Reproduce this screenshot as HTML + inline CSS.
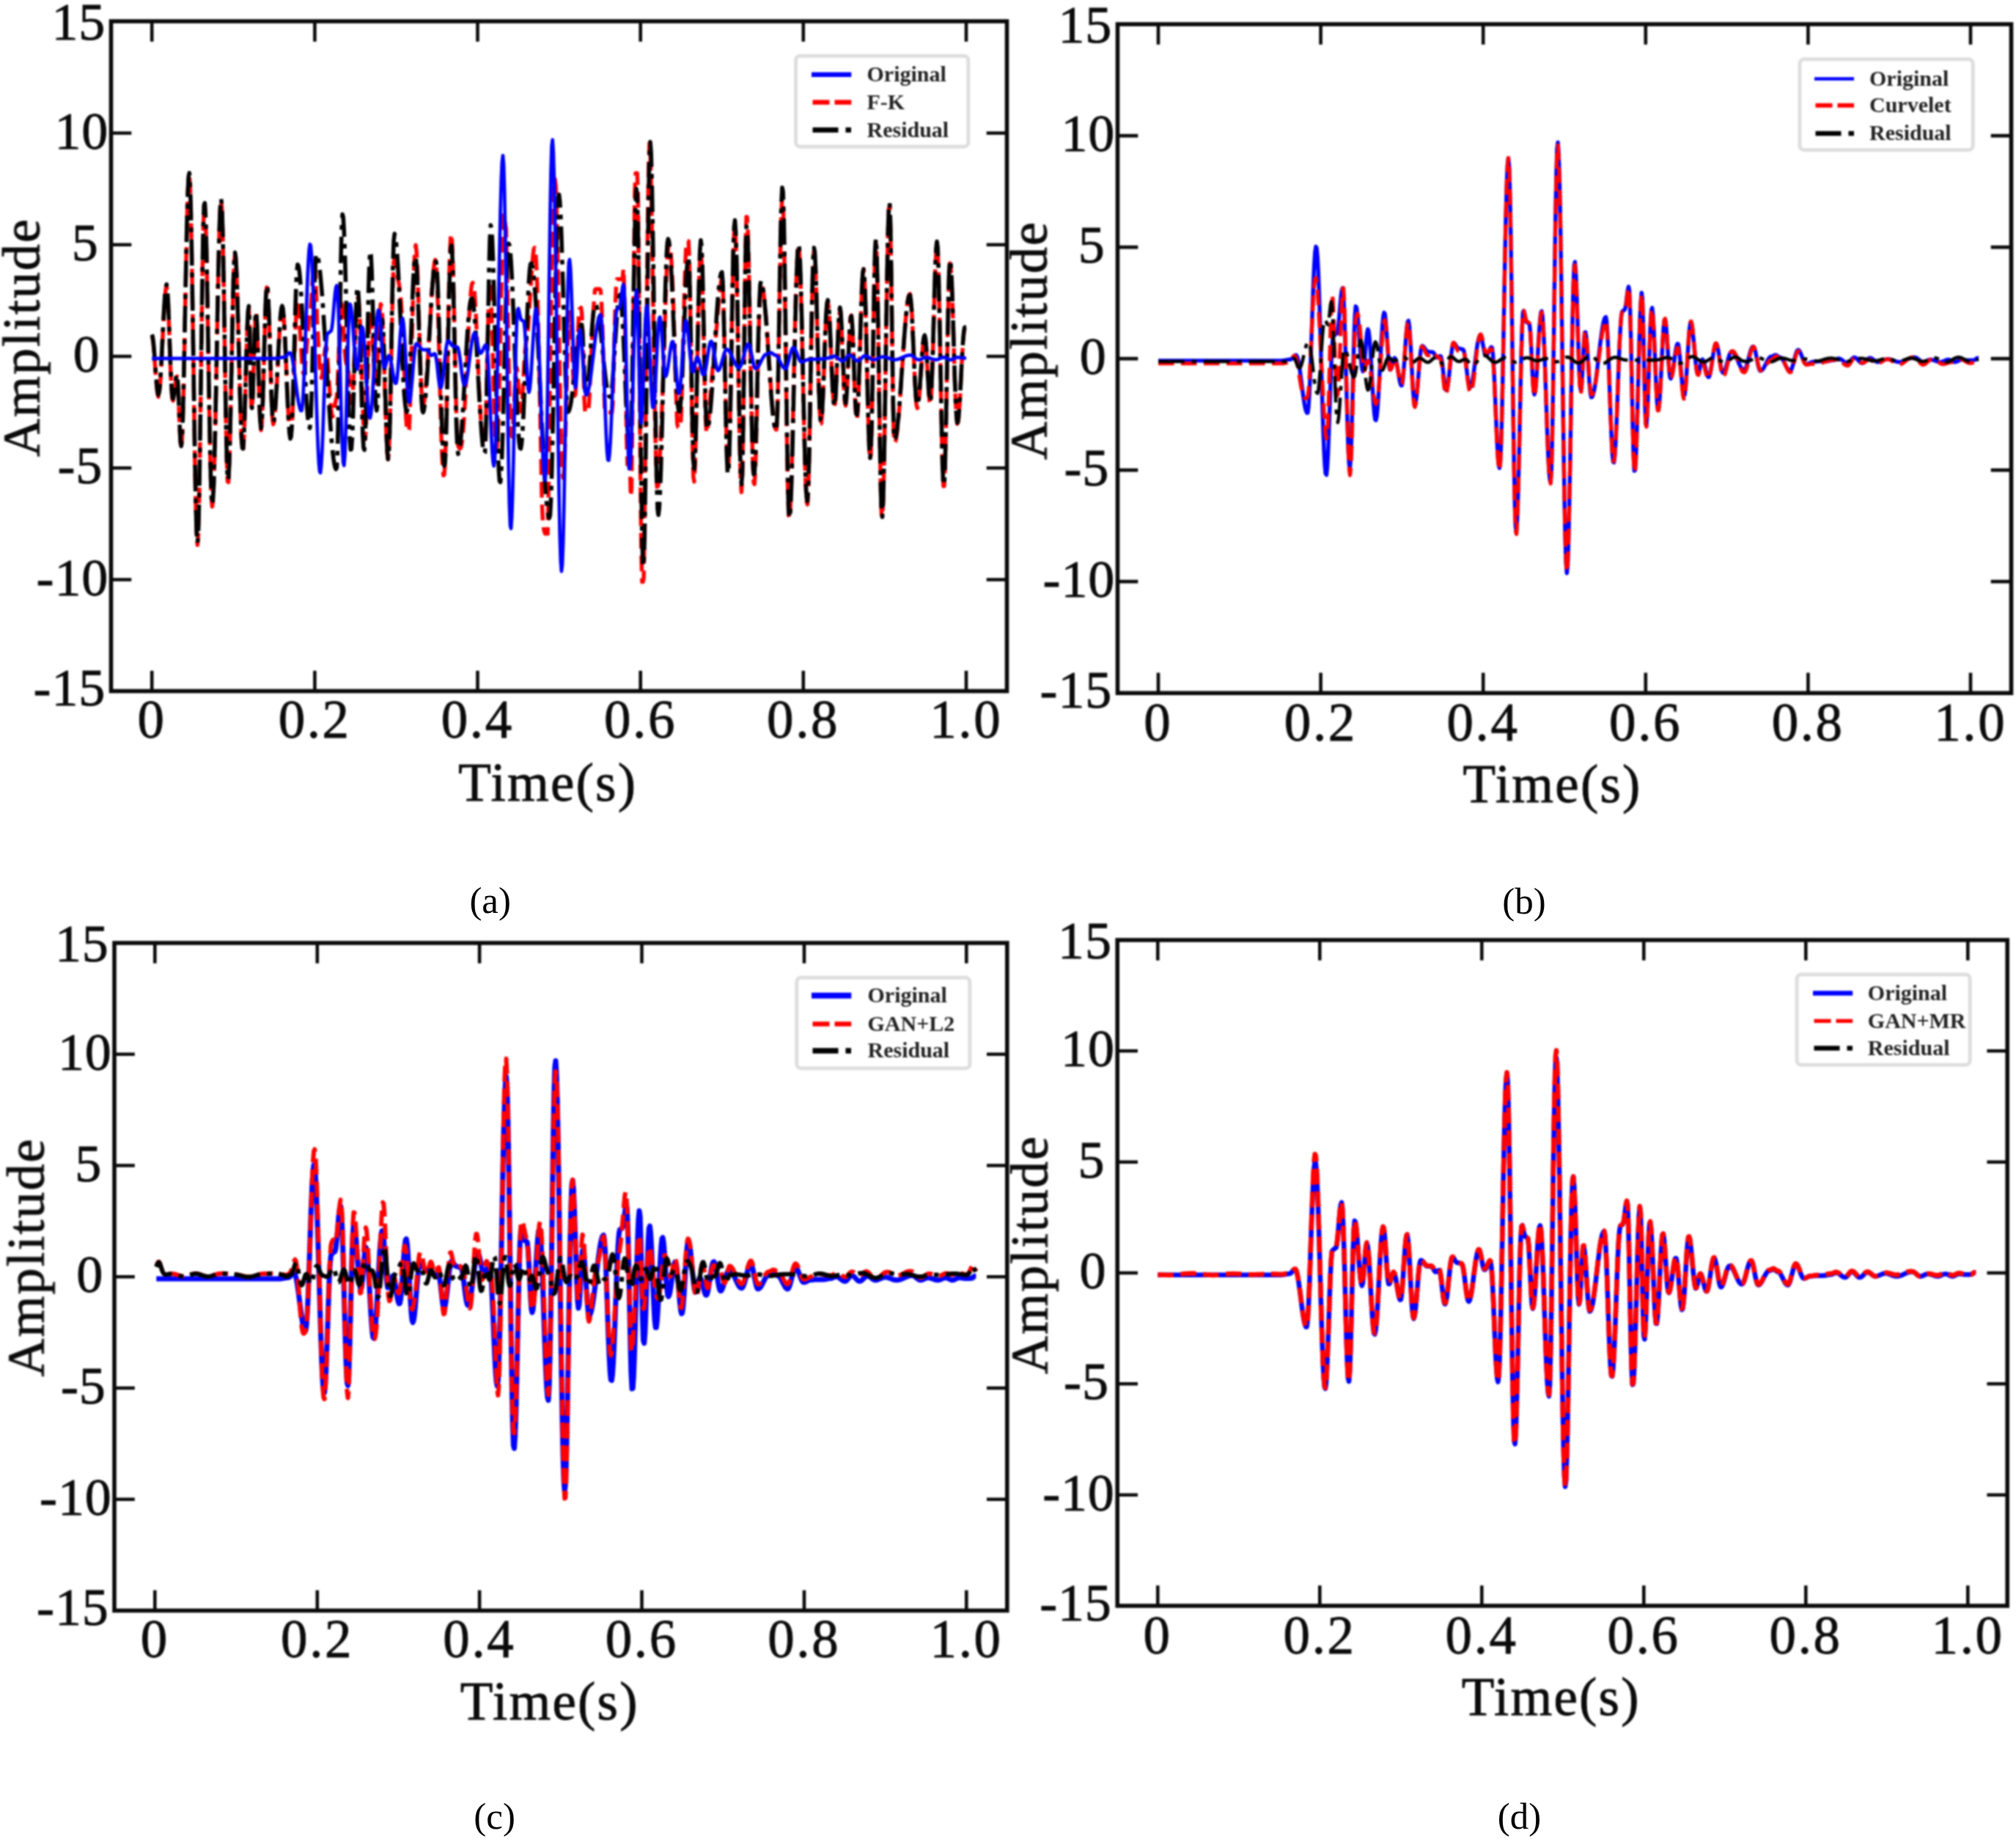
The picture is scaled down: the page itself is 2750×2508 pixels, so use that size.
<!DOCTYPE html>
<html lang="en"><head><meta charset="utf-8"><title>Denoising comparison of a single trace</title>
<style>html,body{margin:0;padding:0;background:#fff;overflow:hidden;width:2750px;height:2508px}svg{display:block}text{font-family:"Liberation Serif", "DejaVu Serif", serif;fill:#0b0b0b}.tk,.tx,.ax,.am{stroke:#0b0b0b;stroke-width:.9px}.tk{font-size:72px;letter-spacing:.8px}.tx{font-size:73px;letter-spacing:2.6px}.ax{font-size:73px;letter-spacing:2.2px}.am{font-size:72px;letter-spacing:2px}.lg{font-size:30px;font-weight:bold;fill:#222}.sub{font-size:51px;fill:#000}</style></head><body>
<svg width="2750" height="2508" viewBox="0 0 2750 2508">
<defs><filter id="soft" color-interpolation-filters="sRGB" x="-2%" y="-2%" width="104%" height="104%"><feGaussianBlur stdDeviation="0.85"/></filter><filter id="softt" color-interpolation-filters="sRGB" x="-10%" y="-20%" width="120%" height="140%"><feGaussianBlur stdDeviation="0.8"/></filter></defs>
<rect width="2750" height="2508" fill="#fff"/>
<g id="panel-a" filter="url(#soft)">
<path d="M207.2 459.1L208.3 462.2L209.4 471.0L210.5 484.3L211.6 500.0L212.8 515.7L213.9 529.0L215.0 537.9L216.1 541.1L217.2 537.6L218.3 527.0L219.4 510.4L220.5 489.4L221.6 466.1L222.8 442.8L223.9 421.8L225.0 405.0L226.1 394.3L227.2 390.6L228.3 397.0L229.4 415.4L230.5 442.7L231.6 474.3L232.7 505.0L233.9 529.7L235.0 544.1L236.1 546.5L237.2 541.3L238.3 532.1L239.4 522.0L240.5 514.8L241.6 513.3L242.7 525.9L243.9 551.5L245.0 581.0L246.1 603.6L247.2 611.2L248.3 600.4L249.4 571.8L250.5 528.4L251.6 474.4L252.7 415.5L253.9 357.4L255.0 306.2L256.1 266.9L257.2 243.6L258.3 238.6L259.4 255.7L260.5 294.6L261.6 351.6L262.7 421.6L263.9 497.9L265.0 573.6L266.1 641.5L267.2 695.6L268.3 730.6L269.4 743.4L270.5 729.3L271.6 685.7L272.7 618.5L273.8 536.9L275.0 451.6L276.1 374.3L277.2 315.3L278.3 282.6L279.4 279.6L280.5 300.0L281.6 340.3L282.7 396.0L283.8 461.2L285.0 528.9L286.1 591.8L287.2 643.1L288.3 677.5L289.4 691.1L290.5 684.6L291.6 661.8L292.7 624.5L293.8 575.7L295.0 519.3L296.1 460.0L297.2 402.5L298.3 351.4L299.4 311.0L300.5 284.3L301.6 273.7L302.7 283.8L303.8 319.2L305.0 375.2L306.1 443.9L307.2 515.9L308.3 581.0L309.4 630.3L310.5 656.8L311.6 657.6L312.7 637.0L313.8 598.4L314.9 547.1L316.1 490.0L317.2 434.6L318.3 388.6L319.4 358.0L320.5 347.0L321.6 353.9L322.7 374.5L323.8 406.6L324.9 446.7L326.1 490.6L327.2 533.5L328.3 570.9L329.4 598.6L330.5 613.8L331.6 614.5L332.7 598.4L333.8 567.8L334.9 528.2L336.1 486.8L337.2 451.0L338.3 427.3L339.4 420.1L340.5 448.3L341.6 505.7L342.7 552.8L343.8 559.4L344.9 538.0L346.0 500.8L347.2 461.3L348.3 433.8L349.4 428.0L350.5 442.7L351.6 473.0L352.7 511.6L353.8 549.0L354.9 576.3L356.0 586.8L357.2 578.7L358.3 554.4L359.4 518.3L360.5 476.8L361.6 437.4L362.7 407.3L363.8 391.9L364.9 393.5L366.0 410.5L367.2 439.8L368.3 476.6L369.4 514.8L370.5 547.9L371.6 570.4L372.7 578.7L373.8 575.6L374.9 566.4L376.0 551.8L377.2 532.9L378.3 511.2L379.4 488.4L380.5 466.5L381.6 447.2L382.7 432.0L383.8 422.2L384.9 418.5L386.0 422.3L387.1 434.1L388.3 452.9L389.4 476.3L390.5 502.3L391.6 528.5L392.7 552.6L393.8 572.6L394.9 586.6L396.0 593.7L397.1 592.7L398.3 579.3L399.4 555.1L400.5 523.7L401.6 489.5L402.7 457.4L403.8 432.1L404.9 417.4L406.0 415.9L407.1 424.7L408.3 437.2L409.4 452.8L410.5 470.8L411.6 489.8L412.7 503.3L413.8 509.3L414.9 508.2L416.0 501.1L417.1 489.5L418.3 475.4L419.4 460.7L420.5 447.4L421.6 437.1L422.7 430.8L423.8 420.9L424.9 404.9L426.0 386.2L427.1 369.4L428.2 359.3L429.4 360.6L430.5 376.2L431.6 407.2L432.7 443.1L433.8 456.9L434.9 480.7L436.0 499.1L437.1 511.0L438.2 515.3L439.4 512.2L440.5 503.7L441.6 492.5L442.7 481.8L443.8 474.8L444.9 471.8L446.0 478.2L447.1 494.7L448.2 511.9L449.4 527.9L450.5 543.0L451.6 557.3L452.7 566.3L453.8 568.2L454.9 564.8L456.0 558.3L457.1 551.2L458.2 545.8L459.4 541.2L460.5 524.0L461.6 496.7L462.7 464.8L463.8 435.2L464.9 414.5L466.0 407.9L467.1 418.4L468.2 441.1L469.3 463.8L470.5 481.3L471.6 491.7L472.7 496.9L473.8 499.7L474.9 503.8L476.0 512.3L477.1 526.9L478.2 543.1L479.3 549.8L480.5 544.8L481.6 528.8L482.7 504.6L483.8 476.2L484.9 448.2L486.0 425.1L487.1 410.5L488.2 405.9L489.3 411.0L490.5 426.2L491.6 451.0L492.7 483.3L493.8 519.7L494.9 554.7L496.0 582.7L497.1 599.6L498.2 598.8L499.3 580.4L500.5 548.5L501.6 510.0L502.7 472.4L503.8 442.8L504.9 426.7L506.0 425.9L507.1 436.9L508.2 456.7L509.3 480.7L510.4 503.3L511.6 518.8L512.7 522.8L513.8 513.1L514.9 493.6L516.0 468.9L517.1 443.7L518.2 424.3L519.3 414.8L520.4 417.3L521.6 431.9L522.7 458.0L523.8 491.6L524.9 528.0L526.0 564.7L527.1 596.3L528.2 617.9L529.3 626.6L530.4 618.5L531.6 588.5L532.7 541.3L533.8 485.2L534.9 429.7L536.0 384.5L537.1 357.4L538.2 353.0L539.3 359.1L540.4 367.3L541.6 374.3L542.7 380.0L543.8 385.1L544.9 391.1L546.0 399.6L547.1 411.8L548.2 428.6L549.3 450.1L550.4 476.9L551.5 507.6L552.7 539.4L553.8 569.1L554.9 583.1L556.0 583.1L557.1 588.0L558.2 585.9L559.3 556.0L560.4 517.9L561.5 475.3L562.7 432.2L563.8 393.1L564.9 361.6L566.0 341.2L567.1 334.2L568.2 343.5L569.3 365.9L570.4 397.5L571.5 434.5L572.7 472.5L573.8 507.0L574.9 533.8L576.0 549.7L577.1 553.2L578.2 550.3L579.3 543.6L580.4 533.2L581.5 519.6L582.7 503.3L583.8 485.7L584.9 467.8L586.0 449.6L587.1 431.3L588.2 413.1L589.3 395.6L590.4 380.0L591.5 367.2L592.6 358.2L593.8 354.3L594.9 358.7L596.0 376.8L597.1 408.0L598.2 448.4L599.3 493.6L600.4 538.8L601.5 579.7L602.6 613.2L603.8 636.7L604.9 648.4L606.0 647.4L607.1 632.0L608.2 597.7L609.3 548.7L610.4 491.5L611.5 434.0L612.6 382.3L613.8 342.8L614.9 320.8L616.0 319.2L617.1 337.1L618.2 371.6L619.3 418.7L620.4 472.0L621.5 524.1L622.6 567.6L623.8 596.4L624.9 607.8L626.0 610.4L627.1 611.8L628.2 611.4L629.3 608.4L630.4 602.0L631.5 591.7L632.6 577.4L633.7 559.1L634.9 537.8L636.0 514.8L637.1 491.1L638.2 467.5L639.3 445.1L640.4 425.0L641.5 408.1L642.6 395.2L643.7 387.2L644.9 385.7L646.0 387.9L647.1 397.0L648.2 411.8L649.3 431.7L650.4 455.7L651.5 482.0L652.6 508.7L653.7 533.9L654.9 555.8L656.0 573.5L657.1 587.5L658.2 597.5L659.3 603.5L660.4 605.7L661.5 602.6L662.6 578.9L663.7 534.9L664.8 484.0L666.0 436.3L667.1 400.8L668.2 385.0L669.3 393.2L670.4 421.5L671.5 458.5L672.6 500.4L673.7 543.5L674.8 580.9L676.0 605.1L677.1 614.3L678.2 608.0L679.3 587.0L680.4 553.2L681.5 509.6L682.6 459.5L683.7 406.6L684.8 354.9L686.0 308.9L687.1 293.1L688.2 293.1L689.3 305.8L690.4 312.1L691.5 360.2L692.6 418.1L693.7 479.2L694.8 534.4L696.0 572.9L697.1 591.5L698.2 595.3L699.3 586.9L700.4 569.4L701.5 547.1L702.6 525.0L703.7 508.2L704.8 501.2L705.9 506.8L707.1 524.4L708.2 542.2L709.3 555.6L710.4 561.2L711.5 556.0L712.6 543.1L713.7 523.9L714.8 500.2L715.9 482.1L717.1 470.9L718.2 463.7L719.3 456.8L720.4 446.8L721.5 431.3L722.6 412.7L723.7 394.5L724.8 378.0L725.9 362.0L727.1 348.3L728.2 339.3L729.3 337.8L730.4 343.1L731.5 358.5L732.6 384.5L733.7 421.0L734.8 466.4L735.9 518.5L737.1 574.5L738.2 631.4L739.3 686.2L740.4 710.3L741.5 719.4L742.6 725.3L743.7 727.9L744.8 727.9L745.9 727.9L747.0 727.9L748.2 669.2L749.3 590.0L750.4 510.8L751.5 431.8L752.6 361.3L753.7 306.1L754.8 266.5L755.9 247.5L757.0 244.1L758.2 253.2L759.3 284.9L760.4 331.8L761.5 390.1L762.6 455.3L763.7 518.4L764.8 573.3L765.9 615.8L767.0 642.7L768.2 651.9L769.3 643.7L770.4 620.2L771.5 585.2L772.6 543.5L773.7 500.3L774.8 460.9L775.9 433.4L777.0 425.7L778.2 433.1L779.3 451.9L780.4 477.7L781.5 505.0L782.6 527.5L783.7 539.9L784.8 538.4L785.9 522.4L787.0 495.1L788.1 462.7L789.3 433.3L790.4 421.4L791.5 421.4L792.6 419.5L793.7 427.3L794.8 456.6L795.9 499.4L797.0 544.2L798.1 561.2L799.3 561.2L800.4 561.2L801.5 561.2L802.6 561.2L803.7 547.1L804.8 524.2L805.9 499.3L807.0 473.8L808.1 449.4L809.3 427.5L810.4 409.2L811.5 395.6L812.6 394.3L813.7 394.3L814.8 394.3L815.9 394.3L817.0 394.3L818.1 394.3L819.3 396.3L820.4 411.0L821.5 437.4L822.6 472.4L823.7 513.0L824.8 555.8L825.9 562.5L827.0 562.5L828.1 562.5L829.2 562.5L830.4 562.5L831.5 562.5L832.6 562.5L833.7 562.5L834.8 562.5L835.9 551.0L837.0 505.8L838.1 461.6L839.2 421.9L840.4 389.8L841.5 380.7L842.6 380.7L843.7 380.7L844.8 380.7L845.9 380.7L847.0 380.7L848.1 380.7L849.2 380.7L850.4 366.4L851.5 391.9L852.6 446.8L853.7 519.4L854.8 599.2L855.9 633.5L857.0 633.5L858.1 633.5L859.2 633.5L860.4 677.2L861.5 666.3L862.6 572.4L863.7 464.3L864.8 356.4L865.9 263.2L867.0 236.2L868.1 236.2L869.2 236.2L870.3 264.8L871.5 389.5L872.6 531.3L873.7 660.4L874.8 753.6L875.9 793.6L877.0 793.6L878.1 788.4L879.2 716.4L880.3 615.1L881.5 500.3L882.6 388.8L883.7 293.2L884.8 225.7L885.9 195.4L887.0 205.9L888.1 246.7L889.2 305.5L890.3 375.2L891.5 448.5L892.6 519.4L893.7 581.7L894.8 629.7L895.9 659.7L897.0 669.7L898.1 660.1L899.2 641.2L900.3 619.2L901.5 594.6L902.6 568.0L903.7 539.5L904.8 508.9L905.9 475.8L907.0 440.7L908.1 404.9L909.2 373.9L910.3 351.3L911.4 338.8L912.6 334.0L913.7 335.2L914.8 342.7L915.9 356.8L917.0 377.2L918.1 403.1L919.2 435.3L920.3 472.0L921.4 510.2L922.6 546.4L923.7 577.2L924.8 582.5L925.9 582.5L927.0 582.5L928.1 582.5L929.2 566.9L930.3 528.1L931.4 483.3L932.6 437.3L933.7 394.8L934.8 359.9L935.9 335.6L937.0 329.0L938.1 329.0L939.2 329.0L940.3 352.9L941.4 407.7L942.5 478.9L943.7 552.6L944.8 614.1L945.9 651.1L947.0 656.9L948.1 636.2L949.2 595.6L950.3 542.0L951.4 483.6L952.5 427.7L953.7 381.7L954.8 352.0L955.9 342.6L957.0 354.8L958.1 386.4L959.2 432.1L960.3 484.2L961.4 533.3L962.5 570.8L963.7 590.3L964.8 588.5L965.9 578.4L967.0 565.9L968.1 552.1L969.2 537.8L970.3 523.7L971.4 510.4L972.5 497.9L973.7 486.2L974.8 475.0L975.9 463.9L977.0 452.4L978.1 440.2L979.2 427.2L980.3 414.1L981.4 402.2L982.5 391.9L983.6 383.8L984.8 378.3L985.9 386.9L987.0 416.9L988.1 462.9L989.2 517.0L990.3 569.6L991.4 611.8L992.5 635.9L993.6 637.6L994.8 615.9L995.9 573.9L997.0 517.5L998.1 454.9L999.2 395.1L1000.3 346.7L1001.4 316.7L1002.5 309.6L1003.6 327.2L1004.8 367.4L1005.9 425.0L1007.0 491.9L1008.1 558.8L1009.2 616.2L1010.3 655.5L1011.4 671.2L1012.5 654.5L1013.6 595.0L1014.8 506.9L1015.9 412.4L1017.0 335.5L1018.1 295.6L1019.2 296.0L1020.3 318.4L1021.4 358.9L1022.5 413.5L1023.6 475.7L1024.7 538.2L1025.9 593.6L1027.0 635.3L1028.1 658.4L1029.2 660.3L1030.3 642.2L1031.4 607.0L1032.5 560.8L1033.6 510.0L1034.7 461.7L1035.9 422.6L1037.0 397.8L1038.1 390.3L1039.2 390.1L1040.3 392.8L1041.4 398.3L1042.5 406.5L1043.6 417.4L1044.7 430.5L1045.9 445.5L1047.0 461.5L1048.1 477.8L1049.2 494.1L1050.3 510.2L1051.4 525.7L1052.5 540.5L1053.6 554.1L1054.7 566.0L1055.9 575.4L1057.0 582.0L1058.1 585.6L1059.2 585.9L1060.3 565.5L1061.4 521.2L1062.5 460.7L1063.6 394.3L1064.7 333.6L1065.8 289.1L1067.0 268.4L1068.1 275.9L1069.2 312.5L1070.3 373.5L1071.4 450.5L1072.5 532.7L1073.6 608.7L1074.7 668.0L1075.8 702.6L1077.0 707.8L1078.1 693.7L1079.2 666.7L1080.3 629.0L1081.4 583.5L1082.5 533.7L1083.6 483.1L1084.7 435.3L1085.8 394.0L1087.0 362.1L1088.1 342.1L1089.2 335.4L1090.3 342.7L1091.4 364.1L1092.5 397.8L1093.6 440.9L1094.7 490.1L1095.8 541.4L1097.0 590.3L1098.1 632.6L1099.2 664.7L1100.3 683.8L1101.4 688.1L1102.5 671.5L1103.6 633.0L1104.7 577.9L1105.8 514.1L1106.9 450.3L1108.1 395.6L1109.2 357.5L1110.3 341.6L1111.4 347.1L1112.5 368.6L1113.6 402.9L1114.7 445.2L1115.8 489.6L1116.9 529.9L1118.1 560.4L1119.2 576.8L1120.3 577.5L1121.4 566.2L1122.5 544.9L1123.6 516.6L1124.7 485.4L1125.8 455.5L1126.9 431.1L1128.1 415.8L1129.2 411.5L1130.3 418.0L1131.4 433.6L1132.5 455.9L1133.6 482.0L1134.7 508.2L1135.8 530.9L1136.9 546.8L1138.1 553.9L1139.2 549.8L1140.3 533.0L1141.4 506.8L1142.5 476.9L1143.6 449.5L1144.7 430.4L1145.8 423.8L1146.9 430.9L1148.0 450.1L1149.2 477.4L1150.3 507.2L1151.4 533.1L1152.5 549.5L1153.6 553.2L1154.7 543.8L1155.8 523.6L1156.9 496.9L1158.0 469.0L1159.2 445.7L1160.3 431.7L1161.4 430.1L1162.5 442.4L1163.6 466.6L1164.7 497.9L1165.8 529.7L1166.9 555.7L1168.0 570.6L1169.2 571.3L1170.3 557.8L1171.4 532.0L1172.5 497.6L1173.6 459.4L1174.7 422.6L1175.8 392.4L1176.9 373.0L1178.0 367.0L1179.1 377.9L1180.3 405.5L1181.4 446.0L1182.5 493.7L1183.6 541.8L1184.7 583.8L1185.8 613.7L1186.9 627.3L1188.0 618.8L1189.1 581.2L1190.3 522.2L1191.4 454.1L1192.5 391.2L1193.6 346.5L1194.7 329.3L1195.8 343.7L1196.9 387.8L1198.0 454.0L1199.1 531.1L1200.3 606.1L1201.4 666.2L1202.5 701.2L1203.6 705.7L1204.7 683.7L1205.8 639.2L1206.9 577.3L1208.0 505.5L1209.1 432.1L1210.3 365.9L1211.4 314.7L1212.5 284.5L1213.6 279.6L1214.7 312.1L1215.8 378.2L1216.9 460.8L1218.0 538.2L1219.1 590.3L1220.2 604.2L1221.4 602.3L1222.5 597.7L1223.6 590.4L1224.7 580.8L1225.8 569.0L1226.9 555.4L1228.0 540.3L1229.1 524.2L1230.2 507.6L1231.4 490.7L1232.5 474.2L1233.6 458.5L1234.7 444.0L1235.8 431.1L1236.9 420.1L1238.0 411.4L1239.1 405.1L1240.2 401.6L1241.4 400.9L1242.5 407.3L1243.6 422.1L1244.7 443.5L1245.8 469.1L1246.9 495.7L1248.0 520.3L1249.1 540.1L1250.2 552.7L1251.4 556.7L1252.5 553.5L1253.6 544.9L1254.7 531.9L1255.8 516.0L1256.9 499.2L1258.0 483.3L1259.1 470.4L1260.2 461.9L1261.3 458.8L1262.5 463.4L1263.6 476.7L1264.7 495.8L1265.8 516.8L1266.9 535.2L1268.0 547.4L1269.1 550.7L1270.2 540.7L1271.3 516.8L1272.5 482.4L1273.6 442.4L1274.7 402.4L1275.8 367.9L1276.9 343.9L1278.0 333.7L1279.1 341.5L1280.2 371.4L1281.3 419.3L1282.5 478.5L1283.6 540.6L1284.7 597.1L1285.8 639.8L1286.9 663.0L1288.0 662.8L1289.1 637.6L1290.2 591.2L1291.3 531.5L1292.5 468.5L1293.6 413.0L1294.7 374.3L1295.8 358.9L1296.9 364.2L1298.0 381.9L1299.1 409.7L1300.2 444.4L1301.3 482.0L1302.4 518.0L1303.6 548.2L1304.7 569.0L1305.8 578.1L1306.9 575.9L1308.0 566.3L1309.1 550.5L1310.2 530.2L1311.3 508.1L1312.4 486.5L1313.6 468.1L1314.7 455.0L1315.8 448.8L1316.9 448.4L1318.0 448.4" fill="none" stroke="#ff0000" stroke-width="5.4" stroke-linejoin="round" stroke-dasharray="21.5 9.5"/>
<path d="M207.2 456.3L208.3 459.4L209.4 468.3L210.5 481.5L211.6 497.2L212.8 512.9L213.9 526.2L215.0 535.2L216.1 538.4L217.2 534.8L218.3 524.2L219.4 507.6L220.5 486.6L221.6 463.3L222.8 440.0L223.9 419.0L225.0 402.3L226.1 391.5L227.2 387.8L228.3 394.2L229.4 412.6L230.5 439.9L231.6 471.6L232.7 502.3L233.9 526.9L235.0 541.4L236.1 543.7L237.2 538.6L238.3 529.3L239.4 519.3L240.5 512.0L241.6 510.6L242.7 523.1L243.9 548.8L245.0 578.2L246.1 600.9L247.2 608.5L248.3 597.7L249.4 569.1L250.5 525.6L251.6 471.7L252.7 412.7L253.9 354.6L255.0 303.4L256.1 264.1L257.2 240.8L258.3 235.9L259.4 253.0L260.5 291.8L261.6 348.9L262.7 418.8L263.9 495.1L265.0 570.8L266.1 638.8L267.2 692.8L268.3 727.8L269.4 740.7L270.5 726.5L271.6 682.9L272.7 615.8L273.8 534.1L275.0 448.9L276.1 371.6L277.2 312.6L278.3 279.8L279.4 276.8L280.5 297.3L281.6 337.5L282.7 393.2L283.8 458.4L285.0 526.1L286.1 589.0L287.2 640.4L288.3 674.7L289.4 688.3L290.5 681.9L291.6 659.0L292.7 621.7L293.8 572.9L295.0 516.6L296.1 457.2L297.2 399.7L298.3 348.7L299.4 308.2L300.5 281.6L301.6 270.9L302.7 281.0L303.8 316.4L305.0 372.4L306.1 441.2L307.2 513.1L308.3 578.3L309.4 627.5L310.5 654.0L311.6 654.9L312.7 634.2L313.8 595.7L314.9 544.4L316.1 487.2L317.2 431.9L318.3 385.8L319.4 355.2L320.5 344.2L321.6 351.1L322.7 371.7L323.8 403.8L324.9 443.9L326.1 487.8L327.2 530.7L328.3 568.1L329.4 595.9L330.5 611.1L331.6 611.8L332.7 595.6L333.8 565.0L334.9 525.4L336.1 484.0L337.2 448.3L338.3 424.6L339.4 417.3L340.5 445.6L341.6 503.0L342.7 550.0L343.8 556.6L344.9 535.2L346.0 498.1L347.2 458.6L348.3 431.0L349.4 425.2L350.5 439.9L351.6 470.3L352.7 508.8L353.8 546.3L354.9 573.5L356.0 584.0L357.2 576.0L358.3 551.7L359.4 515.5L360.5 474.0L361.6 434.7L362.7 404.6L363.8 389.1L364.9 390.8L366.0 407.7L367.2 437.1L368.3 473.9L369.4 512.0L370.5 545.1L371.6 567.7L372.7 575.9L373.8 572.9L374.9 563.6L376.0 549.0L377.2 530.2L378.3 508.6L379.4 486.0L380.5 464.3L381.6 445.2L382.7 430.2L383.8 420.6L384.9 417.2L386.0 421.0L387.1 432.9L388.3 451.8L389.4 475.8L390.5 502.9L391.6 530.4L392.7 555.8L393.8 576.8L394.9 591.4L396.0 598.3L397.1 595.3L398.3 578.1L399.4 548.5L400.5 510.3L401.6 468.2L402.7 427.6L403.8 393.5L404.9 370.2L406.0 360.7L407.1 362.4L408.3 369.3L409.4 380.8L410.5 396.6L411.6 415.7L412.7 437.5L413.8 460.8L414.9 484.7L416.0 508.0L417.1 529.6L418.3 548.7L419.4 564.3L420.5 575.6L421.6 582.3L422.7 583.8L423.8 571.9L424.9 544.0L426.0 504.4L427.1 458.9L428.2 414.3L429.4 377.3L430.5 353.5L431.6 346.2L432.7 347.6L433.8 351.4L434.9 357.5L436.0 365.7L437.1 376.1L438.2 388.3L439.4 402.2L440.5 417.6L441.6 434.3L442.7 451.8L443.8 470.1L444.9 488.7L446.0 507.4L447.1 525.9L448.2 543.8L449.4 561.0L450.5 577.0L451.6 591.7L452.7 604.8L453.8 616.0L454.9 625.3L456.0 632.5L457.1 637.4L458.2 639.9L459.4 637.8L460.5 611.5L461.6 560.9L462.7 494.5L463.8 423.3L464.9 359.2L466.0 313.0L467.1 292.2L468.2 296.1L469.3 314.9L470.5 346.5L471.6 388.0L472.7 435.6L473.8 484.8L474.9 531.0L476.0 570.1L477.1 598.4L478.2 613.2L479.3 612.9L480.5 596.5L481.6 566.0L482.7 526.1L483.8 482.6L484.9 442.2L486.0 410.8L487.1 393.1L488.2 391.7L489.3 406.9L490.5 436.4L491.6 475.7L492.7 519.1L493.8 560.0L494.9 592.3L496.0 611.2L497.1 613.6L498.2 594.5L499.3 555.8L500.5 504.0L501.6 447.9L502.7 397.0L503.8 359.8L504.9 342.6L506.0 347.1L507.1 369.3L508.2 405.3L509.3 449.0L510.4 493.1L511.6 530.0L512.7 553.6L513.8 559.9L514.9 551.4L516.0 531.8L517.1 505.0L518.2 476.8L519.3 452.9L520.4 438.4L521.6 436.4L522.7 449.7L523.8 476.7L524.9 512.9L526.0 552.2L527.1 588.0L528.2 614.1L529.3 626.2L530.4 619.4L531.6 588.3L532.7 537.6L533.8 475.9L534.9 413.7L536.0 361.5L537.1 328.1L538.2 318.9L539.3 322.3L540.4 330.7L541.6 343.8L542.7 361.1L543.8 381.7L544.9 404.8L546.0 429.5L547.1 454.6L548.2 479.1L549.3 501.9L550.4 522.1L551.5 538.8L552.7 551.3L553.8 559.1L554.9 561.8L556.0 557.4L557.1 544.1L558.2 523.2L559.3 496.4L560.4 466.0L561.5 434.8L562.7 405.4L563.8 380.3L564.9 361.8L566.0 351.4L567.1 350.3L568.2 361.0L569.3 382.8L570.4 413.3L571.5 448.9L572.7 485.3L573.8 518.2L574.9 543.8L576.0 559.1L577.1 562.5L578.2 559.5L579.3 552.6L580.4 542.2L581.5 528.5L582.7 512.1L583.8 493.7L584.9 474.0L586.0 453.7L587.1 433.6L588.2 414.5L589.3 397.2L590.4 382.3L591.5 370.3L592.6 361.9L593.8 357.2L594.9 356.8L596.0 366.7L597.1 387.8L598.2 418.3L599.3 455.5L600.4 496.3L601.5 537.1L602.6 574.3L603.8 604.7L604.9 625.7L606.0 635.4L607.1 630.9L608.2 606.3L609.3 564.7L610.4 511.9L611.5 455.3L612.6 402.9L613.8 361.8L614.9 338.0L616.0 334.7L617.1 351.4L618.2 385.6L619.3 432.5L620.4 485.6L621.5 537.3L622.6 580.5L623.8 609.1L624.9 619.1L626.0 617.2L627.1 611.7L628.2 602.7L629.3 590.4L630.4 575.5L631.5 558.4L632.6 539.6L633.7 519.9L634.9 500.0L636.0 480.5L637.1 462.2L638.2 445.6L639.3 431.5L640.4 420.2L641.5 412.2L642.6 407.7L643.7 407.0L644.9 410.3L646.0 417.6L647.1 428.6L648.2 442.8L649.3 459.8L650.4 478.8L651.5 499.1L652.6 520.0L653.7 540.6L654.9 560.2L656.0 577.9L657.1 593.1L658.2 605.2L659.3 613.7L660.4 618.3L661.5 617.3L662.6 594.6L663.7 549.7L664.8 490.1L666.0 425.9L667.1 367.9L668.2 326.0L669.3 307.1L670.4 310.6L671.5 327.4L672.6 355.9L673.7 394.1L674.8 438.9L676.0 487.0L677.1 534.9L678.2 578.7L679.3 615.3L680.4 641.8L681.5 656.3L682.6 657.6L683.7 644.9L684.8 619.3L686.0 582.8L687.1 538.8L688.2 491.0L689.3 443.6L690.4 400.6L691.5 365.9L692.6 342.4L693.7 332.1L694.8 333.8L696.0 342.2L697.1 356.7L698.2 376.7L699.3 401.2L700.4 429.0L701.5 458.9L702.6 489.4L703.7 519.1L704.8 546.6L705.9 570.5L707.1 589.8L708.2 603.5L709.3 611.0L710.4 611.9L711.5 605.5L712.6 592.0L713.7 572.3L714.8 547.4L715.9 518.9L717.1 488.4L718.2 457.7L719.3 428.7L720.4 403.1L721.5 382.3L722.6 367.6L723.7 359.9L724.8 359.1L725.9 362.3L727.1 368.7L728.2 378.2L729.3 390.7L730.4 405.9L731.5 423.4L732.6 443.1L733.7 464.5L734.8 487.1L735.9 510.7L737.1 534.6L738.2 558.5L739.3 582.0L740.4 604.5L741.5 625.6L742.6 645.0L743.7 662.2L744.8 677.0L745.9 689.0L747.0 698.1L748.2 704.0L749.3 706.6L750.4 702.7L751.5 683.0L752.6 648.4L753.7 601.5L754.8 545.8L755.9 485.6L757.0 425.4L758.2 369.7L759.3 322.9L760.4 288.4L761.5 268.8L762.6 265.4L763.7 274.5L764.8 294.1L765.9 322.7L767.0 358.2L768.2 397.9L769.3 438.7L770.4 477.6L771.5 511.6L772.6 538.2L773.7 555.4L774.8 561.8L775.9 560.9L777.0 557.9L778.2 552.9L779.3 546.2L780.4 537.9L781.5 528.3L782.6 517.8L783.7 506.7L784.8 495.4L785.9 484.4L787.0 474.1L788.1 464.7L789.3 456.6L790.4 450.1L791.5 445.5L792.6 442.8L793.7 442.7L794.8 455.0L795.9 479.8L797.0 508.5L798.1 531.2L799.3 539.9L800.4 537.6L801.5 530.8L802.6 519.9L803.7 505.8L804.8 489.6L805.9 472.5L807.0 455.8L808.1 440.7L809.3 428.4L810.4 419.8L811.5 415.6L812.6 415.6L813.7 417.6L814.8 421.5L815.9 427.1L817.0 434.1L818.1 442.5L819.3 452.0L820.4 462.2L821.5 472.9L822.6 483.8L823.7 494.6L824.8 504.8L825.9 514.3L827.0 522.7L828.1 529.7L829.2 535.3L830.4 539.2L831.5 541.2L832.6 541.2L833.7 537.1L834.8 528.6L835.9 516.3L837.0 501.1L838.1 483.9L839.2 465.8L840.4 448.2L841.5 432.1L842.6 418.7L843.7 408.8L844.8 403.1L845.9 402.0L847.0 407.2L848.1 419.1L849.2 436.9L850.4 459.3L851.5 484.9L852.6 512.0L853.7 538.8L854.8 563.4L855.9 584.3L857.0 600.0L858.1 609.6L859.2 612.2L860.4 597.1L861.5 559.2L862.6 503.8L863.7 438.8L864.8 373.1L865.9 316.1L867.0 275.7L868.1 257.5L869.2 267.4L870.3 311.9L871.5 385.0L872.6 476.5L873.7 573.5L874.8 662.6L875.9 731.2L877.0 769.7L878.1 772.3L879.2 735.5L880.3 663.5L881.5 566.5L882.6 458.1L883.7 353.4L884.8 267.1L885.9 211.2L887.0 193.6L888.1 208.2L889.2 246.9L890.3 305.8L891.5 379.0L892.6 459.2L893.7 538.3L894.8 608.2L895.9 662.1L897.0 694.5L898.1 702.3L899.2 693.5L900.3 672.7L901.5 641.4L902.6 601.6L903.7 556.0L904.8 507.7L905.9 459.7L907.0 415.4L908.1 377.7L909.2 349.0L910.3 331.4L911.4 325.9L912.6 329.4L913.7 338.9L914.8 354.0L915.9 373.8L917.0 397.3L918.1 423.2L919.2 450.2L920.3 476.9L921.4 501.9L922.6 523.7L923.7 541.4L924.8 554.0L925.9 560.7L927.0 561.1L928.1 553.9L929.2 539.3L930.3 518.4L931.4 492.8L932.6 464.4L933.7 435.3L934.8 407.9L935.9 384.0L937.0 365.7L938.1 354.1L939.2 350.3L940.3 366.1L941.4 408.7L942.5 469.3L943.7 535.3L944.8 593.0L945.9 630.4L947.0 639.8L948.1 624.6L949.2 589.8L950.3 540.1L951.4 482.5L952.5 425.1L953.7 375.8L954.8 341.7L955.9 327.5L957.0 335.1L958.1 363.2L959.2 407.0L960.3 459.2L961.4 510.9L962.5 553.3L963.7 579.4L964.8 585.3L965.9 582.9L967.0 577.4L968.1 568.9L969.2 557.8L970.3 544.2L971.4 528.8L972.5 511.8L973.7 493.8L974.8 475.4L975.9 457.0L977.0 439.3L978.1 422.8L979.2 407.9L980.3 395.0L981.4 384.7L982.5 377.1L983.6 372.5L984.8 371.1L985.9 383.9L987.0 418.0L988.1 467.7L989.2 524.4L990.3 578.7L991.4 621.4L992.5 645.2L993.6 646.0L994.8 623.0L995.9 579.2L997.0 520.7L998.1 455.7L999.2 393.4L1000.3 342.4L1001.4 309.9L1002.5 300.4L1003.6 315.9L1004.8 354.4L1005.9 410.6L1007.0 476.7L1008.1 543.3L1009.2 601.1L1010.3 642.1L1011.4 660.6L1012.5 647.5L1013.6 592.2L1014.8 508.5L1015.9 418.4L1017.0 345.4L1018.1 308.7L1019.2 311.4L1020.3 334.9L1021.4 375.3L1022.5 427.7L1023.6 486.0L1024.7 543.3L1025.9 592.8L1027.0 628.8L1028.1 646.9L1029.2 645.4L1030.3 625.6L1031.4 590.4L1032.5 544.8L1033.6 495.2L1034.7 448.5L1035.9 411.2L1037.0 388.6L1038.1 383.3L1039.2 385.4L1040.3 390.2L1041.4 397.6L1042.5 407.5L1043.6 419.4L1044.7 433.2L1045.9 448.4L1047.0 464.7L1048.1 481.5L1049.2 498.4L1050.3 514.9L1051.4 530.7L1052.5 545.2L1053.6 558.1L1054.7 569.0L1055.9 577.7L1057.0 583.8L1058.1 587.2L1059.2 586.9L1060.3 565.3L1061.4 519.4L1062.5 456.8L1063.6 388.2L1064.7 325.2L1065.8 278.4L1067.0 255.7L1068.1 261.5L1069.2 296.8L1070.3 356.9L1071.4 433.8L1072.5 517.0L1073.6 595.3L1074.7 658.0L1075.8 696.7L1077.0 706.5L1078.1 696.8L1079.2 673.6L1080.3 638.9L1081.4 595.1L1082.5 545.7L1083.6 494.3L1084.7 444.8L1085.8 401.1L1087.0 366.3L1088.1 343.2L1089.2 333.5L1090.3 338.3L1091.4 357.8L1092.5 390.4L1093.6 433.3L1094.7 482.7L1095.8 534.4L1097.0 583.8L1098.1 626.7L1099.2 659.4L1100.3 679.0L1101.4 683.6L1102.5 667.0L1103.6 628.6L1104.7 573.6L1105.8 509.9L1106.9 446.3L1108.1 391.7L1109.2 353.7L1110.3 337.8L1111.4 343.4L1112.5 364.8L1113.6 399.2L1114.7 441.5L1115.8 485.9L1116.9 526.2L1118.1 556.7L1119.2 573.1L1120.3 573.9L1121.4 562.5L1122.5 541.3L1123.6 513.3L1124.7 482.2L1125.8 452.6L1126.9 428.5L1128.1 413.4L1129.2 409.2L1130.3 415.8L1131.4 431.5L1132.5 454.3L1133.6 480.9L1134.7 507.6L1135.8 530.7L1136.9 546.9L1138.1 554.0L1139.2 549.7L1140.3 532.4L1141.4 505.6L1142.5 474.8L1143.6 446.6L1144.7 426.7L1145.8 419.2L1146.9 425.6L1148.0 444.3L1149.2 471.3L1150.3 501.1L1151.4 527.5L1152.5 545.0L1153.6 549.9L1154.7 541.9L1155.8 523.2L1156.9 497.6L1158.0 470.5L1159.2 447.4L1160.3 433.2L1161.4 430.9L1162.5 442.2L1163.6 465.3L1164.7 495.3L1165.8 525.9L1166.9 550.9L1168.0 564.9L1169.2 565.2L1170.3 551.7L1171.4 526.3L1172.5 492.6L1173.6 455.3L1174.7 419.7L1175.8 390.6L1176.9 372.2L1178.0 367.1L1179.1 378.6L1180.3 406.4L1181.4 446.8L1182.5 494.1L1183.6 541.7L1184.7 582.8L1185.8 611.8L1186.9 624.6L1188.0 615.3L1189.1 577.1L1190.3 517.8L1191.4 449.6L1192.5 386.7L1193.6 342.2L1194.7 325.4L1195.8 340.2L1196.9 384.7L1198.0 451.4L1199.1 529.0L1200.3 604.5L1201.4 665.0L1202.5 700.3L1203.6 705.0L1204.7 683.1L1205.8 638.5L1206.9 576.6L1208.0 504.5L1209.1 430.8L1210.3 364.3L1211.4 312.6L1212.5 282.0L1213.6 276.6L1214.7 308.6L1215.8 374.4L1216.9 456.7L1218.0 533.9L1219.1 585.8L1220.2 599.7L1221.4 597.8L1222.5 593.3L1223.6 586.2L1224.7 576.9L1225.8 565.4L1226.9 552.2L1228.0 537.6L1229.1 522.0L1230.2 505.8L1231.4 489.5L1232.5 473.5L1233.6 458.2L1234.7 444.2L1235.8 431.7L1236.9 421.0L1238.0 412.6L1239.1 406.6L1240.2 403.2L1241.4 402.6L1242.5 409.0L1243.6 423.4L1244.7 444.2L1245.8 468.9L1246.9 494.7L1248.0 518.4L1249.1 537.3L1250.2 549.1L1251.4 552.5L1252.5 549.0L1253.6 540.4L1254.7 527.5L1255.8 512.0L1256.9 495.6L1258.0 480.3L1259.1 467.9L1260.2 459.9L1261.3 457.2L1262.5 462.0L1263.6 475.3L1264.7 494.4L1265.8 515.1L1266.9 533.3L1268.0 545.1L1269.1 548.1L1270.2 537.6L1271.3 513.3L1272.5 478.6L1273.6 438.3L1274.7 398.0L1275.8 363.4L1276.9 339.4L1278.0 329.2L1279.1 337.3L1280.2 367.5L1281.3 415.9L1282.5 475.6L1283.6 538.3L1284.7 595.1L1285.8 638.2L1286.9 661.5L1288.0 661.5L1289.1 636.1L1290.2 589.3L1291.3 529.0L1292.5 465.4L1293.6 409.3L1294.7 370.1L1295.8 354.4L1296.9 359.7L1298.0 377.4L1299.1 405.6L1300.2 440.8L1301.3 479.0L1302.4 515.6L1303.6 546.3L1304.7 567.5L1305.8 576.7L1306.9 574.5L1308.0 564.8L1309.1 548.8L1310.2 528.5L1311.3 506.1L1312.4 484.4L1313.6 465.9L1314.7 452.8L1315.8 446.6L1316.9 446.2L1318.0 446.2" fill="none" stroke="#000000" stroke-width="5.6" stroke-linejoin="round" stroke-dasharray="36 9.6 6.4 9.6"/>
<path d="M207.2 488.8L208.3 488.8L209.4 488.8L210.5 488.8L211.6 488.8L212.8 488.8L213.9 488.8L215.0 488.8L216.1 488.8L217.2 488.8L218.3 488.8L219.4 488.8L220.5 488.8L221.6 488.8L222.8 488.8L223.9 488.8L225.0 488.8L226.1 488.8L227.2 488.8L228.3 488.8L229.4 488.8L230.5 488.8L231.6 488.8L232.7 488.8L233.9 488.8L235.0 488.8L236.1 488.8L237.2 488.8L238.3 488.8L239.4 488.8L240.5 488.8L241.6 488.8L242.7 488.8L243.9 488.8L245.0 488.8L246.1 488.8L247.2 488.8L248.3 488.8L249.4 488.8L250.5 488.8L251.6 488.8L252.7 488.8L253.9 488.8L255.0 488.8L256.1 488.8L257.2 488.8L258.3 488.8L259.4 488.8L260.5 488.8L261.6 488.8L262.7 488.8L263.9 488.8L265.0 488.8L266.1 488.8L267.2 488.8L268.3 488.8L269.4 488.8L270.5 488.8L271.6 488.8L272.7 488.8L273.8 488.8L275.0 488.8L276.1 488.8L277.2 488.8L278.3 488.8L279.4 488.8L280.5 488.8L281.6 488.8L282.7 488.8L283.8 488.8L285.0 488.8L286.1 488.8L287.2 488.8L288.3 488.8L289.4 488.8L290.5 488.8L291.6 488.8L292.7 488.8L293.8 488.8L295.0 488.8L296.1 488.8L297.2 488.8L298.3 488.8L299.4 488.8L300.5 488.8L301.6 488.8L302.7 488.8L303.8 488.8L305.0 488.8L306.1 488.8L307.2 488.8L308.3 488.8L309.4 488.8L310.5 488.8L311.6 488.8L312.7 488.8L313.8 488.8L314.9 488.8L316.1 488.8L317.2 488.8L318.3 488.8L319.4 488.8L320.5 488.8L321.6 488.8L322.7 488.8L323.8 488.8L324.9 488.8L326.1 488.8L327.2 488.8L328.3 488.8L329.4 488.8L330.5 488.8L331.6 488.8L332.7 488.8L333.8 488.8L334.9 488.8L336.1 488.8L337.2 488.8L338.3 488.8L339.4 488.8L340.5 488.8L341.6 488.8L342.7 488.8L343.8 488.8L344.9 488.8L346.0 488.8L347.2 488.8L348.3 488.8L349.4 488.8L350.5 488.8L351.6 488.8L352.7 488.8L353.8 488.8L354.9 488.8L356.0 488.8L357.2 488.8L358.3 488.8L359.4 488.8L360.5 488.8L361.6 488.8L362.7 488.8L363.8 488.8L364.9 488.8L366.0 488.8L367.2 488.8L368.3 488.8L369.4 488.8L370.5 488.8L371.6 488.8L372.7 488.8L373.8 488.8L374.9 488.8L376.0 488.8L377.2 488.7L378.3 488.6L379.4 488.4L380.5 488.2L381.6 488.0L382.7 487.8L383.8 487.6L384.9 487.4L386.0 487.3L387.1 487.2L388.3 487.1L389.4 486.5L390.5 485.4L391.6 484.1L392.7 482.8L393.8 481.8L394.9 481.2L396.0 481.4L397.1 483.4L398.3 487.2L399.4 492.6L400.5 499.4L401.6 507.3L402.7 515.8L403.8 524.6L404.9 533.2L406.0 541.2L407.1 548.2L408.3 553.9L409.4 557.9L410.5 560.2L411.6 560.0L412.7 551.8L413.8 534.5L414.9 509.5L416.0 479.1L417.1 445.9L418.3 412.7L419.4 382.5L420.5 357.8L421.6 340.8L422.7 333.0L423.8 335.0L424.9 346.9L426.0 367.8L427.1 396.5L428.2 431.0L429.4 469.3L430.5 508.8L431.6 547.0L432.7 581.5L433.8 610.2L434.9 631.0L436.0 642.9L437.1 644.8L438.2 635.4L439.4 615.4L440.5 587.3L441.6 554.5L442.7 521.2L443.8 491.5L444.9 469.1L446.0 456.8L447.1 454.8L448.2 454.1L449.4 452.9L450.5 452.0L451.6 451.6L452.7 447.5L453.8 438.2L454.9 425.5L456.0 411.8L457.1 399.8L458.2 391.8L459.4 389.4L460.5 398.5L461.6 421.8L462.7 456.4L463.8 497.9L464.9 541.2L466.0 581.0L467.1 612.2L468.2 631.0L469.3 634.9L470.5 620.7L471.6 589.7L472.7 547.3L473.8 501.0L474.9 458.8L476.0 428.2L477.1 414.6L478.2 415.9L479.3 422.9L480.5 434.3L481.6 448.8L482.7 464.6L483.8 479.6L484.9 492.0L486.0 500.3L487.1 503.5L488.2 500.1L489.3 490.0L490.5 475.8L491.6 461.3L492.7 450.3L493.8 445.7L494.9 448.4L496.0 457.5L497.1 472.0L498.2 490.3L499.3 510.6L500.5 530.5L501.6 548.1L502.7 561.4L503.8 569.0L504.9 570.1L506.0 564.8L507.1 553.6L508.2 537.4L509.3 517.7L510.4 496.2L511.6 474.7L512.7 455.2L513.8 439.2L514.9 428.2L516.0 423.1L517.1 424.7L518.2 433.5L519.3 447.9L520.4 465.0L521.6 481.5L522.7 494.3L523.8 500.9L524.9 501.0L526.0 498.4L527.1 494.3L528.2 489.9L529.3 486.4L530.4 485.1L531.6 486.2L532.7 489.8L533.8 495.3L534.9 502.0L536.0 508.9L537.1 515.3L538.2 520.1L539.3 522.8L540.4 522.6L541.6 516.5L542.7 504.9L543.8 489.4L544.9 472.3L546.0 456.1L547.1 443.3L548.2 435.5L549.3 434.2L550.4 440.8L551.5 454.8L552.7 474.1L553.8 496.0L554.9 517.2L556.0 534.6L557.1 545.6L558.2 548.7L559.3 545.6L560.4 537.8L561.5 526.5L562.7 512.9L563.8 498.8L564.9 485.9L566.0 475.8L567.1 469.9L568.2 468.6L569.3 469.1L570.4 470.1L571.5 471.6L572.7 473.2L573.8 474.8L574.9 476.0L576.0 476.6L577.1 476.7L578.2 476.8L579.3 476.9L580.4 477.1L581.5 477.2L582.7 477.2L583.8 478.0L584.9 479.8L586.0 482.0L587.1 483.7L588.2 484.6L589.3 484.4L590.4 483.7L591.5 482.9L592.6 482.4L593.8 483.1L594.9 487.9L596.0 496.1L597.1 506.2L598.2 516.2L599.3 524.1L600.4 528.5L601.5 528.6L602.6 525.0L603.8 518.1L604.9 508.7L606.0 498.0L607.1 487.2L608.2 477.4L609.3 469.9L610.4 465.5L611.5 464.6L612.6 465.4L613.8 466.9L614.9 468.8L616.0 470.6L617.1 471.7L618.2 472.0L619.3 472.1L620.4 472.5L621.5 472.8L622.6 473.1L623.8 473.3L624.9 474.7L626.0 479.2L627.1 486.2L628.2 494.8L629.3 503.9L630.4 512.5L631.5 519.4L632.6 523.8L633.7 525.1L634.9 523.8L636.0 520.3L637.1 514.9L638.2 507.9L639.3 499.7L640.4 490.8L641.5 481.9L642.6 473.5L643.7 466.2L644.9 460.3L646.0 456.3L647.1 454.5L648.2 455.0L649.3 458.0L650.4 462.9L651.5 468.9L652.6 474.7L653.7 479.2L654.9 481.6L656.0 481.6L657.1 480.4L658.2 478.4L659.3 475.8L660.4 473.3L661.5 471.4L662.6 470.3L663.7 471.2L664.8 479.9L666.0 496.4L667.1 518.9L668.2 545.1L669.3 572.0L670.4 596.9L671.5 617.1L672.6 630.4L673.7 635.4L674.8 628.0L676.0 604.0L677.1 565.4L678.2 515.3L679.3 457.7L680.4 397.4L681.5 339.2L682.6 287.9L683.7 247.6L684.8 221.7L686.0 212.1L687.1 224.2L688.2 262.2L689.3 322.1L690.4 397.5L691.5 480.3L692.6 561.7L693.7 633.0L694.8 686.6L696.0 716.8L697.1 720.8L698.2 704.6L699.3 671.8L700.4 626.4L701.5 574.2L702.6 521.6L703.7 475.1L704.8 440.6L705.9 422.3L707.1 420.7L708.2 424.7L709.3 430.6L710.4 435.3L711.5 436.5L712.6 437.0L713.7 437.7L714.8 438.9L715.9 449.3L717.1 468.5L718.2 492.0L719.3 514.1L720.4 529.7L721.5 535.0L722.6 531.1L723.7 520.7L724.8 504.9L725.9 485.7L727.1 465.6L728.2 447.0L729.3 432.3L730.4 423.2L731.5 421.0L732.6 427.4L733.7 442.5L734.8 465.3L735.9 493.8L737.1 525.8L738.2 558.9L739.3 590.2L740.4 617.4L741.5 638.3L742.6 651.2L743.7 655.1L744.8 638.3L745.9 594.6L747.0 529.6L748.2 451.3L749.3 369.4L750.4 294.1L751.5 234.8L752.6 198.9L753.7 190.6L754.8 206.8L755.9 244.1L757.0 299.7L758.2 369.5L759.3 448.1L760.4 529.4L761.5 607.3L762.6 675.9L763.7 729.9L764.8 765.2L765.9 779.1L767.0 770.5L768.2 740.0L769.3 691.0L770.4 628.6L771.5 559.6L772.6 491.3L773.7 431.0L774.8 385.1L775.9 358.5L777.0 353.8L778.2 366.2L779.3 391.7L780.4 425.9L781.5 462.7L782.6 495.8L783.7 519.2L784.8 529.0L785.9 524.0L787.0 507.1L788.1 484.0L789.3 462.7L790.4 450.2L791.5 449.9L792.6 457.3L793.7 470.6L794.8 487.6L795.9 505.6L797.0 521.7L798.1 533.4L799.3 538.7L800.4 538.5L801.5 536.3L802.6 532.5L803.7 527.2L804.8 520.6L805.9 512.8L807.0 504.1L808.1 494.8L809.3 485.1L810.4 475.4L811.5 466.0L812.6 457.1L813.7 449.1L814.8 442.2L815.9 436.6L817.0 432.4L818.1 429.9L819.3 429.1L820.4 434.8L821.5 450.5L822.6 474.6L823.7 504.5L824.8 537.0L825.9 568.6L827.0 596.1L828.1 616.3L829.2 627.2L830.4 627.8L831.5 619.3L832.6 602.6L833.7 579.1L834.8 551.0L835.9 520.7L837.0 490.7L838.1 463.7L839.2 442.0L840.4 427.6L841.5 421.5L842.6 421.0L843.7 420.0L844.8 419.4L845.9 416.8L847.0 409.5L848.1 400.3L849.2 392.0L850.4 387.7L851.5 393.0L852.6 420.8L853.7 466.7L854.8 521.8L855.9 575.4L857.0 617.3L858.1 639.3L859.2 638.7L860.4 622.4L861.5 593.1L862.6 554.6L863.7 511.5L864.8 469.3L865.9 433.1L867.0 407.6L868.1 395.8L869.2 403.6L870.3 438.9L871.5 490.5L872.6 540.8L873.7 572.8L874.8 577.0L875.9 563.0L877.0 536.3L878.1 502.1L879.2 466.9L880.3 437.6L881.5 419.8L882.6 416.7L883.7 425.9L884.8 444.7L885.9 470.2L887.0 498.3L888.1 524.5L889.2 544.6L890.3 555.4L891.5 555.4L892.6 546.2L893.7 529.4L894.8 507.5L895.9 483.6L897.0 461.3L898.1 443.8L899.2 433.7L900.3 432.4L901.5 439.2L902.6 452.4L903.7 469.5L904.8 487.2L905.9 502.1L907.0 511.3L908.1 513.2L909.2 510.9L910.3 505.9L911.4 498.8L912.6 490.6L913.7 482.2L914.8 474.7L915.9 469.0L917.0 465.9L918.1 465.9L919.2 471.1L920.3 481.1L921.4 494.3L922.6 508.7L923.7 521.8L924.8 531.6L925.9 536.6L927.0 535.5L928.1 527.5L929.2 513.5L930.3 495.6L931.4 476.5L932.6 458.9L933.7 445.4L934.8 438.0L935.9 437.5L937.0 441.7L938.1 449.7L939.2 460.5L940.3 472.7L941.4 484.9L942.5 495.5L943.7 503.2L944.8 507.1L945.9 506.8L947.0 503.1L948.1 497.5L949.2 491.8L950.3 487.9L951.4 487.1L952.5 488.7L953.7 491.9L954.8 496.3L955.9 501.1L957.0 505.7L958.1 509.2L959.2 511.1L960.3 511.0L961.4 508.4L962.5 503.5L963.7 496.9L964.8 489.2L965.9 481.5L967.0 474.6L968.1 469.2L969.2 466.1L970.3 465.5L971.4 467.6L972.5 472.1L973.7 478.4L974.8 485.6L975.9 492.9L977.0 499.1L978.1 503.4L979.2 505.4L980.3 505.1L981.4 503.5L982.5 500.8L983.6 497.3L984.8 493.2L985.9 489.0L987.0 484.9L988.1 481.3L989.2 478.5L990.3 476.9L991.4 476.4L992.5 476.8L993.6 477.6L994.8 479.0L995.9 480.7L997.0 482.8L998.1 485.2L999.2 487.7L1000.3 490.3L1001.4 492.8L1002.5 495.2L1003.6 497.3L1004.8 499.0L1005.9 500.4L1007.0 501.2L1008.1 501.5L1009.2 501.0L1010.3 499.3L1011.4 496.6L1012.5 493.0L1013.6 488.8L1014.8 484.4L1015.9 480.0L1017.0 476.1L1018.1 472.9L1019.2 470.6L1020.3 469.4L1021.4 469.6L1022.5 471.8L1023.6 475.7L1024.7 480.9L1025.9 486.8L1027.0 492.5L1028.1 497.4L1029.2 501.0L1030.3 502.6L1031.4 502.6L1032.5 501.9L1033.6 500.8L1034.7 499.3L1035.9 497.4L1037.0 495.2L1038.1 493.0L1039.2 490.7L1040.3 488.6L1041.4 486.7L1042.5 485.1L1043.6 483.9L1044.7 483.3L1045.9 483.1L1047.0 482.8L1048.1 482.3L1049.2 481.7L1050.3 481.2L1051.4 481.0L1052.5 481.3L1053.6 482.0L1054.7 482.9L1055.9 483.8L1057.0 484.2L1058.1 484.4L1059.2 485.0L1060.3 486.2L1061.4 487.9L1062.5 489.9L1063.6 492.1L1064.7 494.4L1065.8 496.7L1067.0 498.7L1068.1 500.5L1069.2 501.8L1070.3 502.5L1071.4 502.7L1072.5 501.7L1073.6 499.4L1074.7 496.0L1075.8 491.8L1077.0 487.3L1078.1 482.9L1079.2 479.1L1080.3 476.1L1081.4 474.4L1082.5 474.1L1083.6 474.8L1084.7 476.5L1085.8 478.9L1087.0 481.8L1088.1 484.9L1089.2 487.9L1090.3 490.4L1091.4 492.4L1092.5 493.4L1093.6 493.6L1094.7 493.4L1095.8 493.0L1097.0 492.5L1098.1 491.9L1099.2 491.3L1100.3 490.8L1101.4 490.5L1102.5 490.4L1103.6 490.4L1104.7 490.3L1105.8 490.2L1106.9 490.0L1108.1 489.9L1109.2 489.8L1110.3 489.8L1111.4 489.8L1112.5 489.8L1113.6 489.8L1114.7 489.7L1115.8 489.7L1116.9 489.7L1118.1 489.7L1119.2 489.7L1120.3 489.7L1121.4 489.7L1122.5 489.5L1123.6 489.4L1124.7 489.1L1125.8 488.9L1126.9 488.6L1128.1 488.4L1129.2 488.3L1130.3 488.3L1131.4 488.1L1132.5 487.7L1133.6 487.1L1134.7 486.6L1135.8 486.1L1136.9 485.9L1138.1 485.9L1139.2 486.1L1140.3 486.6L1141.4 487.2L1142.5 488.0L1143.6 488.9L1144.7 489.8L1145.8 490.6L1146.9 491.3L1148.0 491.8L1149.2 492.1L1150.3 492.1L1151.4 491.6L1152.5 490.6L1153.6 489.3L1154.7 487.8L1155.8 486.4L1156.9 485.2L1158.0 484.5L1159.2 484.3L1160.3 484.6L1161.4 485.2L1162.5 486.2L1163.6 487.3L1164.7 488.6L1165.8 489.8L1166.9 490.9L1168.0 491.6L1169.2 492.0L1170.3 492.1L1171.4 491.7L1172.5 491.0L1173.6 490.1L1174.7 489.0L1175.8 487.8L1176.9 486.8L1178.0 485.9L1179.1 485.3L1180.3 485.1L1181.4 485.2L1182.5 485.6L1183.6 486.2L1184.7 487.0L1185.8 487.8L1186.9 488.7L1188.0 489.5L1189.1 490.1L1190.3 490.5L1191.4 490.6L1192.5 490.5L1193.6 490.3L1194.7 490.0L1195.8 489.6L1196.9 489.1L1198.0 488.6L1199.1 488.1L1200.3 487.6L1201.4 487.2L1202.5 486.9L1203.6 486.7L1204.7 486.6L1205.8 486.6L1206.9 486.8L1208.0 487.0L1209.1 487.3L1210.3 487.7L1211.4 488.1L1212.5 488.5L1213.6 489.0L1214.7 489.4L1215.8 489.8L1216.9 490.1L1218.0 490.4L1219.1 490.5L1220.2 490.6L1221.4 490.5L1222.5 490.4L1223.6 490.2L1224.7 489.9L1225.8 489.6L1226.9 489.2L1228.0 488.7L1229.1 488.3L1230.2 487.8L1231.4 487.3L1232.5 486.7L1233.6 486.3L1234.7 485.8L1235.8 485.4L1236.9 485.0L1238.0 484.7L1239.1 484.5L1240.2 484.4L1241.4 484.3L1242.5 484.4L1243.6 484.7L1244.7 485.3L1245.8 486.1L1246.9 487.0L1248.0 488.0L1249.1 488.9L1250.2 489.6L1251.4 490.2L1252.5 490.5L1253.6 490.6L1254.7 490.4L1255.8 490.0L1256.9 489.6L1258.0 489.0L1259.1 488.5L1260.2 488.0L1261.3 487.6L1262.5 487.4L1263.6 487.4L1264.7 487.5L1265.8 487.7L1266.9 487.9L1268.0 488.3L1269.1 488.7L1270.2 489.1L1271.3 489.5L1272.5 489.8L1273.6 490.1L1274.7 490.4L1275.8 490.5L1276.9 490.6L1278.0 490.5L1279.1 490.2L1280.2 489.9L1281.3 489.4L1282.5 488.9L1283.6 488.4L1284.7 487.9L1285.8 487.6L1286.9 487.4L1288.0 487.4L1289.1 487.6L1290.2 488.0L1291.3 488.5L1292.5 489.1L1293.6 489.7L1294.7 490.2L1295.8 490.5L1296.9 490.6L1298.0 490.4L1299.1 490.1L1300.2 489.6L1301.3 489.0L1302.4 488.4L1303.6 487.9L1304.7 487.5L1305.8 487.4L1306.9 487.4L1308.0 487.5L1309.1 487.6L1310.2 487.8L1311.3 487.9L1312.4 488.1L1313.6 488.2L1314.7 488.3L1315.8 488.3L1316.9 488.3L1318.0 488.2" fill="none" stroke="#0000ff" stroke-width="4.7" stroke-linejoin="round"/>
<rect x="151.5" y="29.0" width="1222.0" height="913.5" fill="none" stroke="#0a0a0a" stroke-width="5.6"/>
<path d="M207.2 942.5v-27.8M207.2 29.0v27.8M429.4 942.5v-27.8M429.4 29.0v27.8M651.5 942.5v-27.8M651.5 29.0v27.8M873.7 942.5v-27.8M873.7 29.0v27.8M1095.8 942.5v-27.8M1095.8 29.0v27.8M1318.0 942.5v-27.8M1318.0 29.0v27.8M151.5 790.5h27.8M1373.5 790.5h-27.8M151.5 638.2h27.8M1373.5 638.2h-27.8M151.5 486.0h27.8M1373.5 486.0h-27.8M151.5 333.8h27.8M1373.5 333.8h-27.8M151.5 181.5h27.8M1373.5 181.5h-27.8" stroke="#0a0a0a" stroke-width="4.6" fill="none"/>

<rect x="1085.5" y="76.3" width="235.4" height="123.6" rx="6" ry="6" fill="#fff" stroke="#dedede" stroke-width="5.0"/>
<path d="M1107.0 101.8H1161.3" stroke="#0000ff" stroke-width="6.5"/>
<path d="M1108.5 139.5H1161.3" stroke="#ff0000" stroke-width="6.5" stroke-dasharray="23 7"/>
<path d="M1108.5 177.2H1161.3" stroke="#000000" stroke-width="7.0" stroke-dasharray="35 10 7.5 10"/>
</g>
<g id="panel-b" filter="url(#soft)">
<path d="M1580.0 491.9L1581.1 491.9L1582.2 491.9L1583.3 491.9L1584.4 491.9L1585.5 491.9L1586.6 491.9L1587.8 491.9L1588.9 491.9L1590.0 491.9L1591.1 491.9L1592.2 491.9L1593.3 491.9L1594.4 491.9L1595.5 491.9L1596.6 491.9L1597.7 491.9L1598.8 491.9L1599.9 491.9L1601.1 491.9L1602.2 491.9L1603.3 491.9L1604.4 491.9L1605.5 491.9L1606.6 491.9L1607.7 491.9L1608.8 491.9L1609.9 491.9L1611.0 491.9L1612.1 491.9L1613.2 491.9L1614.3 491.9L1615.5 491.9L1616.6 491.9L1617.7 491.9L1618.8 491.9L1619.9 491.9L1621.0 491.9L1622.1 491.9L1623.2 491.9L1624.3 491.9L1625.4 491.9L1626.5 491.9L1627.6 491.9L1628.8 491.9L1629.9 491.9L1631.0 491.9L1632.1 491.9L1633.2 491.9L1634.3 491.9L1635.4 491.9L1636.5 491.9L1637.6 491.9L1638.7 491.9L1639.8 491.9L1640.9 491.9L1642.0 491.9L1643.2 491.9L1644.3 491.9L1645.4 491.9L1646.5 491.9L1647.6 491.9L1648.7 491.9L1649.8 491.9L1650.9 491.9L1652.0 491.9L1653.1 491.9L1654.2 491.9L1655.3 491.9L1656.5 491.9L1657.6 491.9L1658.7 491.9L1659.8 491.9L1660.9 491.9L1662.0 491.9L1663.1 491.9L1664.2 491.9L1665.3 491.9L1666.4 491.9L1667.5 491.9L1668.6 491.9L1669.7 491.9L1670.9 491.9L1672.0 491.9L1673.1 491.9L1674.2 491.9L1675.3 491.9L1676.4 491.9L1677.5 491.9L1678.6 491.9L1679.7 491.9L1680.8 491.9L1681.9 491.9L1683.0 491.9L1684.2 491.9L1685.3 491.9L1686.4 491.9L1687.5 491.9L1688.6 491.9L1689.7 491.9L1690.8 491.9L1691.9 491.9L1693.0 491.9L1694.1 491.9L1695.2 491.9L1696.3 491.9L1697.4 491.9L1698.6 491.9L1699.7 491.9L1700.8 491.9L1701.9 491.9L1703.0 491.9L1704.1 491.9L1705.2 491.9L1706.3 491.9L1707.4 491.9L1708.5 491.9L1709.6 491.9L1710.7 491.9L1711.9 491.9L1713.0 491.9L1714.1 491.9L1715.2 491.9L1716.3 491.9L1717.4 491.9L1718.5 491.9L1719.6 491.9L1720.7 491.9L1721.8 491.9L1722.9 491.9L1724.0 491.9L1725.1 491.9L1726.3 491.9L1727.4 491.9L1728.5 491.9L1729.6 491.9L1730.7 491.9L1731.8 491.9L1732.9 491.9L1734.0 491.9L1735.1 491.9L1736.2 491.9L1737.3 491.9L1738.4 491.9L1739.6 491.9L1740.7 491.9L1741.8 491.9L1742.9 491.9L1744.0 491.9L1745.1 491.9L1746.2 491.9L1747.3 491.9L1748.4 491.9L1749.5 491.8L1750.6 491.7L1751.7 491.5L1752.8 491.3L1754.0 491.1L1755.1 490.9L1756.2 490.7L1757.3 490.5L1758.4 490.4L1759.5 490.3L1760.6 490.2L1761.7 489.6L1762.8 488.5L1763.9 487.2L1765.0 485.9L1766.1 484.9L1767.3 484.3L1768.4 484.5L1769.5 486.5L1770.6 490.3L1771.7 495.7L1772.8 502.5L1773.9 510.4L1775.0 518.9L1776.1 527.7L1777.2 536.3L1778.3 544.2L1779.4 551.2L1780.5 556.9L1781.7 560.9L1782.8 563.2L1783.9 563.0L1785.0 554.8L1786.1 537.5L1787.2 512.6L1788.3 482.2L1789.4 449.0L1790.5 415.9L1791.6 385.7L1792.7 361.1L1793.8 344.1L1795.0 336.3L1796.1 338.4L1797.2 350.2L1798.3 371.1L1799.4 399.7L1800.5 434.2L1801.6 472.4L1802.7 511.8L1803.8 550.0L1804.9 584.5L1806.0 613.1L1807.1 633.9L1808.2 645.7L1809.4 647.6L1810.5 638.2L1811.6 618.3L1812.7 590.2L1813.8 557.5L1814.9 524.3L1816.0 494.6L1817.1 472.2L1818.2 459.9L1819.3 458.0L1820.4 457.2L1821.5 456.1L1822.7 455.2L1823.8 454.8L1824.9 450.7L1826.0 441.4L1827.1 428.7L1828.2 415.0L1829.3 403.0L1830.4 395.1L1831.5 392.7L1832.6 401.8L1833.7 425.0L1834.8 459.5L1835.9 501.0L1837.1 544.2L1838.2 583.9L1839.3 615.1L1840.4 633.8L1841.5 637.8L1842.6 623.6L1843.7 592.7L1844.8 550.3L1845.9 504.0L1847.0 461.9L1848.1 431.4L1849.2 417.8L1850.4 419.1L1851.5 426.1L1852.6 437.5L1853.7 452.0L1854.8 467.7L1855.9 482.7L1857.0 495.1L1858.1 503.4L1859.2 506.5L1860.3 503.2L1861.4 493.1L1862.5 478.9L1863.6 464.4L1864.8 453.4L1865.9 448.9L1867.0 451.6L1868.1 460.7L1869.2 475.1L1870.3 493.4L1871.4 513.6L1872.5 533.6L1873.6 551.1L1874.7 564.4L1875.8 572.0L1876.9 573.1L1878.1 567.7L1879.2 556.5L1880.3 540.4L1881.4 520.8L1882.5 499.3L1883.6 477.8L1884.7 458.3L1885.8 442.4L1886.9 431.4L1888.0 426.3L1889.1 427.9L1890.2 436.7L1891.3 451.0L1892.5 468.1L1893.6 484.6L1894.7 497.4L1895.8 504.0L1896.9 504.1L1898.0 501.5L1899.1 497.4L1900.2 493.0L1901.3 489.5L1902.4 488.2L1903.5 489.3L1904.6 492.9L1905.8 498.4L1906.9 505.0L1908.0 512.0L1909.1 518.3L1910.2 523.1L1911.3 525.8L1912.4 525.6L1913.5 519.6L1914.6 508.0L1915.7 492.5L1916.8 475.4L1917.9 459.3L1919.0 446.4L1920.2 438.7L1921.3 437.4L1922.4 444.0L1923.5 457.9L1924.6 477.2L1925.7 499.1L1926.8 520.2L1927.9 537.6L1929.0 548.6L1930.1 551.7L1931.2 548.6L1932.3 540.9L1933.5 529.5L1934.6 515.9L1935.7 501.8L1936.8 489.0L1937.9 478.9L1939.0 473.0L1940.1 471.7L1941.2 472.2L1942.3 473.3L1943.4 474.7L1944.5 476.3L1945.6 477.9L1946.7 479.1L1947.9 479.7L1949.0 479.8L1950.1 479.9L1951.2 480.0L1952.3 480.2L1953.4 480.3L1954.5 480.3L1955.6 481.1L1956.7 482.9L1957.8 485.1L1958.9 486.9L1960.0 487.7L1961.2 487.5L1962.3 486.8L1963.4 486.0L1964.5 485.5L1965.6 486.2L1966.7 491.0L1967.8 499.2L1968.9 509.2L1970.0 519.2L1971.1 527.2L1972.2 531.6L1973.3 531.7L1974.4 528.0L1975.6 521.1L1976.7 511.8L1977.8 501.1L1978.9 490.3L1980.0 480.6L1981.1 473.1L1982.2 468.7L1983.3 467.8L1984.4 468.5L1985.5 470.0L1986.6 471.9L1987.7 473.7L1988.9 474.8L1990.0 475.1L1991.1 475.3L1992.2 475.6L1993.3 476.0L1994.4 476.3L1995.5 476.4L1996.6 477.8L1997.7 482.3L1998.8 489.3L1999.9 497.8L2001.0 507.0L2002.1 515.5L2003.3 522.4L2004.4 526.8L2005.5 528.2L2006.6 526.9L2007.7 523.4L2008.8 518.0L2009.9 510.9L2011.0 502.7L2012.1 493.9L2013.2 485.0L2014.3 476.6L2015.4 469.3L2016.6 463.4L2017.7 459.5L2018.8 457.6L2019.9 458.1L2021.0 461.1L2022.1 466.1L2023.2 472.0L2024.3 477.8L2025.4 482.3L2026.5 484.7L2027.6 484.7L2028.7 483.5L2029.8 481.5L2031.0 479.0L2032.1 476.5L2033.2 474.5L2034.3 473.4L2035.4 474.3L2036.5 483.0L2037.6 499.5L2038.7 522.0L2039.8 548.1L2040.9 575.0L2042.0 599.8L2043.1 620.0L2044.3 633.3L2045.4 638.3L2046.5 630.9L2047.6 606.9L2048.7 568.4L2049.8 518.3L2050.9 460.9L2052.0 400.7L2053.1 342.6L2054.2 291.3L2055.3 251.1L2056.4 225.2L2057.5 215.6L2058.7 227.7L2059.8 265.7L2060.9 325.5L2062.0 400.7L2063.1 483.4L2064.2 564.7L2065.3 635.9L2066.4 689.4L2067.5 719.5L2068.6 723.5L2069.7 707.3L2070.8 674.6L2072.0 629.3L2073.1 577.1L2074.2 524.6L2075.3 478.2L2076.4 443.8L2077.5 425.5L2078.6 423.9L2079.7 427.9L2080.8 433.8L2081.9 438.5L2083.0 439.7L2084.1 440.2L2085.2 440.9L2086.4 442.0L2087.5 452.4L2088.6 471.6L2089.7 495.1L2090.8 517.2L2091.9 532.7L2093.0 538.0L2094.1 534.2L2095.2 523.7L2096.3 507.9L2097.4 488.8L2098.5 468.8L2099.7 450.2L2100.8 435.5L2101.9 426.4L2103.0 424.2L2104.1 430.6L2105.2 445.7L2106.3 468.4L2107.4 496.9L2108.5 528.9L2109.6 561.9L2110.7 593.2L2111.8 620.3L2112.9 641.2L2114.1 654.1L2115.2 657.9L2116.3 641.1L2117.4 597.6L2118.5 532.6L2119.6 454.4L2120.7 372.7L2121.8 297.5L2122.9 238.3L2124.0 202.4L2125.1 194.2L2126.2 210.3L2127.4 247.6L2128.5 303.2L2129.6 372.8L2130.7 451.2L2131.8 532.4L2132.9 610.2L2134.0 678.7L2135.1 732.6L2136.2 767.8L2137.3 781.7L2138.4 773.1L2139.5 742.7L2140.6 693.7L2141.8 631.5L2142.9 562.6L2144.0 494.4L2145.1 434.1L2146.2 388.3L2147.3 361.9L2148.4 357.2L2149.5 369.5L2150.6 395.0L2151.7 429.1L2152.8 465.8L2153.9 498.8L2155.1 522.3L2156.2 532.0L2157.3 527.0L2158.4 510.1L2159.5 487.1L2160.6 465.8L2161.7 453.4L2162.8 453.1L2163.9 460.5L2165.0 473.7L2166.1 490.7L2167.2 508.6L2168.3 524.7L2169.5 536.4L2170.6 541.7L2171.7 541.5L2172.8 539.3L2173.9 535.6L2175.0 530.3L2176.1 523.6L2177.2 515.8L2178.3 507.2L2179.4 497.8L2180.5 488.2L2181.6 478.5L2182.8 469.1L2183.9 460.3L2185.0 452.3L2186.1 445.3L2187.2 439.7L2188.3 435.6L2189.4 433.1L2190.5 432.3L2191.6 438.0L2192.7 453.7L2193.8 477.7L2194.9 507.6L2196.0 540.0L2197.2 571.6L2198.3 599.0L2199.4 619.2L2200.5 630.1L2201.6 630.7L2202.7 622.1L2203.8 605.5L2204.9 582.1L2206.0 554.0L2207.1 523.7L2208.2 493.8L2209.3 466.8L2210.5 445.2L2211.6 430.8L2212.7 424.7L2213.8 424.2L2214.9 423.2L2216.0 422.6L2217.1 420.0L2218.2 412.8L2219.3 403.5L2220.4 395.3L2221.5 390.9L2222.6 396.3L2223.7 424.0L2224.9 469.8L2226.0 524.8L2227.1 578.4L2228.2 620.2L2229.3 642.1L2230.4 641.6L2231.5 625.3L2232.6 596.1L2233.7 557.6L2234.8 514.5L2235.9 472.4L2237.0 436.3L2238.2 410.8L2239.3 399.1L2240.4 406.8L2241.5 442.1L2242.6 493.6L2243.7 543.8L2244.8 575.8L2245.9 580.0L2247.0 566.0L2248.1 539.3L2249.2 505.1L2250.3 470.0L2251.4 440.7L2252.6 423.0L2253.7 419.9L2254.8 429.1L2255.9 447.9L2257.0 473.3L2258.1 501.4L2259.2 527.5L2260.3 547.6L2261.4 558.4L2262.5 558.4L2263.6 549.2L2264.7 532.5L2265.9 510.5L2267.0 486.7L2268.1 464.4L2269.2 447.0L2270.3 436.9L2271.4 435.6L2272.5 442.4L2273.6 455.5L2274.7 472.6L2275.8 490.3L2276.9 505.2L2278.0 514.4L2279.1 516.3L2280.3 514.0L2281.4 509.0L2282.5 501.9L2283.6 493.7L2284.7 485.3L2285.8 477.8L2286.9 472.2L2288.0 469.0L2289.1 469.0L2290.2 474.2L2291.3 484.2L2292.4 497.4L2293.6 511.7L2294.7 524.8L2295.8 534.6L2296.9 539.6L2298.0 538.6L2299.1 530.5L2300.2 516.6L2301.3 498.7L2302.4 479.6L2303.5 462.1L2304.6 448.6L2305.7 441.2L2306.8 440.7L2308.0 444.9L2309.1 452.9L2310.2 463.6L2311.3 475.9L2312.4 488.0L2313.5 498.6L2314.6 506.3L2315.7 510.2L2316.8 509.8L2317.9 506.2L2319.0 500.6L2320.1 494.9L2321.3 491.0L2322.4 490.2L2323.5 491.8L2324.6 495.0L2325.7 499.4L2326.8 504.2L2327.9 508.8L2329.0 512.3L2330.1 514.2L2331.2 514.1L2332.3 511.5L2333.4 506.6L2334.5 500.0L2335.7 492.3L2336.8 484.6L2337.9 477.7L2339.0 472.3L2340.1 469.2L2341.2 468.6L2342.3 470.7L2343.4 475.2L2344.5 481.5L2345.6 488.7L2346.7 495.9L2347.8 502.1L2349.0 506.5L2350.1 508.5L2351.2 508.1L2352.3 506.6L2353.4 503.9L2354.5 500.4L2355.6 496.3L2356.7 492.1L2357.8 488.0L2358.9 484.4L2360.0 481.7L2361.1 480.0L2362.2 479.5L2363.4 479.9L2364.5 480.7L2365.6 482.1L2366.7 483.8L2367.8 485.9L2368.9 488.3L2370.0 490.8L2371.1 493.4L2372.2 495.9L2373.3 498.3L2374.4 500.4L2375.5 502.1L2376.7 503.4L2377.8 504.3L2378.9 504.6L2380.0 504.1L2381.1 502.4L2382.2 499.7L2383.3 496.1L2384.4 491.9L2385.5 487.5L2386.6 483.1L2387.7 479.2L2388.8 476.0L2389.9 473.7L2391.1 472.6L2392.2 472.8L2393.3 474.9L2394.4 478.9L2395.5 484.0L2396.6 489.9L2397.7 495.6L2398.8 500.5L2399.9 504.0L2401.0 505.7L2402.1 505.6L2403.2 505.0L2404.4 503.9L2405.5 502.4L2406.6 500.5L2407.7 498.3L2408.8 496.1L2409.9 493.8L2411.0 491.7L2412.1 489.8L2413.2 488.2L2414.3 487.0L2415.4 486.4L2416.5 486.2L2417.6 486.0L2418.8 485.4L2419.9 484.8L2421.0 484.3L2422.1 484.1L2423.2 484.4L2424.3 485.1L2425.4 486.0L2426.5 486.9L2427.6 487.3L2428.7 487.5L2429.8 488.1L2430.9 489.3L2432.1 491.0L2433.2 493.0L2434.3 495.2L2435.4 497.5L2436.5 499.8L2437.6 501.8L2438.7 503.5L2439.8 504.8L2440.9 505.6L2442.0 505.7L2443.1 504.8L2444.2 502.5L2445.3 499.1L2446.5 494.9L2447.6 490.4L2448.7 486.0L2449.8 482.2L2450.9 479.3L2452.0 477.5L2453.1 477.2L2454.2 478.0L2455.3 479.6L2456.4 482.0L2457.5 484.9L2458.6 488.0L2459.8 491.0L2460.9 493.5L2462.0 495.5L2463.1 496.5L2464.2 496.7L2465.3 496.5L2466.4 496.1L2467.5 495.6L2468.6 495.0L2469.7 494.4L2470.8 493.9L2471.9 493.6L2473.0 493.5L2474.2 493.5L2475.3 493.4L2476.4 493.3L2477.5 493.1L2478.6 493.0L2479.7 492.9L2480.8 492.9L2481.9 492.9L2483.0 492.9L2484.1 492.9L2485.2 492.8L2486.3 492.8L2487.5 492.8L2488.6 492.8L2489.7 492.8L2490.8 492.8L2491.9 492.7L2493.0 492.6L2494.1 492.5L2495.2 492.2L2496.3 491.9L2497.4 491.7L2498.5 491.5L2499.6 491.4L2500.7 491.4L2501.9 491.2L2503.0 490.8L2504.1 490.2L2505.2 489.7L2506.3 489.2L2507.4 489.0L2508.5 489.0L2509.6 489.2L2510.7 489.7L2511.8 490.3L2512.9 491.1L2514.0 492.0L2515.2 492.9L2516.3 493.7L2517.4 494.4L2518.5 494.9L2519.6 495.1L2520.7 495.1L2521.8 494.7L2522.9 493.7L2524.0 492.4L2525.1 490.9L2526.2 489.5L2527.3 488.4L2528.4 487.6L2529.6 487.4L2530.7 487.7L2531.8 488.3L2532.9 489.3L2534.0 490.4L2535.1 491.7L2536.2 492.9L2537.3 494.0L2538.4 494.7L2539.5 495.1L2540.6 495.1L2541.7 494.8L2542.9 494.1L2544.0 493.2L2545.1 492.1L2546.2 490.9L2547.3 489.9L2548.4 489.0L2549.5 488.4L2550.6 488.2L2551.7 488.3L2552.8 488.7L2553.9 489.3L2555.0 490.1L2556.1 490.9L2557.3 491.8L2558.4 492.6L2559.5 493.2L2560.6 493.6L2561.7 493.7L2562.8 493.6L2563.9 493.4L2565.0 493.0L2566.1 492.6L2567.2 492.2L2568.3 491.7L2569.4 491.2L2570.6 490.7L2571.7 490.3L2572.8 490.0L2573.9 489.8L2575.0 489.7L2576.1 489.7L2577.2 489.9L2578.3 490.1L2579.4 490.4L2580.5 490.8L2581.6 491.2L2582.7 491.6L2583.8 492.1L2585.0 492.5L2586.1 492.9L2587.2 493.2L2588.3 493.5L2589.4 493.6L2590.5 493.7L2591.6 493.6L2592.7 493.5L2593.8 493.3L2594.9 493.0L2596.0 492.7L2597.1 492.3L2598.3 491.8L2599.4 491.4L2600.5 490.9L2601.6 490.4L2602.7 489.8L2603.8 489.4L2604.9 488.9L2606.0 488.5L2607.1 488.1L2608.2 487.8L2609.3 487.6L2610.4 487.5L2611.5 487.4L2612.7 487.5L2613.8 487.8L2614.9 488.4L2616.0 489.2L2617.1 490.1L2618.2 491.1L2619.3 492.0L2620.4 492.7L2621.5 493.3L2622.6 493.6L2623.7 493.6L2624.8 493.5L2626.0 493.1L2627.1 492.7L2628.2 492.1L2629.3 491.6L2630.4 491.1L2631.5 490.7L2632.6 490.5L2633.7 490.5L2634.8 490.6L2635.9 490.8L2637.0 491.0L2638.1 491.4L2639.2 491.8L2640.4 492.2L2641.5 492.6L2642.6 492.9L2643.7 493.2L2644.8 493.5L2645.9 493.6L2647.0 493.7L2648.1 493.6L2649.2 493.3L2650.3 492.9L2651.4 492.5L2652.5 492.0L2653.7 491.5L2654.8 491.0L2655.9 490.7L2657.0 490.5L2658.1 490.5L2659.2 490.7L2660.3 491.1L2661.4 491.6L2662.5 492.2L2663.6 492.8L2664.7 493.3L2665.8 493.6L2666.9 493.7L2668.1 493.5L2669.2 493.2L2670.3 492.7L2671.4 492.1L2672.5 491.5L2673.6 491.0L2674.7 490.6L2675.8 490.5L2676.9 490.5L2678.0 490.6L2679.1 490.7L2680.2 490.9L2681.4 491.0L2682.5 491.2L2683.6 491.3L2684.7 491.4L2685.8 491.4L2686.9 491.3L2688.0 491.3L2689.1 491.3L2690.2 491.3L2691.3 491.2L2692.4 491.2L2693.5 491.0L2694.6 490.2L2695.8 489.1L2696.9 488.4L2698.0 488.3L2699.1 488.3" fill="none" stroke="#0000ff" stroke-width="5.4" stroke-linejoin="round"/>
<path d="M1580.0 495.7L1581.1 495.7L1582.2 495.7L1583.3 495.7L1584.4 495.7L1585.5 495.7L1586.6 495.7L1587.8 495.7L1588.9 495.7L1590.0 495.7L1591.1 495.7L1592.2 495.7L1593.3 495.7L1594.4 495.7L1595.5 495.7L1596.6 495.7L1597.7 495.7L1598.8 495.7L1599.9 495.7L1601.1 495.7L1602.2 495.7L1603.3 495.7L1604.4 495.7L1605.5 495.7L1606.6 495.7L1607.7 495.7L1608.8 495.7L1609.9 495.7L1611.0 495.7L1612.1 495.7L1613.2 495.7L1614.3 495.7L1615.5 495.7L1616.6 495.7L1617.7 495.7L1618.8 495.7L1619.9 495.7L1621.0 495.7L1622.1 495.7L1623.2 495.7L1624.3 495.7L1625.4 495.7L1626.5 495.7L1627.6 495.7L1628.8 495.7L1629.9 495.7L1631.0 495.7L1632.1 495.7L1633.2 495.7L1634.3 495.7L1635.4 495.7L1636.5 495.7L1637.6 495.7L1638.7 495.7L1639.8 495.7L1640.9 495.7L1642.0 495.7L1643.2 495.7L1644.3 495.7L1645.4 495.7L1646.5 495.7L1647.6 495.7L1648.7 495.7L1649.8 495.7L1650.9 495.7L1652.0 495.7L1653.1 495.7L1654.2 495.7L1655.3 495.7L1656.5 495.7L1657.6 495.7L1658.7 495.7L1659.8 495.7L1660.9 495.7L1662.0 495.7L1663.1 495.7L1664.2 495.7L1665.3 495.7L1666.4 495.7L1667.5 495.7L1668.6 495.7L1669.7 495.7L1670.9 495.7L1672.0 495.7L1673.1 495.7L1674.2 495.7L1675.3 495.7L1676.4 495.7L1677.5 495.7L1678.6 495.7L1679.7 495.7L1680.8 495.7L1681.9 495.7L1683.0 495.7L1684.2 495.7L1685.3 495.7L1686.4 495.7L1687.5 495.7L1688.6 495.7L1689.7 495.7L1690.8 495.7L1691.9 495.7L1693.0 495.7L1694.1 495.7L1695.2 495.7L1696.3 495.7L1697.4 495.7L1698.6 495.7L1699.7 495.7L1700.8 495.7L1701.9 495.7L1703.0 495.7L1704.1 495.7L1705.2 495.7L1706.3 495.7L1707.4 495.7L1708.5 495.7L1709.6 495.7L1710.7 495.7L1711.9 495.7L1713.0 495.7L1714.1 495.7L1715.2 495.7L1716.3 495.7L1717.4 495.7L1718.5 495.7L1719.6 495.7L1720.7 495.7L1721.8 495.7L1722.9 495.7L1724.0 495.7L1725.1 495.7L1726.3 495.7L1727.4 495.7L1728.5 495.7L1729.6 495.7L1730.7 495.7L1731.8 495.7L1732.9 495.7L1734.0 495.7L1735.1 495.7L1736.2 495.7L1737.3 495.7L1738.4 495.7L1739.6 495.7L1740.7 495.7L1741.8 495.7L1742.9 495.7L1744.0 495.7L1745.1 495.7L1746.2 495.7L1747.3 495.7L1748.4 495.7L1749.5 495.7L1750.6 495.6L1751.7 495.4L1752.8 495.2L1754.0 495.0L1755.1 494.7L1756.2 494.5L1757.3 494.0L1758.4 493.3L1759.5 492.5L1760.6 491.5L1761.7 490.1L1762.8 488.4L1763.9 486.7L1765.0 485.4L1766.1 485.4L1767.3 487.0L1768.4 490.0L1769.5 494.9L1770.6 501.2L1771.7 508.1L1772.8 515.2L1773.9 522.0L1775.0 528.1L1776.1 533.3L1777.2 537.4L1778.3 540.5L1779.4 542.4L1780.5 543.4L1781.7 543.4L1782.8 542.5L1783.9 540.6L1785.0 532.0L1786.1 516.7L1787.2 496.4L1788.3 472.9L1789.4 448.4L1790.5 424.9L1791.6 404.7L1792.7 389.4L1793.8 380.6L1795.0 378.9L1796.1 384.7L1797.2 397.5L1798.3 414.6L1799.4 433.9L1800.5 454.6L1801.6 476.3L1802.7 498.5L1803.8 520.6L1804.9 542.2L1806.0 562.6L1807.1 580.9L1808.2 593.8L1809.4 598.2L1810.5 591.1L1811.6 572.0L1812.7 538.9L1813.8 495.0L1814.9 451.0L1816.0 417.1L1817.1 402.0L1818.2 409.5L1819.3 436.6L1820.4 469.3L1821.5 500.4L1822.7 525.2L1823.8 539.7L1824.9 537.7L1826.0 522.4L1827.1 497.7L1828.2 467.8L1829.3 437.4L1830.4 411.5L1831.5 394.0L1832.6 392.8L1833.7 412.2L1834.8 447.2L1835.9 490.5L1837.1 536.6L1838.2 580.1L1839.3 615.8L1840.4 639.4L1841.5 648.2L1842.6 638.7L1843.7 611.7L1844.8 572.5L1845.9 528.3L1847.0 487.0L1848.1 455.1L1849.2 436.6L1850.4 430.2L1851.5 427.7L1852.6 429.5L1853.7 435.5L1854.8 445.3L1855.9 457.6L1857.0 471.3L1858.1 484.7L1859.2 496.3L1860.3 503.6L1861.4 505.2L1862.5 502.4L1863.6 497.4L1864.8 493.1L1865.9 491.7L1867.0 493.4L1868.1 497.7L1869.2 504.2L1870.3 512.3L1871.4 521.2L1872.5 530.1L1873.6 538.2L1874.7 544.8L1875.8 549.3L1876.9 550.9L1878.1 548.9L1879.2 543.4L1880.3 534.5L1881.4 522.4L1882.5 507.7L1883.6 491.3L1884.7 474.3L1885.8 458.2L1886.9 445.8L1888.0 438.1L1889.1 436.5L1890.2 441.8L1891.3 453.0L1892.5 467.7L1893.6 483.0L1894.7 495.8L1895.8 503.0L1896.9 504.2L1898.0 502.7L1899.1 499.5L1900.2 495.7L1901.3 492.3L1902.4 490.7L1903.5 491.5L1904.6 494.5L1905.8 499.4L1906.9 505.4L1908.0 511.6L1909.1 517.2L1910.2 521.4L1911.3 523.6L1912.4 523.0L1913.5 516.8L1914.6 505.2L1915.7 490.1L1916.8 473.9L1917.9 458.9L1919.0 447.3L1920.2 441.0L1921.3 441.0L1922.4 448.7L1923.5 463.5L1924.6 483.3L1925.7 505.1L1926.8 526.0L1927.9 542.8L1929.0 553.0L1930.1 555.2L1931.2 551.0L1932.3 542.2L1933.5 530.0L1934.6 515.8L1935.7 501.3L1936.8 488.4L1937.9 478.6L1939.0 473.1L1940.1 472.5L1941.2 473.8L1942.3 475.7L1943.4 478.0L1944.5 480.4L1945.6 482.5L1946.7 484.0L1947.9 484.7L1949.0 484.6L1950.1 484.1L1951.2 483.4L1952.3 482.6L1953.4 481.7L1954.5 480.7L1955.6 480.6L1956.7 481.7L1957.8 483.5L1958.9 485.2L1960.0 486.3L1961.2 486.9L1962.3 487.4L1963.4 488.0L1964.5 489.1L1965.6 491.4L1966.7 497.5L1967.8 506.7L1968.9 517.4L1970.0 527.5L1971.1 534.9L1972.2 538.0L1973.3 536.3L1974.4 530.5L1975.6 521.5L1976.7 510.4L1977.8 498.6L1978.9 487.5L1980.0 477.9L1981.1 471.0L1982.2 467.3L1983.3 467.3L1984.4 469.1L1985.5 471.7L1986.6 474.5L1987.7 476.9L1988.9 478.6L1990.0 479.0L1991.1 479.1L1992.2 479.1L1993.3 478.8L1994.4 478.4L1995.5 478.0L1996.6 479.0L1997.7 483.2L1998.8 490.2L1999.9 499.1L2001.0 508.7L2002.1 518.9L2003.3 526.9L2004.4 532.5L2005.5 534.9L2006.6 534.5L2007.7 531.8L2008.8 526.8L2009.9 519.9L2011.0 511.0L2012.1 501.2L2013.2 491.1L2014.3 481.3L2015.4 472.5L2016.6 465.2L2017.7 459.7L2018.8 456.5L2019.9 455.9L2021.0 457.9L2022.1 462.1L2023.2 467.6L2024.3 473.2L2025.4 477.9L2026.5 480.6L2027.6 481.3L2028.7 480.9L2029.8 479.8L2031.0 478.4L2032.1 477.0L2033.2 476.1L2034.3 476.0L2035.4 477.8L2036.5 487.2L2037.6 504.2L2038.7 526.9L2039.8 553.1L2040.9 579.8L2042.0 604.4L2043.1 624.0L2044.3 636.6L2045.4 640.9L2046.5 632.7L2047.6 608.0L2048.7 568.7L2049.8 518.0L2050.9 460.0L2052.0 399.5L2053.1 341.2L2054.2 290.0L2055.3 250.0L2056.4 224.5L2057.5 215.4L2058.7 228.1L2059.8 266.8L2060.9 327.4L2062.0 403.4L2063.1 486.7L2064.2 568.6L2065.3 640.3L2066.4 694.1L2067.5 724.4L2068.6 728.4L2069.7 712.1L2070.8 678.9L2072.0 633.2L2073.1 580.5L2074.2 527.3L2075.3 480.2L2076.4 445.0L2077.5 426.1L2078.6 423.8L2079.7 427.4L2080.8 432.9L2081.9 437.4L2083.0 438.5L2084.1 439.1L2085.2 439.9L2086.4 441.4L2087.5 452.2L2088.6 471.9L2089.7 495.9L2090.8 518.5L2091.9 534.5L2093.0 540.2L2094.1 536.7L2095.2 526.5L2096.3 510.8L2097.4 491.7L2098.5 471.5L2099.7 452.7L2100.8 437.7L2101.9 428.2L2103.0 425.6L2104.1 431.5L2105.2 446.3L2106.3 468.7L2107.4 496.9L2108.5 528.8L2109.6 561.8L2110.7 593.2L2111.8 620.6L2112.9 641.8L2114.1 655.2L2115.2 659.5L2116.3 643.3L2117.4 600.2L2118.5 535.8L2119.6 458.1L2120.7 376.7L2121.8 301.7L2122.9 242.6L2124.0 206.7L2125.1 198.2L2126.2 214.0L2127.4 250.7L2128.5 305.7L2129.6 374.7L2130.7 452.3L2131.8 532.8L2132.9 609.9L2134.0 677.7L2135.1 731.1L2136.2 766.0L2137.3 779.7L2138.4 771.1L2139.5 740.9L2140.6 692.3L2141.8 630.6L2142.9 562.4L2144.0 495.0L2145.1 435.6L2146.2 390.7L2147.3 365.1L2148.4 361.3L2149.5 374.3L2150.6 400.3L2151.7 434.8L2152.8 471.8L2153.9 504.7L2155.1 527.8L2156.2 537.1L2157.3 531.4L2158.4 513.7L2159.5 489.7L2160.6 467.4L2161.7 453.9L2162.8 452.5L2163.9 458.9L2165.0 471.3L2166.1 487.6L2167.2 505.0L2168.3 520.8L2169.5 532.5L2170.6 538.0L2171.7 538.2L2172.8 536.7L2173.9 533.7L2175.0 529.4L2176.1 523.8L2177.2 517.1L2178.3 509.6L2179.4 501.3L2180.5 492.7L2181.6 483.8L2182.8 475.1L2183.9 466.7L2185.0 459.0L2186.1 452.2L2187.2 446.5L2188.3 442.0L2189.4 439.0L2190.5 437.6L2191.6 442.5L2192.7 457.3L2193.8 480.5L2194.9 509.5L2196.0 541.1L2197.2 571.9L2198.3 598.6L2199.4 618.3L2200.5 628.8L2201.6 629.1L2202.7 620.5L2203.8 603.8L2204.9 580.5L2206.0 552.7L2207.1 522.6L2208.2 493.1L2209.3 466.5L2210.5 445.3L2211.6 431.2L2212.7 425.5L2213.8 425.3L2214.9 424.6L2216.0 424.2L2217.1 421.7L2218.2 414.6L2219.3 405.4L2220.4 397.2L2221.5 392.9L2222.6 398.2L2223.7 425.9L2224.9 471.6L2226.0 526.6L2227.1 580.2L2228.2 622.0L2229.3 643.9L2230.4 643.4L2231.5 627.2L2232.6 598.1L2233.7 559.6L2234.8 516.7L2235.9 474.6L2237.0 438.6L2238.2 413.2L2239.3 401.4L2240.4 409.2L2241.5 444.4L2242.6 495.9L2243.7 546.1L2244.8 578.0L2245.9 582.1L2247.0 568.1L2248.1 541.4L2249.2 507.2L2250.3 472.0L2251.4 442.7L2252.6 425.0L2253.7 421.9L2254.8 431.0L2255.9 449.8L2257.0 475.3L2258.1 503.3L2259.2 529.4L2260.3 549.3L2261.4 559.9L2262.5 559.7L2263.6 550.3L2264.7 533.3L2265.9 511.0L2267.0 486.8L2268.1 464.2L2269.2 446.4L2270.3 436.0L2271.4 434.5L2272.5 441.0L2273.6 454.1L2274.7 471.2L2275.8 488.9L2276.9 504.0L2278.0 513.6L2279.1 515.9L2280.3 514.2L2281.4 509.8L2282.5 503.5L2283.6 496.1L2284.7 488.4L2285.8 481.7L2286.9 476.7L2288.0 474.2L2289.1 474.6L2290.2 480.2L2291.3 490.3L2292.4 503.5L2293.6 517.6L2294.7 530.3L2295.8 539.6L2296.9 543.9L2298.0 542.1L2299.1 533.2L2300.2 518.3L2301.3 499.5L2302.4 479.5L2303.5 461.2L2304.6 447.0L2305.7 439.1L2306.8 438.2L2308.0 442.2L2309.1 450.2L2310.2 461.2L2311.3 473.8L2312.4 486.5L2313.5 497.8L2314.6 506.3L2315.7 510.9L2316.8 511.4L2317.9 508.6L2319.0 503.7L2320.1 498.5L2321.3 495.1L2322.4 494.6L2323.5 496.3L2324.6 499.4L2325.7 503.6L2326.8 508.0L2327.9 512.0L2329.0 514.9L2330.1 516.1L2331.2 515.4L2332.3 512.1L2333.4 506.5L2334.5 499.4L2335.7 491.3L2336.8 483.4L2337.9 476.4L2339.0 471.1L2340.1 468.3L2341.2 468.1L2342.3 470.7L2343.4 475.9L2344.5 482.9L2345.6 490.9L2346.7 498.8L2347.8 505.7L2349.0 510.6L2350.1 513.0L2351.2 513.0L2352.3 511.5L2353.4 508.8L2354.5 505.0L2355.6 500.5L2356.7 495.6L2357.8 490.8L2358.9 486.4L2360.0 482.8L2361.1 480.4L2362.2 479.1L2363.4 478.8L2364.5 479.1L2365.6 480.1L2366.7 481.7L2367.8 483.8L2368.9 486.4L2370.0 489.3L2371.1 492.5L2372.2 495.7L2373.3 499.0L2374.4 502.0L2375.5 504.6L2376.7 506.8L2377.8 507.2L2378.9 507.9L2380.0 507.7L2381.1 506.2L2382.2 503.5L2383.3 499.8L2384.4 495.5L2385.5 490.8L2386.6 486.0L2387.7 481.6L2388.8 477.9L2389.9 475.0L2391.1 473.3L2392.2 473.0L2393.3 474.6L2394.4 478.1L2395.5 483.0L2396.6 488.6L2397.7 494.2L2398.8 499.2L2399.9 502.9L2401.0 504.8L2402.1 505.2L2403.2 505.1L2404.4 504.5L2405.5 503.6L2406.6 502.3L2407.7 500.8L2408.8 499.1L2409.9 497.3L2411.0 495.6L2412.1 494.0L2413.2 492.6L2414.3 491.6L2415.4 490.9L2416.5 490.5L2417.6 490.0L2418.8 489.1L2419.9 488.0L2421.0 487.0L2422.1 486.3L2423.2 485.9L2424.3 486.1L2425.4 486.6L2426.5 487.0L2427.6 487.1L2428.7 487.0L2429.8 487.5L2430.9 488.6L2432.1 490.3L2433.2 492.4L2434.3 494.9L2435.4 497.5L2436.5 500.1L2437.6 502.5L2438.7 504.6L2439.8 506.3L2440.9 507.4L2442.0 507.9L2443.1 507.1L2444.2 505.0L2445.3 501.7L2446.5 497.6L2447.6 493.1L2448.7 488.6L2449.8 484.6L2450.9 481.4L2452.0 479.4L2453.1 478.8L2454.2 479.3L2455.3 480.7L2456.4 482.8L2457.5 485.5L2458.6 488.5L2459.8 491.4L2460.9 493.9L2462.0 495.9L2463.1 497.0L2464.2 497.4L2465.3 497.4L2466.4 497.2L2467.5 497.0L2468.6 496.7L2469.7 496.4L2470.8 496.2L2471.9 496.2L2473.0 496.4L2474.2 496.5L2475.3 496.6L2476.4 496.6L2477.5 496.5L2478.6 496.3L2479.7 496.1L2480.8 496.0L2481.9 495.8L2483.0 495.5L2484.1 495.2L2485.2 494.8L2486.3 494.5L2487.5 494.1L2488.6 493.7L2489.7 493.4L2490.8 493.1L2491.9 492.8L2493.0 492.4L2494.1 492.1L2495.2 491.7L2496.3 491.4L2497.4 491.1L2498.5 490.9L2499.6 490.9L2500.7 491.0L2501.9 491.0L2503.0 490.9L2504.1 490.6L2505.2 490.4L2506.3 490.3L2507.4 490.4L2508.5 490.7L2509.6 491.3L2510.7 492.1L2511.8 493.0L2512.9 494.1L2514.0 495.2L2515.2 496.2L2516.3 497.2L2517.4 498.0L2518.5 498.5L2519.6 498.7L2520.7 498.6L2521.8 498.0L2522.9 496.8L2524.0 495.2L2525.1 493.5L2526.2 491.8L2527.3 490.3L2528.4 489.2L2529.6 488.7L2530.7 488.6L2531.8 489.0L2532.9 489.6L2534.0 490.6L2535.1 491.6L2536.2 492.7L2537.3 493.7L2538.4 494.4L2539.5 494.9L2540.6 495.0L2541.7 494.8L2542.9 494.3L2544.0 493.6L2545.1 492.8L2546.2 491.9L2547.3 491.2L2548.4 490.6L2549.5 490.4L2550.6 490.4L2551.7 490.8L2552.8 491.3L2553.9 492.1L2555.0 493.0L2556.1 493.9L2557.3 494.8L2558.4 495.5L2559.5 496.0L2560.6 496.1L2561.7 496.0L2562.8 495.6L2563.9 495.1L2565.0 494.5L2566.1 493.8L2567.2 493.1L2568.3 492.3L2569.4 491.6L2570.6 490.9L2571.7 490.4L2572.8 490.0L2573.9 489.8L2575.0 489.8L2576.1 490.0L2577.2 490.3L2578.3 490.8L2579.4 491.4L2580.5 492.1L2581.6 492.9L2582.7 493.7L2583.8 494.5L2585.0 495.2L2586.1 495.9L2587.2 496.4L2588.3 496.8L2589.4 497.1L2590.5 497.1L2591.6 497.0L2592.7 496.7L2593.8 496.3L2594.9 495.7L2596.0 495.0L2597.1 494.2L2598.3 493.3L2599.4 492.4L2600.5 491.5L2601.6 490.6L2602.7 489.7L2603.8 489.0L2604.9 488.3L2606.0 487.8L2607.1 487.5L2608.2 487.3L2609.3 487.2L2610.4 487.3L2611.5 487.6L2612.7 488.1L2613.8 488.9L2614.9 489.9L2616.0 491.2L2617.1 492.6L2618.2 493.9L2619.3 495.2L2620.4 496.2L2621.5 497.0L2622.6 497.3L2623.7 497.4L2624.8 497.0L2626.0 496.5L2627.1 495.7L2628.2 494.7L2629.3 493.7L2630.4 492.7L2631.5 491.8L2632.6 491.1L2633.7 490.6L2634.8 490.2L2635.9 490.1L2637.0 490.1L2638.1 490.4L2639.2 490.8L2640.4 491.3L2641.5 491.9L2642.6 492.7L2643.7 493.4L2644.8 494.2L2645.9 495.0L2647.0 495.6L2648.1 496.1L2649.2 496.5L2650.3 496.6L2651.4 496.6L2652.5 496.4L2653.7 496.1L2654.8 495.7L2655.9 495.3L2657.0 495.0L2658.1 494.6L2659.2 494.3L2660.3 494.2L2661.4 494.1L2662.5 494.0L2663.6 493.9L2664.7 493.7L2665.8 493.4L2666.9 492.9L2668.1 492.3L2669.2 491.6L2670.3 490.9L2671.4 490.2L2672.5 489.7L2673.6 489.4L2674.7 489.3L2675.8 489.6L2676.9 490.1L2678.0 490.8L2679.1 491.5L2680.2 492.3L2681.4 493.0L2682.5 493.7L2683.6 494.3L2684.7 494.8L2685.8 495.0L2686.9 495.2L2688.0 495.2L2689.1 495.1L2690.2 494.9L2691.3 494.7L2692.4 494.3L2693.5 493.8L2694.6 492.5L2695.8 491.1L2696.9 490.0L2698.0 489.5L2699.1 489.3" fill="none" stroke="#ff0000" stroke-width="5.2" stroke-linejoin="round" stroke-dasharray="21.5 9.5"/>
<path d="M1580.0 493.0L1581.1 493.0L1582.2 493.0L1583.3 493.0L1584.4 493.0L1585.5 493.0L1586.6 493.0L1587.8 493.0L1588.9 493.0L1590.0 493.0L1591.1 493.0L1592.2 493.0L1593.3 493.0L1594.4 493.0L1595.5 493.0L1596.6 493.0L1597.7 493.0L1598.8 493.0L1599.9 493.0L1601.1 493.0L1602.2 493.0L1603.3 493.0L1604.4 493.0L1605.5 493.0L1606.6 493.0L1607.7 493.0L1608.8 493.0L1609.9 493.0L1611.0 493.0L1612.1 493.0L1613.2 493.0L1614.3 493.0L1615.5 493.0L1616.6 493.0L1617.7 493.0L1618.8 493.0L1619.9 493.0L1621.0 493.0L1622.1 493.0L1623.2 493.0L1624.3 493.0L1625.4 493.0L1626.5 493.0L1627.6 493.0L1628.8 493.0L1629.9 493.0L1631.0 493.0L1632.1 493.0L1633.2 493.0L1634.3 493.0L1635.4 493.0L1636.5 493.0L1637.6 493.0L1638.7 493.0L1639.8 493.0L1640.9 493.0L1642.0 493.0L1643.2 493.0L1644.3 493.0L1645.4 493.0L1646.5 493.0L1647.6 493.0L1648.7 493.0L1649.8 493.0L1650.9 493.0L1652.0 493.0L1653.1 493.0L1654.2 493.0L1655.3 493.0L1656.5 493.0L1657.6 493.0L1658.7 493.0L1659.8 493.0L1660.9 493.0L1662.0 493.0L1663.1 493.0L1664.2 493.0L1665.3 493.0L1666.4 493.0L1667.5 493.0L1668.6 493.0L1669.7 493.0L1670.9 493.0L1672.0 493.0L1673.1 493.0L1674.2 493.0L1675.3 493.0L1676.4 493.0L1677.5 493.0L1678.6 493.0L1679.7 493.0L1680.8 493.0L1681.9 493.0L1683.0 493.0L1684.2 493.0L1685.3 493.0L1686.4 493.0L1687.5 493.0L1688.6 493.0L1689.7 493.0L1690.8 493.0L1691.9 493.0L1693.0 493.0L1694.1 493.0L1695.2 493.0L1696.3 493.0L1697.4 493.0L1698.6 493.0L1699.7 493.0L1700.8 493.0L1701.9 493.0L1703.0 493.0L1704.1 493.0L1705.2 493.0L1706.3 493.0L1707.4 493.0L1708.5 493.0L1709.6 493.0L1710.7 493.0L1711.9 493.0L1713.0 493.0L1714.1 493.0L1715.2 493.0L1716.3 493.0L1717.4 493.0L1718.5 493.0L1719.6 493.0L1720.7 493.0L1721.8 493.0L1722.9 493.0L1724.0 493.0L1725.1 493.0L1726.3 493.0L1727.4 493.0L1728.5 493.0L1729.6 493.0L1730.7 493.0L1731.8 493.0L1732.9 493.0L1734.0 493.0L1735.1 493.0L1736.2 493.0L1737.3 493.0L1738.4 493.0L1739.6 493.0L1740.7 493.0L1741.8 493.0L1742.9 493.0L1744.0 493.0L1745.1 493.0L1746.2 493.0L1747.3 493.0L1748.4 493.0L1749.5 493.0L1750.6 493.0L1751.7 493.0L1752.8 493.0L1754.0 493.0L1755.1 493.0L1756.2 493.0L1757.3 492.7L1758.4 492.1L1759.5 491.3L1760.6 490.4L1761.7 489.6L1762.8 489.0L1763.9 488.6L1765.0 488.6L1766.1 489.7L1767.3 491.8L1768.4 494.6L1769.5 497.6L1770.6 500.0L1771.7 501.6L1772.8 501.8L1773.9 500.7L1775.0 498.3L1776.1 494.7L1777.2 490.3L1778.3 485.3L1779.4 480.3L1780.5 475.6L1781.7 471.5L1782.8 468.5L1783.9 466.7L1785.0 466.3L1786.1 468.3L1787.2 472.9L1788.3 479.8L1789.4 488.5L1790.5 498.1L1791.6 508.0L1792.7 517.4L1793.8 525.5L1795.0 531.7L1796.1 535.4L1797.2 536.4L1798.3 532.6L1799.4 523.3L1800.5 509.5L1801.6 493.0L1802.7 475.7L1803.8 459.7L1804.9 446.8L1806.0 438.6L1807.1 436.1L1808.2 437.2L1809.4 439.6L1810.5 441.9L1811.6 442.8L1812.7 437.8L1813.8 426.6L1814.9 415.8L1816.0 411.6L1817.1 418.9L1818.2 438.7L1819.3 467.7L1820.4 501.1L1821.5 533.4L1822.7 559.1L1823.8 574.0L1824.9 576.1L1826.0 570.1L1827.1 558.2L1828.2 541.9L1829.3 523.5L1830.4 505.5L1831.5 490.4L1832.6 480.2L1833.7 476.3L1834.8 476.8L1835.9 478.6L1837.1 481.5L1838.2 485.3L1839.3 489.8L1840.4 494.7L1841.5 499.6L1842.6 504.2L1843.7 508.2L1844.8 511.3L1845.9 513.3L1847.0 514.2L1848.1 512.8L1849.2 507.9L1850.4 500.2L1851.5 490.8L1852.6 481.1L1853.7 472.7L1854.8 466.7L1855.9 464.1L1857.0 465.3L1858.1 470.4L1859.2 478.8L1860.3 489.5L1861.4 501.2L1862.5 512.5L1863.6 522.1L1864.8 528.8L1865.9 531.9L1867.0 530.9L1868.1 526.2L1869.2 518.2L1870.3 507.9L1871.4 496.6L1872.5 485.6L1873.6 476.2L1874.7 469.6L1875.8 466.4L1876.9 466.9L1878.1 470.3L1879.2 476.0L1880.3 483.2L1881.4 490.7L1882.5 497.5L1883.6 502.5L1884.7 505.0L1885.8 505.0L1886.9 503.5L1888.0 500.9L1889.1 497.7L1890.2 494.2L1891.3 491.1L1892.5 488.7L1893.6 487.5L1894.7 487.5L1895.8 488.1L1896.9 489.1L1898.0 490.3L1899.1 491.3L1900.2 491.8L1901.3 491.8L1902.4 491.6L1903.5 491.3L1904.6 490.8L1905.8 490.1L1906.9 489.4L1908.0 488.7L1909.1 488.0L1910.2 487.4L1911.3 486.9L1912.4 486.5L1913.5 486.3L1914.6 486.3L1915.7 486.8L1916.8 487.6L1917.9 488.7L1919.0 490.0L1920.2 491.4L1921.3 492.7L1922.4 493.8L1923.5 494.7L1924.6 495.1L1925.7 495.2L1926.8 494.9L1927.9 494.3L1929.0 493.5L1930.1 492.5L1931.2 491.5L1932.3 490.5L1933.5 489.6L1934.6 489.0L1935.7 488.6L1936.8 488.5L1937.9 488.8L1939.0 489.2L1940.1 489.9L1941.2 490.7L1942.3 491.6L1943.4 492.4L1944.5 493.1L1945.6 493.7L1946.7 494.0L1947.9 494.1L1949.0 493.8L1950.1 493.3L1951.2 492.5L1952.3 491.5L1953.4 490.5L1954.5 489.5L1955.6 488.6L1956.7 487.9L1957.8 487.5L1958.9 487.4L1960.0 487.8L1961.2 488.6L1962.3 489.7L1963.4 491.2L1964.5 492.7L1965.6 494.2L1966.7 495.6L1967.8 496.6L1968.9 497.3L1970.0 497.4L1971.1 496.9L1972.2 495.6L1973.3 493.7L1974.4 491.6L1975.6 489.5L1976.7 487.8L1977.8 486.6L1978.9 486.3L1980.0 486.5L1981.1 487.0L1982.2 487.7L1983.3 488.7L1984.4 489.7L1985.5 490.7L1986.6 491.6L1987.7 492.4L1988.9 492.8L1990.0 493.0L1991.1 492.9L1992.2 492.7L1993.3 492.0L1994.4 491.3L1995.5 490.7L1996.6 490.3L1997.7 490.1L1998.8 490.1L1999.9 490.3L2001.0 490.8L2002.1 492.4L2003.3 493.6L2004.4 494.7L2005.5 495.8L2006.6 496.8L2007.7 497.5L2008.8 498.0L2009.9 498.1L2011.0 497.3L2012.1 496.4L2013.2 495.1L2014.3 493.8L2015.4 492.3L2016.6 490.8L2017.7 489.4L2018.8 488.0L2019.9 486.8L2021.0 485.9L2022.1 485.1L2023.2 484.7L2024.3 484.5L2025.4 484.7L2026.5 485.0L2027.6 485.7L2028.7 486.5L2029.8 487.5L2031.0 488.5L2032.1 489.6L2033.2 490.7L2034.3 491.7L2035.4 492.6L2036.5 493.3L2037.6 493.8L2038.7 494.0L2039.8 494.1L2040.9 494.0L2042.0 493.6L2043.1 493.1L2044.3 492.4L2045.4 491.7L2046.5 490.9L2047.6 490.1L2048.7 489.4L2049.8 488.8L2050.9 488.3L2052.0 487.9L2053.1 487.8L2054.2 487.8L2055.3 488.0L2056.4 488.4L2057.5 488.9L2058.7 489.5L2059.8 490.2L2060.9 491.0L2062.0 491.7L2063.1 492.4L2064.2 493.0L2065.3 493.5L2066.4 493.8L2067.5 494.0L2068.6 494.0L2069.7 493.8L2070.8 493.5L2072.0 493.0L2073.1 492.4L2074.2 491.8L2075.3 491.1L2076.4 490.4L2077.5 489.7L2078.6 489.1L2079.7 488.6L2080.8 488.2L2081.9 488.0L2083.0 487.9L2084.1 488.0L2085.2 488.2L2086.4 488.5L2087.5 488.9L2088.6 489.4L2089.7 489.9L2090.8 490.4L2091.9 490.9L2093.0 491.3L2094.1 491.6L2095.2 491.9L2096.3 492.0L2097.4 492.0L2098.5 491.8L2099.7 491.6L2100.8 491.3L2101.9 490.9L2103.0 490.5L2104.1 490.1L2105.2 489.7L2106.3 489.4L2107.4 489.2L2108.5 489.0L2109.6 489.0L2110.7 489.2L2111.8 489.4L2112.9 489.7L2114.1 490.2L2115.2 490.7L2116.3 491.2L2117.4 491.8L2118.5 492.3L2119.6 492.7L2120.7 493.1L2121.8 493.3L2122.9 493.4L2124.0 493.4L2125.1 493.1L2126.2 492.8L2127.4 492.3L2128.5 491.7L2129.6 491.0L2130.7 490.2L2131.8 489.5L2132.9 488.8L2134.0 488.2L2135.1 487.7L2136.2 487.3L2137.3 487.1L2138.4 487.1L2139.5 487.3L2140.6 487.7L2141.8 488.2L2142.9 488.9L2144.0 489.7L2145.1 490.6L2146.2 491.5L2147.3 492.4L2148.4 493.2L2149.5 493.9L2150.6 494.5L2151.7 494.8L2152.8 495.0L2153.9 494.9L2155.1 494.7L2156.2 494.2L2157.3 493.5L2158.4 492.7L2159.5 491.7L2160.6 490.6L2161.7 489.6L2162.8 488.5L2163.9 487.5L2165.0 486.7L2166.1 486.0L2167.2 485.5L2168.3 485.2L2169.5 485.2L2170.6 485.4L2171.7 485.8L2172.8 486.4L2173.9 487.2L2175.0 488.2L2176.1 489.3L2177.2 490.4L2178.3 491.5L2179.4 492.6L2180.5 493.6L2181.6 494.4L2182.8 495.1L2183.9 495.6L2185.0 495.9L2186.1 495.9L2187.2 495.8L2188.3 495.5L2189.4 495.0L2190.5 494.3L2191.6 493.6L2192.7 492.7L2193.8 491.9L2194.9 491.0L2196.0 490.2L2197.2 489.4L2198.3 488.8L2199.4 488.2L2200.5 487.8L2201.6 487.6L2202.7 487.4L2203.8 487.4L2204.9 487.5L2206.0 487.7L2207.1 488.0L2208.2 488.4L2209.3 488.8L2210.5 489.2L2211.6 489.5L2212.7 489.9L2213.8 490.2L2214.9 490.5L2216.0 490.7L2217.1 490.9L2218.2 491.0L2219.3 491.0L2220.4 491.0L2221.5 491.0L2222.6 491.0L2223.7 491.0L2224.9 490.9L2226.0 490.9L2227.1 490.9L2228.2 490.9L2229.3 490.9L2230.4 491.0L2231.5 491.0L2232.6 491.1L2233.7 491.2L2234.8 491.3L2235.9 491.3L2237.0 491.4L2238.2 491.4L2239.3 491.5L2240.4 491.5L2241.5 491.5L2242.6 491.4L2243.7 491.4L2244.8 491.3L2245.9 491.3L2247.0 491.2L2248.1 491.2L2249.2 491.1L2250.3 491.1L2251.4 491.1L2252.6 491.1L2253.7 491.1L2254.8 491.1L2255.9 491.1L2257.0 491.0L2258.1 491.0L2259.2 490.9L2260.3 490.8L2261.4 490.7L2262.5 490.4L2263.6 490.2L2264.7 489.9L2265.9 489.6L2267.0 489.2L2268.1 488.9L2269.2 488.5L2270.3 488.2L2271.4 488.0L2272.5 487.8L2273.6 487.6L2274.7 487.6L2275.8 487.7L2276.9 488.0L2278.0 488.3L2279.1 488.8L2280.3 489.3L2281.4 490.0L2282.5 490.7L2283.6 491.5L2284.7 492.2L2285.8 493.0L2286.9 493.6L2288.0 494.2L2289.1 494.7L2290.2 495.0L2291.3 495.2L2292.4 495.2L2293.6 495.0L2294.7 494.6L2295.8 494.1L2296.9 493.4L2298.0 492.6L2299.1 491.7L2300.2 490.8L2301.3 489.9L2302.4 489.0L2303.5 488.2L2304.6 487.5L2305.7 487.0L2306.8 486.6L2308.0 486.4L2309.1 486.5L2310.2 486.7L2311.3 487.1L2312.4 487.6L2313.5 488.3L2314.6 489.0L2315.7 489.8L2316.8 490.7L2317.9 491.4L2319.0 492.1L2320.1 492.7L2321.3 493.2L2322.4 493.5L2323.5 493.6L2324.6 493.5L2325.7 493.3L2326.8 492.9L2327.9 492.4L2329.0 491.8L2330.1 491.1L2331.2 490.4L2332.3 489.7L2333.4 489.0L2334.5 488.5L2335.7 488.1L2336.8 487.9L2337.9 487.8L2339.0 487.9L2340.1 488.2L2341.2 488.6L2342.3 489.1L2343.4 489.8L2344.5 490.5L2345.6 491.3L2346.7 492.0L2347.8 492.7L2349.0 493.2L2350.1 493.7L2351.2 493.9L2352.3 494.0L2353.4 493.9L2354.5 493.7L2355.6 493.2L2356.7 492.6L2357.8 491.9L2358.9 491.1L2360.0 490.3L2361.1 489.5L2362.2 488.7L2363.4 488.0L2364.5 487.5L2365.6 487.1L2366.7 486.9L2367.8 486.9L2368.9 487.2L2370.0 487.6L2371.1 488.2L2372.2 488.9L2373.3 489.8L2374.4 490.7L2375.5 491.6L2376.7 492.5L2377.8 492.1L2378.9 492.4L2380.0 492.7L2381.1 492.9L2382.2 492.9L2383.3 492.9L2384.4 492.7L2385.5 492.4L2386.6 492.0L2387.7 491.5L2388.8 491.0L2389.9 490.4L2391.1 489.8L2392.2 489.3L2393.3 488.8L2394.4 488.4L2395.5 488.0L2396.6 487.8L2397.7 487.7L2398.8 487.8L2399.9 487.9L2401.0 488.2L2402.1 488.6L2403.2 489.1L2404.4 489.7L2405.5 490.3L2406.6 490.9L2407.7 491.6L2408.8 492.1L2409.9 492.6L2411.0 493.1L2412.1 493.4L2413.2 493.6L2414.3 493.6L2415.4 493.6L2416.5 493.4L2417.6 493.1L2418.8 492.7L2419.9 492.3L2421.0 491.8L2422.1 491.2L2423.2 490.7L2424.3 490.1L2425.4 489.6L2426.5 489.2L2427.6 488.9L2428.7 488.6L2429.8 488.5L2430.9 488.4L2432.1 488.5L2433.2 488.6L2434.3 488.8L2435.4 489.1L2436.5 489.4L2437.6 489.8L2438.7 490.2L2439.8 490.6L2440.9 490.9L2442.0 491.2L2443.1 491.5L2444.2 491.6L2445.3 491.8L2446.5 491.8L2447.6 491.7L2448.7 491.6L2449.8 491.5L2450.9 491.3L2452.0 491.0L2453.1 490.7L2454.2 490.5L2455.3 490.2L2456.4 489.9L2457.5 489.7L2458.6 489.6L2459.8 489.5L2460.9 489.5L2462.0 489.5L2463.1 489.6L2464.2 489.8L2465.3 490.0L2466.4 490.2L2467.5 490.5L2468.6 490.8L2469.7 491.1L2470.8 491.4L2471.9 491.7L2473.0 492.0L2474.2 492.2L2475.3 492.3L2476.4 492.4L2477.5 492.4L2478.6 492.4L2479.7 492.3L2480.8 492.2L2481.9 492.0L2483.0 491.7L2484.1 491.4L2485.2 491.1L2486.3 490.7L2487.5 490.4L2488.6 490.0L2489.7 489.7L2490.8 489.4L2491.9 489.1L2493.0 488.9L2494.1 488.7L2495.2 488.6L2496.3 488.5L2497.4 488.5L2498.5 488.5L2499.6 488.6L2500.7 488.8L2501.9 489.0L2503.0 489.2L2504.1 489.5L2505.2 489.8L2506.3 490.2L2507.4 490.5L2508.5 490.8L2509.6 491.2L2510.7 491.5L2511.8 491.8L2512.9 492.1L2514.0 492.3L2515.2 492.5L2516.3 492.6L2517.4 492.7L2518.5 492.7L2519.6 492.7L2520.7 492.6L2521.8 492.4L2522.9 492.2L2524.0 492.0L2525.1 491.7L2526.2 491.4L2527.3 491.1L2528.4 490.7L2529.6 490.4L2530.7 490.1L2531.8 489.7L2532.9 489.5L2534.0 489.2L2535.1 489.0L2536.2 488.9L2537.3 488.8L2538.4 488.8L2539.5 488.8L2540.6 488.9L2541.7 489.1L2542.9 489.3L2544.0 489.5L2545.1 489.8L2546.2 490.1L2547.3 490.4L2548.4 490.7L2549.5 491.0L2550.6 491.3L2551.7 491.6L2552.8 491.8L2553.9 492.0L2555.0 492.1L2556.1 492.1L2557.3 492.1L2558.4 492.0L2559.5 491.9L2560.6 491.7L2561.7 491.4L2562.8 491.2L2563.9 490.9L2565.0 490.6L2566.1 490.3L2567.2 490.0L2568.3 489.7L2569.4 489.5L2570.6 489.3L2571.7 489.2L2572.8 489.1L2573.9 489.1L2575.0 489.2L2576.1 489.3L2577.2 489.5L2578.3 489.8L2579.4 490.1L2580.5 490.4L2581.6 490.8L2582.7 491.1L2583.8 491.5L2585.0 491.8L2586.1 492.1L2587.2 492.3L2588.3 492.5L2589.4 492.5L2590.5 492.5L2591.6 492.5L2592.7 492.3L2593.8 492.1L2594.9 491.8L2596.0 491.4L2597.1 491.0L2598.3 490.6L2599.4 490.1L2600.5 489.7L2601.6 489.3L2602.7 489.0L2603.8 488.7L2604.9 488.5L2606.0 488.4L2607.1 488.4L2608.2 488.5L2609.3 488.7L2610.4 489.0L2611.5 489.3L2612.7 489.7L2613.8 490.1L2614.9 490.6L2616.0 491.1L2617.1 491.6L2618.2 492.0L2619.3 492.3L2620.4 492.6L2621.5 492.8L2622.6 492.8L2623.7 492.8L2624.8 492.7L2626.0 492.4L2627.1 492.1L2628.2 491.7L2629.3 491.2L2630.4 490.7L2631.5 490.2L2632.6 489.7L2633.7 489.2L2634.8 488.8L2635.9 488.4L2637.0 488.2L2638.1 488.1L2639.2 488.1L2640.4 488.2L2641.5 488.5L2642.6 488.9L2643.7 489.3L2644.8 489.9L2645.9 490.4L2647.0 491.1L2648.1 491.7L2649.2 492.3L2650.3 492.8L2651.4 493.2L2652.5 493.5L2653.7 493.8L2654.8 493.8L2655.9 493.8L2657.0 493.6L2658.1 493.2L2659.2 492.8L2660.3 492.2L2661.4 491.6L2662.5 490.9L2663.6 490.2L2664.7 489.6L2665.8 488.9L2666.9 488.4L2668.1 487.9L2669.2 487.6L2670.3 487.3L2671.4 487.3L2672.5 487.3L2673.6 487.5L2674.7 487.8L2675.8 488.2L2676.9 488.7L2678.0 489.3L2679.1 489.9L2680.2 490.5L2681.4 491.1L2682.5 491.6L2683.6 492.1L2684.7 492.5L2685.8 492.8L2686.9 492.9L2688.0 493.0L2689.1 492.9L2690.2 492.8L2691.3 492.5L2692.4 492.2L2693.5 491.8L2694.6 491.4L2695.8 491.1L2696.9 490.7L2698.0 490.3L2699.1 490.1" fill="none" stroke="#000000" stroke-width="4.6" stroke-linejoin="round" stroke-dasharray="36 9.6 6.4 9.6"/>
<rect x="1524.5" y="33.0" width="1219.0" height="912.2" fill="none" stroke="#0a0a0a" stroke-width="5.6"/>
<path d="M1580.0 945.2v-27.8M1580.0 33.0v27.8M1801.6 945.2v-27.8M1801.6 33.0v27.8M2023.2 945.2v-27.8M2023.2 33.0v27.8M2244.8 945.2v-27.8M2244.8 33.0v27.8M2466.4 945.2v-27.8M2466.4 33.0v27.8M2688.0 945.2v-27.8M2688.0 33.0v27.8M1524.5 793.1h27.8M2743.5 793.1h-27.8M1524.5 641.1h27.8M2743.5 641.1h-27.8M1524.5 489.1h27.8M2743.5 489.1h-27.8M1524.5 337.1h27.8M2743.5 337.1h-27.8M1524.5 185.1h27.8M2743.5 185.1h-27.8" stroke="#0a0a0a" stroke-width="4.6" fill="none"/>

<rect x="2455.0" y="80.8" width="236.3" height="123.7" rx="6" ry="6" fill="#fff" stroke="#dedede" stroke-width="5.0"/>
<path d="M2475.0 107.5H2529.0" stroke="#0000ff" stroke-width="4.6"/>
<path d="M2476.5 143.8H2529.0" stroke="#ff0000" stroke-width="6.0" stroke-dasharray="23 7"/>
<path d="M2476.5 182.0H2529.0" stroke="#000000" stroke-width="6.5" stroke-dasharray="35 10 7.5 10"/>
</g>
<g id="panel-c" filter="url(#soft)">
<path d="M213.3 1744.0L214.5 1744.0L215.6 1744.0L216.7 1744.0L217.8 1744.0L218.9 1744.0L220.0 1744.0L221.1 1744.0L222.2 1744.0L223.3 1744.0L224.4 1744.0L225.5 1744.0L226.6 1744.0L227.7 1744.0L228.8 1744.0L230.0 1744.0L231.1 1744.0L232.2 1744.0L233.3 1744.0L234.4 1744.0L235.5 1744.0L236.6 1744.0L237.7 1744.0L238.8 1744.0L239.9 1744.0L241.0 1744.0L242.1 1744.0L243.2 1744.0L244.3 1744.0L245.5 1744.0L246.6 1744.0L247.7 1744.0L248.8 1744.0L249.9 1744.0L251.0 1744.0L252.1 1744.0L253.2 1744.0L254.3 1744.0L255.4 1744.0L256.5 1744.0L257.6 1744.0L258.7 1744.0L259.8 1744.0L261.0 1744.0L262.1 1744.0L263.2 1744.0L264.3 1744.0L265.4 1744.0L266.5 1744.0L267.6 1744.0L268.7 1744.0L269.8 1744.0L270.9 1744.0L272.0 1744.0L273.1 1744.0L274.2 1744.0L275.3 1744.0L276.4 1744.0L277.6 1744.0L278.7 1744.0L279.8 1744.0L280.9 1744.0L282.0 1744.0L283.1 1744.0L284.2 1744.0L285.3 1744.0L286.4 1744.0L287.5 1744.0L288.6 1744.0L289.7 1744.0L290.8 1744.0L291.9 1744.0L293.1 1744.0L294.2 1744.0L295.3 1744.0L296.4 1744.0L297.5 1744.0L298.6 1744.0L299.7 1744.0L300.8 1744.0L301.9 1744.0L303.0 1744.0L304.1 1744.0L305.2 1744.0L306.3 1744.0L307.4 1744.0L308.6 1744.0L309.7 1744.0L310.8 1744.0L311.9 1744.0L313.0 1744.0L314.1 1744.0L315.2 1744.0L316.3 1744.0L317.4 1744.0L318.5 1744.0L319.6 1744.0L320.7 1744.0L321.8 1744.0L322.9 1744.0L324.1 1744.0L325.2 1744.0L326.3 1744.0L327.4 1744.0L328.5 1744.0L329.6 1744.0L330.7 1744.0L331.8 1744.0L332.9 1744.0L334.0 1744.0L335.1 1744.0L336.2 1744.0L337.3 1744.0L338.4 1744.0L339.5 1744.0L340.7 1744.0L341.8 1744.0L342.9 1744.0L344.0 1744.0L345.1 1744.0L346.2 1744.0L347.3 1744.0L348.4 1744.0L349.5 1744.0L350.6 1744.0L351.7 1744.0L352.8 1744.0L353.9 1744.0L355.0 1744.0L356.2 1744.0L357.3 1744.0L358.4 1744.0L359.5 1744.0L360.6 1744.0L361.7 1744.0L362.8 1744.0L363.9 1744.0L365.0 1744.0L366.1 1744.0L367.2 1744.0L368.3 1744.0L369.4 1744.0L370.5 1744.0L371.7 1744.0L372.8 1744.0L373.9 1744.0L375.0 1744.0L376.1 1744.0L377.2 1744.0L378.3 1744.0L379.4 1744.0L380.5 1744.0L381.6 1744.0L382.7 1743.9L383.8 1743.8L384.9 1743.6L386.0 1743.4L387.1 1743.2L388.3 1743.0L389.4 1742.8L390.5 1742.6L391.6 1742.5L392.7 1742.4L393.8 1742.3L394.9 1741.7L396.0 1740.6L397.1 1739.3L398.2 1738.0L399.3 1737.0L400.4 1736.4L401.5 1736.6L402.6 1738.6L403.8 1742.4L404.9 1747.8L406.0 1754.6L407.1 1762.4L408.2 1770.9L409.3 1779.7L410.4 1788.3L411.5 1796.2L412.6 1803.2L413.7 1808.9L414.8 1812.9L415.9 1815.1L417.0 1815.0L418.1 1806.8L419.3 1789.5L420.4 1764.6L421.5 1734.3L422.6 1701.2L423.7 1668.1L424.8 1638.0L425.9 1613.4L427.0 1596.5L428.1 1588.7L429.2 1590.7L430.3 1602.6L431.4 1623.4L432.5 1652.0L433.6 1686.4L434.8 1724.5L435.9 1763.9L437.0 1802.0L438.1 1836.4L439.2 1865.0L440.3 1885.8L441.4 1897.6L442.5 1899.5L443.6 1890.1L444.7 1870.2L445.8 1842.1L446.9 1809.5L448.0 1776.3L449.1 1746.7L450.2 1724.4L451.4 1712.1L452.5 1710.1L453.6 1709.4L454.7 1708.3L455.8 1707.3L456.9 1706.9L458.0 1702.9L459.1 1693.6L460.2 1680.9L461.3 1667.2L462.4 1655.3L463.5 1647.3L464.6 1644.9L465.7 1654.0L466.9 1677.2L468.0 1711.7L469.1 1753.1L470.2 1796.2L471.3 1835.9L472.4 1867.0L473.5 1885.7L474.6 1889.6L475.7 1875.5L476.8 1844.6L477.9 1802.3L479.0 1756.1L480.1 1714.1L481.2 1683.6L482.4 1670.0L483.5 1671.3L484.6 1678.3L485.7 1689.7L486.8 1704.1L487.9 1719.8L489.0 1734.8L490.1 1747.2L491.2 1755.5L492.3 1758.6L493.4 1755.3L494.5 1745.2L495.6 1731.0L496.7 1716.5L497.8 1705.6L499.0 1701.0L500.1 1703.7L501.2 1712.8L502.3 1727.2L503.4 1745.5L504.5 1765.7L505.6 1785.6L506.7 1803.1L507.8 1816.3L508.9 1823.9L510.0 1825.0L511.1 1819.7L512.2 1808.5L513.3 1792.4L514.5 1772.8L515.6 1751.4L516.7 1730.0L517.8 1710.5L518.9 1694.5L520.0 1683.6L521.1 1678.5L522.2 1680.1L523.3 1688.9L524.4 1703.2L525.5 1720.2L526.6 1736.7L527.7 1749.5L528.8 1756.1L530.0 1756.2L531.1 1753.6L532.2 1749.5L533.3 1745.0L534.4 1741.6L535.5 1740.3L536.6 1741.4L537.7 1745.0L538.8 1750.4L539.9 1757.1L541.0 1764.1L542.1 1770.4L543.2 1775.2L544.3 1777.9L545.4 1777.6L546.6 1771.6L547.7 1760.0L548.8 1744.6L549.9 1727.6L551.0 1711.4L552.1 1698.6L553.2 1690.9L554.3 1689.6L555.4 1696.1L556.5 1710.1L557.6 1729.3L558.7 1751.1L559.8 1772.3L560.9 1789.6L562.1 1800.6L563.2 1803.7L564.3 1800.6L565.4 1792.9L566.5 1781.5L567.6 1768.0L568.7 1753.9L569.8 1741.1L570.9 1731.1L572.0 1725.1L573.1 1723.8L574.2 1724.3L575.3 1725.4L576.4 1726.8L577.6 1728.5L578.7 1730.0L579.8 1731.2L580.9 1731.8L582.0 1731.9L583.1 1732.0L584.2 1732.2L585.3 1732.3L586.4 1732.4L587.5 1732.4L588.6 1733.3L589.7 1735.0L590.8 1737.2L591.9 1739.0L593.1 1739.8L594.2 1739.6L595.3 1738.9L596.4 1738.1L597.5 1737.6L598.6 1738.3L599.7 1743.1L600.8 1751.3L601.9 1761.3L603.0 1771.3L604.1 1779.2L605.2 1783.6L606.3 1783.7L607.4 1780.0L608.5 1773.2L609.7 1763.9L610.8 1753.2L611.9 1742.4L613.0 1732.7L614.1 1725.2L615.2 1720.8L616.3 1719.9L617.4 1720.7L618.5 1722.2L619.6 1724.1L620.7 1725.8L621.8 1726.9L622.9 1727.2L624.0 1727.4L625.2 1727.7L626.3 1728.1L627.4 1728.4L628.5 1728.5L629.6 1729.9L630.7 1734.4L631.8 1741.4L632.9 1749.9L634.0 1759.0L635.1 1767.6L636.2 1774.5L637.3 1778.9L638.4 1780.2L639.5 1778.9L640.7 1775.4L641.8 1770.0L642.9 1763.0L644.0 1754.8L645.1 1746.0L646.2 1737.1L647.3 1728.8L648.4 1721.4L649.5 1715.6L650.6 1711.6L651.7 1709.8L652.8 1710.3L653.9 1713.3L655.0 1718.2L656.1 1724.1L657.3 1729.9L658.4 1734.4L659.5 1736.8L660.6 1736.8L661.7 1735.6L662.8 1733.6L663.9 1731.1L665.0 1728.6L666.1 1726.6L667.2 1725.5L668.3 1726.5L669.4 1735.2L670.5 1751.6L671.6 1774.0L672.8 1800.1L673.9 1826.9L675.0 1851.8L676.1 1871.9L677.2 1885.1L678.3 1890.2L679.4 1882.8L680.5 1858.8L681.6 1820.3L682.7 1770.4L683.8 1713.0L684.9 1652.9L686.0 1594.9L687.1 1543.8L688.3 1503.6L689.4 1477.7L690.5 1468.2L691.6 1480.2L692.7 1518.1L693.8 1577.8L694.9 1653.0L696.0 1735.5L697.1 1816.7L698.2 1887.8L699.3 1941.2L700.4 1971.2L701.5 1975.3L702.6 1959.1L703.8 1926.4L704.9 1881.2L706.0 1829.1L707.1 1776.6L708.2 1730.4L709.3 1696.0L710.4 1677.7L711.5 1676.1L712.6 1680.1L713.7 1686.0L714.8 1690.7L715.9 1691.9L717.0 1692.4L718.1 1693.0L719.2 1694.2L720.4 1704.6L721.5 1723.8L722.6 1747.2L723.7 1769.3L724.8 1784.8L725.9 1790.0L727.0 1786.2L728.1 1775.8L729.2 1760.0L730.3 1740.9L731.4 1720.9L732.5 1702.4L733.6 1687.7L734.7 1678.6L735.9 1676.4L737.0 1682.8L738.1 1697.9L739.2 1720.5L740.3 1749.0L741.4 1780.9L742.5 1813.8L743.6 1845.1L744.7 1872.2L745.8 1893.0L746.9 1905.9L748.0 1909.7L749.1 1893.0L750.2 1849.5L751.4 1784.7L752.5 1706.6L753.6 1625.0L754.7 1549.9L755.8 1490.8L756.9 1455.0L758.0 1446.8L759.1 1462.9L760.2 1500.1L761.3 1555.6L762.4 1625.1L763.5 1703.4L764.6 1784.4L765.7 1862.1L766.9 1930.5L768.0 1984.3L769.1 2019.5L770.2 2033.3L771.3 2024.7L772.4 1994.4L773.5 1945.5L774.6 1883.3L775.7 1814.5L776.8 1746.5L777.9 1686.3L779.0 1640.6L780.1 1614.2L781.2 1609.5L782.3 1621.8L783.5 1647.2L784.6 1681.3L785.7 1718.0L786.8 1750.9L787.9 1774.3L789.0 1784.0L790.1 1779.0L791.2 1762.2L792.3 1739.2L793.4 1718.0L794.5 1705.6L795.6 1705.3L796.7 1712.6L797.8 1725.8L799.0 1742.8L800.1 1760.7L801.2 1776.8L802.3 1788.4L803.4 1793.7L804.5 1793.5L805.6 1791.4L806.7 1787.6L807.8 1782.3L808.9 1775.7L810.0 1767.9L811.1 1759.2L812.2 1749.9L813.3 1740.3L814.5 1730.6L815.6 1721.2L816.7 1712.4L817.8 1704.4L818.9 1697.5L820.0 1691.9L821.1 1687.8L822.2 1685.3L823.3 1684.5L824.4 1690.2L825.5 1705.8L826.6 1729.8L827.7 1759.6L828.8 1792.0L829.9 1823.6L831.1 1850.9L832.2 1871.1L833.3 1881.9L834.4 1882.5L835.5 1874.0L836.6 1857.4L837.7 1834.0L838.8 1806.0L839.9 1775.8L841.0 1745.9L842.1 1719.0L843.2 1697.4L844.3 1682.9L845.4 1676.9L846.6 1676.4L847.7 1675.4L848.8 1674.8L849.9 1672.2L851.0 1665.0L852.1 1655.7L853.2 1647.5L854.3 1643.2L855.4 1648.5L856.5 1676.2L857.6 1722.0L858.7 1776.9L859.8 1830.3L860.9 1872.1L862.1 1894.0L863.2 1893.4L864.3 1877.2L865.4 1848.0L866.5 1809.5L867.6 1766.6L868.7 1724.5L869.8 1688.5L870.9 1663.0L872.0 1651.3L873.1 1659.0L874.2 1694.2L875.3 1745.7L876.4 1795.8L877.5 1827.7L878.7 1831.9L879.8 1818.0L880.9 1791.4L882.0 1757.2L883.1 1722.2L884.2 1692.9L885.3 1675.2L886.4 1672.1L887.5 1681.3L888.6 1700.0L889.7 1725.4L890.8 1753.5L891.9 1779.6L893.0 1799.6L894.2 1810.4L895.3 1810.4L896.4 1801.2L897.5 1784.5L898.6 1762.6L899.7 1738.8L900.8 1716.5L901.9 1699.1L903.0 1689.1L904.1 1687.8L905.2 1694.5L906.3 1707.7L907.4 1724.8L908.5 1742.4L909.7 1757.2L910.8 1766.4L911.9 1768.3L913.0 1766.0L914.1 1761.0L915.2 1754.0L916.3 1745.8L917.4 1737.4L918.5 1730.0L919.6 1724.3L920.7 1721.1L921.8 1721.2L922.9 1726.3L924.0 1736.3L925.2 1749.5L926.3 1763.8L927.4 1776.9L928.5 1786.7L929.6 1791.6L930.7 1790.6L931.8 1782.6L932.9 1768.6L934.0 1750.8L935.1 1731.7L936.2 1714.2L937.3 1700.8L938.4 1693.4L939.5 1692.9L940.6 1697.0L941.8 1705.0L942.9 1715.8L944.0 1728.0L945.1 1740.1L946.2 1750.7L947.3 1758.4L948.4 1762.2L949.5 1761.9L950.6 1758.3L951.7 1752.7L952.8 1747.0L953.9 1743.1L955.0 1742.3L956.1 1743.9L957.3 1747.1L958.4 1751.4L959.5 1756.3L960.6 1760.8L961.7 1764.3L962.8 1766.2L963.9 1766.2L965.0 1763.6L966.1 1758.7L967.2 1752.0L968.3 1744.4L969.4 1736.7L970.5 1729.8L971.6 1724.5L972.8 1721.3L973.9 1720.8L975.0 1722.8L976.1 1727.3L977.2 1733.6L978.3 1740.8L979.4 1748.0L980.5 1754.2L981.6 1758.6L982.7 1760.5L983.8 1760.2L984.9 1758.6L986.0 1756.0L987.1 1752.5L988.3 1748.4L989.4 1744.2L990.5 1740.1L991.6 1736.5L992.7 1733.8L993.8 1732.1L994.9 1731.6L996.0 1732.0L997.1 1732.8L998.2 1734.2L999.3 1735.9L1000.4 1738.0L1001.5 1740.4L1002.6 1742.9L1003.7 1745.5L1004.9 1748.0L1006.0 1750.4L1007.1 1752.5L1008.2 1754.2L1009.3 1755.5L1010.4 1756.3L1011.5 1756.7L1012.6 1756.2L1013.7 1754.5L1014.8 1751.8L1015.9 1748.2L1017.0 1744.0L1018.1 1739.6L1019.2 1735.3L1020.4 1731.3L1021.5 1728.1L1022.6 1725.8L1023.7 1724.7L1024.8 1724.9L1025.9 1727.1L1027.0 1731.0L1028.1 1736.2L1029.2 1742.0L1030.3 1747.7L1031.4 1752.6L1032.5 1756.1L1033.6 1757.8L1034.7 1757.7L1035.9 1757.1L1037.0 1756.0L1038.1 1754.4L1039.2 1752.5L1040.3 1750.4L1041.4 1748.2L1042.5 1745.9L1043.6 1743.8L1044.7 1741.9L1045.8 1740.3L1046.9 1739.1L1048.0 1738.5L1049.1 1738.3L1050.2 1738.1L1051.3 1737.5L1052.5 1736.9L1053.6 1736.5L1054.7 1736.2L1055.8 1736.5L1056.9 1737.2L1058.0 1738.1L1059.1 1739.0L1060.2 1739.5L1061.3 1739.6L1062.4 1740.2L1063.5 1741.4L1064.6 1743.0L1065.7 1745.0L1066.8 1747.3L1068.0 1749.6L1069.1 1751.8L1070.2 1753.9L1071.3 1755.6L1072.4 1756.9L1073.5 1757.7L1074.6 1757.8L1075.7 1756.8L1076.8 1754.5L1077.9 1751.2L1079.0 1747.0L1080.1 1742.5L1081.2 1738.1L1082.3 1734.3L1083.5 1731.4L1084.6 1729.7L1085.7 1729.3L1086.8 1730.1L1087.9 1731.7L1089.0 1734.1L1090.1 1737.0L1091.2 1740.1L1092.3 1743.0L1093.4 1745.6L1094.5 1747.6L1095.6 1748.6L1096.7 1748.8L1097.8 1748.6L1099.0 1748.2L1100.1 1747.7L1101.2 1747.1L1102.3 1746.5L1103.4 1746.0L1104.5 1745.7L1105.6 1745.6L1106.7 1745.6L1107.8 1745.5L1108.9 1745.4L1110.0 1745.2L1111.1 1745.1L1112.2 1745.0L1113.3 1745.0L1114.4 1745.0L1115.6 1745.0L1116.7 1745.0L1117.8 1744.9L1118.9 1744.9L1120.0 1744.9L1121.1 1744.9L1122.2 1744.9L1123.3 1744.9L1124.4 1744.8L1125.5 1744.7L1126.6 1744.5L1127.7 1744.3L1128.8 1744.0L1129.9 1743.8L1131.1 1743.6L1132.2 1743.5L1133.3 1743.4L1134.4 1743.3L1135.5 1742.8L1136.6 1742.3L1137.7 1741.8L1138.8 1741.3L1139.9 1741.1L1141.0 1741.1L1142.1 1741.3L1143.2 1741.8L1144.3 1742.4L1145.4 1743.2L1146.6 1744.1L1147.7 1745.0L1148.8 1745.8L1149.9 1746.5L1151.0 1747.0L1152.1 1747.2L1153.2 1747.2L1154.3 1746.7L1155.4 1745.8L1156.5 1744.5L1157.6 1743.0L1158.7 1741.6L1159.8 1740.5L1160.9 1739.7L1162.0 1739.5L1163.2 1739.8L1164.3 1740.4L1165.4 1741.4L1166.5 1742.5L1167.6 1743.8L1168.7 1745.0L1169.8 1746.0L1170.9 1746.8L1172.0 1747.2L1173.1 1747.2L1174.2 1746.9L1175.3 1746.2L1176.4 1745.3L1177.5 1744.2L1178.7 1743.0L1179.8 1742.0L1180.9 1741.1L1182.0 1740.5L1183.1 1740.3L1184.2 1740.4L1185.3 1740.8L1186.4 1741.4L1187.5 1742.2L1188.6 1743.0L1189.7 1743.9L1190.8 1744.7L1191.9 1745.3L1193.0 1745.7L1194.2 1745.7L1195.3 1745.7L1196.4 1745.5L1197.5 1745.1L1198.6 1744.7L1199.7 1744.3L1200.8 1743.8L1201.9 1743.3L1203.0 1742.8L1204.1 1742.4L1205.2 1742.1L1206.3 1741.9L1207.4 1741.8L1208.5 1741.8L1209.7 1742.0L1210.8 1742.2L1211.9 1742.5L1213.0 1742.9L1214.1 1743.3L1215.2 1743.7L1216.3 1744.2L1217.4 1744.6L1218.5 1745.0L1219.6 1745.3L1220.7 1745.6L1221.8 1745.7L1222.9 1745.8L1224.0 1745.7L1225.1 1745.6L1226.3 1745.4L1227.4 1745.1L1228.5 1744.8L1229.6 1744.4L1230.7 1743.9L1231.8 1743.5L1232.9 1743.0L1234.0 1742.4L1235.1 1741.9L1236.2 1741.5L1237.3 1741.0L1238.4 1740.6L1239.5 1740.2L1240.6 1739.9L1241.8 1739.7L1242.9 1739.6L1244.0 1739.5L1245.1 1739.6L1246.2 1739.9L1247.3 1740.5L1248.4 1741.3L1249.5 1742.2L1250.6 1743.2L1251.7 1744.0L1252.8 1744.8L1253.9 1745.4L1255.0 1745.7L1256.1 1745.7L1257.3 1745.6L1258.4 1745.2L1259.5 1744.8L1260.6 1744.2L1261.7 1743.7L1262.8 1743.2L1263.9 1742.8L1265.0 1742.6L1266.1 1742.6L1267.2 1742.7L1268.3 1742.9L1269.4 1743.1L1270.5 1743.5L1271.6 1743.8L1272.7 1744.2L1273.9 1744.6L1275.0 1745.0L1276.1 1745.3L1277.2 1745.6L1278.3 1745.7L1279.4 1745.8L1280.5 1745.7L1281.6 1745.4L1282.7 1745.0L1283.8 1744.6L1284.9 1744.1L1286.0 1743.6L1287.1 1743.1L1288.2 1742.8L1289.4 1742.6L1290.5 1742.6L1291.6 1742.8L1292.7 1743.2L1293.8 1743.7L1294.9 1744.3L1296.0 1744.9L1297.1 1745.4L1298.2 1745.7L1299.3 1745.8L1300.4 1745.6L1301.5 1745.3L1302.6 1744.8L1303.7 1744.2L1304.9 1743.6L1306.0 1743.1L1307.1 1742.7L1308.2 1742.6L1309.3 1742.6L1310.4 1742.7L1311.5 1742.8L1312.6 1743.0L1313.7 1743.1L1314.8 1743.3L1315.9 1743.4L1317.0 1743.5L1318.1 1743.5L1319.2 1743.4L1320.3 1743.4L1321.5 1743.4L1322.6 1743.4L1323.7 1743.3L1324.8 1743.3L1325.9 1743.1L1327.0 1742.3L1328.1 1741.2L1329.2 1740.5L1330.3 1740.4L1331.4 1740.4" fill="none" stroke="#0000ff" stroke-width="7.0" stroke-linejoin="round"/>
<path d="M213.3 1726.4L214.5 1723.4L215.6 1721.3L216.7 1720.8L217.8 1722.3L218.9 1725.2L220.0 1728.8L221.1 1732.2L222.2 1734.9L223.3 1736.6L224.4 1737.5L225.5 1737.8L226.6 1737.9L227.7 1737.8L228.8 1737.6L230.0 1737.4L231.1 1737.3L232.2 1737.2L233.3 1737.1L234.4 1737.1L235.5 1737.1L236.6 1737.3L237.7 1737.4L238.8 1737.7L239.9 1738.0L241.0 1738.3L242.1 1738.7L243.2 1739.1L244.3 1739.4L245.5 1739.8L246.6 1740.1L247.7 1740.3L248.8 1740.5L249.9 1740.6L251.0 1740.6L252.1 1740.6L253.2 1740.4L254.3 1740.2L255.4 1739.9L256.5 1739.5L257.6 1739.2L258.7 1738.7L259.8 1738.3L261.0 1737.9L262.1 1737.6L263.2 1737.3L264.3 1737.0L265.4 1736.9L266.5 1736.8L267.6 1736.8L268.7 1736.9L269.8 1737.1L270.9 1737.3L272.0 1737.6L273.1 1738.0L274.2 1738.4L275.3 1738.8L276.4 1739.2L277.6 1739.6L278.7 1739.9L279.8 1740.2L280.9 1740.4L282.0 1740.6L283.1 1740.6L284.2 1740.6L285.3 1740.5L286.4 1740.4L287.5 1740.1L288.6 1739.9L289.7 1739.5L290.8 1739.2L291.9 1738.8L293.1 1738.5L294.2 1738.1L295.3 1737.8L296.4 1737.5L297.5 1737.3L298.6 1737.1L299.7 1736.9L300.8 1736.8L301.9 1736.7L303.0 1736.7L304.1 1736.7L305.2 1736.7L306.3 1736.8L307.4 1736.8L308.6 1736.9L309.7 1737.0L310.8 1737.0L311.9 1737.1L313.0 1737.2L314.1 1737.3L315.2 1737.3L316.3 1737.4L317.4 1737.5L318.5 1737.6L319.6 1737.7L320.7 1737.8L321.8 1737.9L322.9 1738.1L324.1 1738.3L325.2 1738.6L326.3 1738.8L327.4 1739.1L328.5 1739.4L329.6 1739.7L330.7 1740.0L331.8 1740.3L332.9 1740.5L334.0 1740.8L335.1 1741.0L336.2 1741.1L337.3 1741.2L338.4 1741.2L339.5 1741.2L340.7 1741.1L341.8 1741.0L342.9 1740.8L344.0 1740.6L345.1 1740.3L346.2 1740.0L347.3 1739.6L348.4 1739.3L349.5 1739.0L350.6 1738.7L351.7 1738.4L352.8 1738.1L353.9 1737.8L355.0 1737.6L356.2 1737.5L357.3 1737.3L358.4 1737.2L359.5 1737.1L360.6 1737.0L361.7 1737.0L362.8 1737.0L363.9 1736.9L365.0 1736.9L366.1 1736.9L367.2 1736.8L368.3 1736.8L369.4 1736.8L370.5 1736.7L371.7 1736.7L372.8 1736.7L373.9 1736.7L375.0 1736.7L376.1 1736.7L377.2 1736.8L378.3 1736.9L379.4 1737.1L380.5 1737.3L381.6 1737.5L382.7 1737.7L383.8 1737.9L384.9 1738.1L386.0 1738.2L387.1 1738.3L388.3 1738.4L389.4 1739.3L390.5 1739.4L391.6 1738.8L392.7 1738.1L393.8 1737.4L394.9 1736.4L396.0 1735.1L397.1 1733.1L398.2 1730.4L399.3 1726.8L400.4 1722.7L401.5 1719.0L402.6 1717.8L403.8 1720.2L404.9 1727.0L406.0 1739.0L407.1 1753.9L408.2 1770.0L409.3 1785.6L410.4 1799.0L411.5 1809.2L412.6 1815.6L413.7 1818.5L414.8 1818.7L415.9 1817.3L417.0 1814.7L418.1 1805.4L419.3 1788.4L420.4 1764.7L421.5 1735.7L422.6 1703.0L423.7 1668.9L424.8 1635.8L425.9 1606.5L427.0 1583.8L428.1 1570.2L429.2 1567.4L430.3 1576.3L431.4 1596.6L432.5 1627.1L433.6 1665.6L434.8 1709.1L435.9 1754.4L437.0 1798.2L438.1 1837.3L439.2 1869.4L440.3 1892.6L441.4 1905.8L442.5 1908.1L443.6 1898.4L444.7 1877.2L445.8 1847.1L446.9 1811.6L448.0 1774.7L449.1 1741.0L450.2 1714.4L451.4 1698.4L452.5 1693.9L453.6 1691.8L454.7 1690.6L455.8 1691.2L456.9 1694.0L458.0 1693.7L459.1 1688.0L460.2 1677.9L461.3 1665.3L462.4 1652.6L463.5 1642.2L464.6 1636.3L465.7 1642.0L466.9 1663.1L468.0 1697.5L469.1 1741.2L470.2 1789.1L471.3 1835.0L472.4 1873.1L473.5 1898.2L474.6 1906.5L475.7 1893.6L476.8 1860.4L477.9 1812.7L479.0 1758.9L480.1 1708.7L481.2 1671.3L482.4 1653.5L483.5 1653.9L484.6 1662.8L485.7 1678.6L486.8 1699.0L487.9 1720.8L489.0 1740.8L490.1 1755.8L491.2 1763.7L492.3 1763.3L493.4 1753.9L494.5 1736.2L495.6 1714.4L496.7 1693.8L497.8 1679.2L499.0 1674.1L500.1 1678.8L501.2 1691.6L502.3 1710.4L503.4 1732.7L504.5 1755.8L505.6 1777.5L506.7 1796.2L507.8 1810.7L508.9 1820.5L510.0 1825.6L511.1 1826.0L512.2 1821.6L513.3 1812.2L514.5 1797.4L515.6 1777.3L516.7 1752.5L517.8 1724.6L518.9 1696.0L520.0 1670.0L521.1 1650.1L522.2 1639.7L523.3 1641.6L524.4 1655.7L525.5 1679.1L526.6 1707.3L527.7 1734.7L528.8 1756.1L530.0 1768.6L531.1 1774.4L532.2 1773.6L533.3 1767.7L534.4 1759.2L535.5 1750.9L536.6 1745.0L537.7 1742.8L538.8 1744.4L539.9 1749.1L541.0 1755.1L542.1 1760.5L543.2 1763.7L544.3 1763.7L545.4 1760.2L546.6 1751.1L547.7 1737.9L548.8 1723.6L549.9 1711.1L551.0 1702.5L552.1 1699.0L553.2 1701.0L554.3 1707.8L555.4 1719.1L556.5 1733.6L557.6 1749.0L558.7 1763.4L559.8 1775.0L560.9 1782.8L562.1 1786.0L563.2 1784.2L564.3 1779.4L565.4 1772.8L566.5 1764.2L567.6 1753.8L568.7 1741.9L569.8 1729.8L570.9 1718.9L572.0 1711.2L573.1 1708.3L574.2 1708.4L575.3 1710.9L576.4 1715.9L577.6 1722.4L578.7 1729.2L579.8 1734.8L580.9 1737.9L582.0 1737.9L583.1 1735.5L584.2 1731.4L585.3 1726.8L586.4 1723.0L587.5 1720.8L588.6 1721.6L589.7 1725.1L590.8 1730.1L591.9 1734.7L593.1 1737.3L594.2 1737.2L595.3 1735.1L596.4 1731.8L597.5 1728.9L598.6 1728.3L599.7 1733.6L600.8 1744.5L601.9 1758.9L603.0 1773.7L604.1 1785.8L605.2 1792.2L606.3 1791.5L607.4 1784.3L608.5 1771.6L609.7 1755.7L610.8 1739.2L611.9 1724.6L613.0 1713.9L614.1 1708.4L615.2 1708.1L616.3 1712.2L617.4 1717.7L618.5 1722.5L619.6 1725.6L620.7 1726.8L621.8 1726.2L622.9 1724.5L624.0 1723.4L625.2 1723.6L626.3 1724.8L627.4 1726.5L628.5 1727.4L629.6 1728.4L630.7 1730.6L631.8 1733.7L632.9 1737.6L634.0 1742.8L635.1 1749.3L636.2 1757.3L637.3 1766.1L638.4 1774.4L639.5 1781.0L640.7 1784.3L641.8 1782.6L642.9 1774.8L644.0 1761.1L645.1 1743.0L646.2 1723.1L647.3 1704.5L648.4 1690.4L649.5 1682.8L650.6 1682.9L651.7 1689.8L652.8 1701.8L653.9 1716.3L655.0 1730.1L656.1 1740.4L657.3 1745.5L658.4 1744.8L659.5 1739.6L660.6 1731.9L661.7 1725.1L662.8 1721.0L663.9 1720.0L665.0 1721.7L666.1 1724.4L667.2 1726.5L668.3 1727.3L669.4 1731.8L670.5 1740.7L671.6 1754.3L672.8 1772.6L673.9 1795.6L675.0 1822.1L676.1 1850.1L677.2 1876.1L678.3 1896.2L679.4 1902.9L680.5 1888.9L681.6 1853.8L682.7 1799.9L683.8 1732.1L684.9 1657.6L686.0 1584.7L687.1 1521.3L688.3 1474.2L689.4 1447.9L690.5 1443.8L691.6 1465.2L692.7 1513.7L693.8 1582.2L694.9 1662.1L696.0 1744.6L697.1 1821.1L698.2 1884.7L699.3 1930.0L700.4 1953.6L701.5 1954.6L702.6 1939.2L703.8 1910.5L704.9 1871.1L706.0 1824.7L707.1 1776.1L708.2 1730.8L709.3 1694.3L710.4 1671.9L711.5 1665.3L712.6 1665.3L713.7 1669.3L714.8 1674.9L715.9 1679.6L717.0 1685.0L718.1 1690.7L719.2 1695.7L720.4 1707.9L721.5 1726.6L722.6 1747.8L723.7 1767.2L724.8 1780.8L725.9 1785.9L727.0 1784.1L728.1 1777.6L729.2 1766.7L730.3 1751.8L731.4 1733.9L732.5 1714.6L733.6 1695.8L734.7 1679.8L735.9 1668.9L737.0 1666.5L738.1 1674.3L739.2 1692.2L740.3 1718.9L741.4 1751.9L742.5 1787.9L743.6 1823.4L744.7 1854.8L745.8 1879.5L746.9 1895.5L748.0 1902.2L749.1 1888.5L750.2 1848.7L751.4 1788.6L752.5 1715.8L753.6 1639.3L754.7 1568.4L755.8 1511.0L756.9 1473.9L758.0 1461.0L759.1 1469.5L760.2 1497.2L761.3 1543.0L762.4 1604.2L763.5 1677.0L764.6 1756.5L765.7 1836.6L766.9 1911.2L768.0 1974.1L769.1 2019.7L770.2 2043.6L771.3 2042.8L772.4 2016.5L773.5 1967.4L774.6 1901.4L775.7 1826.6L776.8 1752.5L777.9 1687.7L779.0 1639.5L780.1 1612.7L781.2 1608.9L782.3 1622.6L783.5 1649.1L784.6 1683.1L785.7 1718.4L786.8 1748.5L787.9 1768.0L789.0 1773.1L790.1 1763.6L791.2 1742.9L792.3 1717.3L793.4 1695.1L794.5 1683.8L795.6 1686.5L796.7 1698.6L797.8 1717.6L799.0 1740.6L800.1 1764.0L801.2 1784.1L802.3 1797.6L803.4 1802.3L804.5 1799.0L805.6 1791.9L806.7 1782.2L807.8 1771.1L808.9 1760.0L810.0 1749.8L811.1 1741.3L812.2 1734.7L813.3 1729.8L814.5 1725.8L815.6 1721.9L816.7 1717.5L817.8 1712.2L818.9 1706.0L820.0 1699.4L821.1 1693.4L822.2 1688.6L823.3 1686.3L824.4 1691.1L825.5 1706.4L826.6 1729.7L827.7 1757.8L828.8 1786.8L829.9 1812.8L831.1 1832.9L832.2 1844.8L833.3 1848.5L834.4 1844.1L835.5 1833.9L836.6 1819.7L837.7 1803.4L838.8 1786.2L839.9 1769.1L841.0 1752.7L842.1 1737.4L843.2 1723.6L844.3 1711.9L845.4 1703.2L846.6 1695.1L847.7 1683.6L848.8 1671.5L849.9 1658.5L851.0 1644.2L852.1 1632.0L853.2 1625.5L854.3 1630.7L855.4 1647.4L856.5 1683.3L857.6 1730.2L858.7 1777.8L859.8 1816.5L860.9 1839.4L862.1 1843.3L863.2 1830.3L864.3 1813.8L865.4 1790.6L866.5 1764.1L867.6 1737.6L868.7 1714.4L869.8 1697.0L870.9 1686.8L872.0 1684.6L873.1 1692.5L874.2 1714.5L875.3 1743.5L876.4 1770.0L877.5 1784.9L878.7 1783.6L879.8 1773.0L880.9 1756.8L882.0 1738.3L883.1 1720.9L884.2 1707.8L885.3 1700.9L886.4 1700.9L887.5 1705.8L888.6 1713.7L889.7 1723.5L890.8 1734.1L891.9 1744.5L893.0 1753.8L894.2 1761.2L895.3 1766.4L896.4 1769.7L897.5 1770.7L898.6 1768.7L899.7 1763.5L900.8 1755.3L901.9 1744.9L903.0 1733.7L904.1 1723.6L905.2 1715.8L906.3 1711.7L907.4 1711.9L908.5 1716.0L909.7 1722.5L910.8 1729.5L911.9 1735.0L913.0 1739.0L914.1 1740.9L915.2 1739.9L916.3 1736.0L917.4 1730.0L918.5 1723.6L919.6 1718.6L920.7 1716.5L921.8 1718.5L922.9 1725.8L924.0 1737.6L925.2 1751.8L926.3 1765.7L927.4 1776.9L928.5 1783.2L929.6 1783.5L930.7 1777.6L931.8 1766.0L932.9 1750.4L934.0 1733.2L935.1 1716.7L936.2 1703.0L937.3 1693.6L938.4 1689.3L939.5 1690.1L940.6 1694.5L941.8 1701.7L942.9 1711.3L944.0 1722.7L945.1 1734.9L946.2 1746.9L947.3 1757.5L948.4 1765.2L949.5 1769.0L950.6 1768.4L951.7 1763.5L952.8 1755.5L953.9 1746.2L955.0 1737.3L956.1 1730.0L957.3 1725.3L958.4 1724.3L959.5 1726.9L960.6 1732.6L961.7 1740.0L962.8 1747.5L963.9 1753.5L965.0 1756.6L966.1 1756.0L967.2 1752.3L968.3 1746.3L969.4 1739.4L970.5 1733.1L971.6 1728.4L972.8 1725.9L973.9 1725.6L975.0 1726.8L976.1 1728.6L977.2 1730.0L978.3 1730.4L979.4 1729.8L980.5 1729.4L981.6 1729.6L982.7 1730.9L983.8 1734.6L984.9 1739.5L986.0 1744.5L987.1 1748.4L988.3 1750.0L989.4 1748.9L990.5 1745.2L991.6 1739.7L992.7 1733.8L993.8 1729.3L994.9 1726.8L996.0 1726.6L997.1 1727.3L998.2 1728.4L999.3 1730.0L1000.4 1732.0L1001.5 1734.3L1002.6 1736.7L1003.7 1739.3L1004.9 1741.8L1006.0 1744.2L1007.1 1746.4L1008.2 1748.3L1009.3 1749.8L1010.4 1750.8L1011.5 1751.3L1012.6 1751.0L1013.7 1749.5L1014.8 1746.9L1015.9 1743.4L1017.0 1739.4L1018.1 1735.0L1019.2 1730.6L1020.4 1726.6L1021.5 1723.3L1022.6 1720.9L1023.7 1719.5L1024.8 1719.6L1025.9 1721.5L1027.0 1725.2L1028.1 1730.2L1029.2 1735.9L1030.3 1741.5L1031.4 1746.3L1032.5 1749.8L1033.6 1751.4L1034.7 1751.5L1035.9 1751.0L1037.0 1750.0L1038.1 1748.7L1039.2 1747.0L1040.3 1745.1L1041.4 1743.1L1042.5 1741.1L1043.6 1739.1L1044.7 1737.4L1045.8 1736.0L1046.9 1735.0L1048.0 1734.4L1049.1 1734.2L1050.2 1734.0L1051.3 1733.4L1052.5 1732.7L1053.6 1732.0L1054.7 1731.7L1055.8 1731.7L1056.9 1732.2L1058.0 1732.9L1059.1 1733.5L1060.2 1733.8L1061.3 1733.8L1062.4 1734.3L1063.5 1735.3L1064.6 1736.8L1065.7 1738.7L1066.8 1740.9L1068.0 1743.2L1069.1 1745.4L1070.2 1747.5L1071.3 1749.2L1072.4 1750.5L1073.5 1751.2L1074.6 1751.4L1075.7 1750.4L1076.8 1748.1L1077.9 1744.8L1079.0 1740.6L1080.1 1736.2L1081.2 1731.8L1082.3 1728.0L1083.5 1725.1L1084.6 1723.5L1085.7 1723.3L1086.8 1724.2L1087.9 1726.0L1089.0 1728.5L1090.1 1731.6L1091.2 1735.0L1092.3 1738.2L1093.4 1741.0L1094.5 1743.2L1095.6 1744.4L1096.7 1744.8L1097.8 1744.8L1099.0 1744.5L1100.1 1744.0L1101.2 1743.4L1102.3 1742.7L1103.4 1742.1L1104.5 1741.7L1105.6 1741.3L1106.7 1741.0L1107.8 1740.6L1108.9 1740.1L1110.0 1739.6L1111.1 1739.1L1112.2 1738.7L1113.3 1738.4L1114.4 1738.1L1115.6 1737.9L1116.7 1737.7L1117.8 1737.6L1118.9 1737.6L1120.0 1737.7L1121.1 1737.8L1122.2 1738.0L1123.3 1738.3L1124.4 1738.6L1125.5 1738.8L1126.6 1739.0L1127.7 1739.1L1128.8 1739.2L1129.9 1739.2L1131.1 1739.3L1132.2 1739.3L1133.3 1739.4L1134.4 1739.3L1135.5 1738.9L1136.6 1738.3L1137.7 1737.7L1138.8 1737.1L1139.9 1736.6L1141.0 1736.4L1142.1 1736.4L1143.2 1736.6L1144.3 1737.0L1145.4 1737.6L1146.6 1738.3L1147.7 1739.1L1148.8 1739.9L1149.9 1740.5L1151.0 1741.1L1152.1 1741.4L1153.2 1741.5L1154.3 1741.1L1155.4 1740.3L1156.5 1739.1L1157.6 1737.7L1158.7 1736.4L1159.8 1735.3L1160.9 1734.6L1162.0 1734.3L1163.2 1734.4L1164.3 1734.9L1165.4 1735.6L1166.5 1736.5L1167.6 1737.4L1168.7 1738.3L1169.8 1739.0L1170.9 1739.5L1172.0 1739.6L1173.1 1739.4L1174.2 1738.9L1175.3 1738.1L1176.4 1737.2L1177.5 1736.2L1178.7 1735.3L1179.8 1734.6L1180.9 1734.1L1182.0 1734.0L1183.1 1734.3L1184.2 1735.0L1185.3 1736.0L1186.4 1737.2L1187.5 1738.6L1188.6 1740.1L1189.7 1741.4L1190.8 1742.6L1191.9 1743.5L1193.0 1744.1L1194.2 1744.3L1195.3 1744.2L1196.4 1743.8L1197.5 1743.2L1198.6 1742.4L1199.7 1741.5L1200.8 1740.5L1201.9 1739.5L1203.0 1738.4L1204.1 1737.4L1205.2 1736.6L1206.3 1735.8L1207.4 1735.3L1208.5 1734.9L1209.7 1734.7L1210.8 1734.7L1211.9 1734.8L1213.0 1735.1L1214.1 1735.6L1215.2 1736.1L1216.3 1736.7L1217.4 1737.3L1218.5 1737.9L1219.6 1738.4L1220.7 1738.9L1221.8 1739.2L1222.9 1739.4L1224.0 1739.5L1225.1 1739.5L1226.3 1739.3L1227.4 1739.0L1228.5 1738.7L1229.6 1738.2L1230.7 1737.6L1231.8 1737.1L1232.9 1736.5L1234.0 1735.9L1235.1 1735.3L1236.2 1734.8L1237.3 1734.4L1238.4 1734.0L1239.5 1733.8L1240.6 1733.7L1241.8 1733.7L1242.9 1733.8L1244.0 1734.0L1245.1 1734.4L1246.2 1735.1L1247.3 1736.1L1248.4 1737.2L1249.5 1738.4L1250.6 1739.6L1251.7 1740.7L1252.8 1741.6L1253.9 1742.2L1255.0 1742.6L1256.1 1742.6L1257.3 1742.3L1258.4 1741.8L1259.5 1741.1L1260.6 1740.3L1261.7 1739.4L1262.8 1738.7L1263.9 1738.0L1265.0 1737.5L1266.1 1737.2L1267.2 1737.1L1268.3 1737.1L1269.4 1737.3L1270.5 1737.5L1271.6 1737.9L1272.7 1738.3L1273.9 1738.7L1275.0 1739.2L1276.1 1739.6L1277.2 1739.9L1278.3 1740.2L1279.4 1740.4L1280.5 1740.4L1281.6 1740.2L1282.7 1739.9L1283.8 1739.4L1284.9 1738.8L1286.0 1738.2L1287.1 1737.7L1288.2 1737.2L1289.4 1736.8L1290.5 1736.6L1291.6 1736.6L1292.7 1736.8L1293.8 1737.1L1294.9 1737.5L1296.0 1737.9L1297.1 1738.2L1298.2 1738.4L1299.3 1738.4L1300.4 1738.3L1301.5 1737.9L1302.6 1737.5L1303.7 1736.9L1304.9 1736.4L1306.0 1736.1L1307.1 1735.8L1308.2 1735.8L1309.3 1736.0L1310.4 1736.3L1311.5 1736.6L1312.6 1736.9L1313.7 1737.2L1314.8 1737.6L1315.9 1737.8L1317.0 1738.0L1318.1 1738.0L1319.2 1737.8L1320.3 1737.2L1321.5 1736.0L1322.6 1734.0L1323.7 1731.5L1324.8 1728.9L1325.9 1726.8L1327.0 1725.3L1328.1 1725.3L1329.2 1727.2L1330.3 1730.3L1331.4 1733.3" fill="none" stroke="#ff0000" stroke-width="6.0" stroke-linejoin="round" stroke-dasharray="21.5 9.5"/>
<path d="M213.3 1727.9L214.5 1724.6L215.6 1722.2L216.7 1721.4L217.8 1722.6L218.9 1725.5L220.0 1729.1L221.1 1732.5L222.2 1735.2L223.3 1736.9L224.4 1737.8L225.5 1738.1L226.6 1738.2L227.7 1738.1L228.8 1737.9L230.0 1737.7L231.1 1737.6L232.2 1737.4L233.3 1737.4L234.4 1737.4L235.5 1737.4L236.6 1737.5L237.7 1737.7L238.8 1738.0L239.9 1738.3L241.0 1738.6L242.1 1739.0L243.2 1739.3L244.3 1739.7L245.5 1740.1L246.6 1740.4L247.7 1740.6L248.8 1740.8L249.9 1740.9L251.0 1740.9L252.1 1740.8L253.2 1740.7L254.3 1740.5L255.4 1740.2L256.5 1739.8L257.6 1739.4L258.7 1739.0L259.8 1738.6L261.0 1738.2L262.1 1737.9L263.2 1737.6L264.3 1737.3L265.4 1737.2L266.5 1737.1L267.6 1737.1L268.7 1737.2L269.8 1737.4L270.9 1737.6L272.0 1737.9L273.1 1738.3L274.2 1738.7L275.3 1739.1L276.4 1739.5L277.6 1739.8L278.7 1740.2L279.8 1740.5L280.9 1740.7L282.0 1740.8L283.1 1740.9L284.2 1740.9L285.3 1740.8L286.4 1740.6L287.5 1740.4L288.6 1740.1L289.7 1739.8L290.8 1739.5L291.9 1739.1L293.1 1738.8L294.2 1738.4L295.3 1738.1L296.4 1737.8L297.5 1737.5L298.6 1737.3L299.7 1737.2L300.8 1737.1L301.9 1737.0L303.0 1737.0L304.1 1737.0L305.2 1737.0L306.3 1737.0L307.4 1737.1L308.6 1737.2L309.7 1737.2L310.8 1737.3L311.9 1737.4L313.0 1737.5L314.1 1737.5L315.2 1737.6L316.3 1737.7L317.4 1737.7L318.5 1737.8L319.6 1737.9L320.7 1738.1L321.8 1738.2L322.9 1738.4L324.1 1738.6L325.2 1738.8L326.3 1739.1L327.4 1739.4L328.5 1739.7L329.6 1740.0L330.7 1740.3L331.8 1740.6L332.9 1740.8L334.0 1741.0L335.1 1741.2L336.2 1741.4L337.3 1741.5L338.4 1741.5L339.5 1741.5L340.7 1741.4L341.8 1741.3L342.9 1741.1L344.0 1740.8L345.1 1740.6L346.2 1740.2L347.3 1739.9L348.4 1739.6L349.5 1739.3L350.6 1738.9L351.7 1738.6L352.8 1738.4L353.9 1738.1L355.0 1737.9L356.2 1737.7L357.3 1737.6L358.4 1737.5L359.5 1737.4L360.6 1737.3L361.7 1737.3L362.8 1737.2L363.9 1737.2L365.0 1737.2L366.1 1737.1L367.2 1737.1L368.3 1737.1L369.4 1737.0L370.5 1737.0L371.7 1737.0L372.8 1736.9L373.9 1736.9L375.0 1737.0L376.1 1737.0L377.2 1737.1L378.3 1737.2L379.4 1737.3L380.5 1737.5L381.6 1737.8L382.7 1738.0L383.8 1738.4L384.9 1738.7L386.0 1739.0L387.1 1739.4L388.3 1739.7L389.4 1740.8L390.5 1741.1L391.6 1740.6L392.7 1739.9L393.8 1739.3L394.9 1739.0L396.0 1738.7L397.1 1738.1L398.2 1736.8L399.3 1734.3L400.4 1730.8L401.5 1727.0L402.6 1723.6L403.8 1722.0L404.9 1722.9L406.0 1727.6L407.1 1734.0L408.2 1740.9L409.3 1747.1L410.4 1751.2L411.5 1752.8L412.6 1751.6L413.7 1748.5L414.8 1744.3L415.9 1740.5L417.0 1738.0L418.1 1737.6L419.3 1739.3L420.4 1742.4L421.5 1746.1L422.6 1749.3L423.7 1750.8L424.8 1750.3L425.9 1747.5L427.0 1743.1L428.1 1737.9L429.2 1732.9L430.3 1729.0L431.4 1726.8L432.5 1726.5L433.6 1727.8L434.8 1730.2L435.9 1732.9L437.0 1735.5L438.1 1737.5L439.2 1738.8L440.3 1739.5L441.4 1739.9L442.5 1740.2L443.6 1740.6L444.7 1741.0L445.8 1741.2L446.9 1740.9L448.0 1739.9L449.1 1738.1L450.2 1735.6L451.4 1732.9L452.5 1730.6L453.6 1729.2L454.7 1729.2L455.8 1730.9L456.9 1734.0L458.0 1738.2L459.1 1742.5L460.2 1746.1L461.3 1748.2L462.4 1748.4L463.5 1746.7L464.6 1743.3L465.7 1739.2L466.9 1735.2L468.0 1732.4L469.1 1731.5L470.2 1732.7L471.3 1735.8L472.4 1740.3L473.5 1745.1L474.6 1749.2L475.7 1751.6L476.8 1751.8L477.9 1749.7L479.0 1745.8L480.1 1741.0L481.2 1736.6L482.4 1733.4L483.5 1732.4L484.6 1733.8L485.7 1737.3L486.8 1742.0L487.9 1747.0L489.0 1750.8L490.1 1752.4L491.2 1751.3L492.3 1747.5L493.4 1741.7L494.5 1734.9L495.6 1728.4L496.7 1723.5L497.8 1720.7L499.0 1720.5L500.1 1722.2L501.2 1725.3L502.3 1728.5L503.4 1731.0L504.5 1732.4L505.6 1732.6L506.7 1732.4L507.8 1732.6L508.9 1734.2L510.0 1738.1L511.1 1744.2L512.2 1751.9L513.3 1759.9L514.5 1766.3L515.6 1769.3L516.7 1767.6L517.8 1760.8L518.9 1749.5L520.0 1735.3L521.1 1720.8L522.2 1708.6L523.3 1701.1L524.4 1699.8L525.5 1704.8L526.6 1715.1L527.7 1728.8L528.8 1743.1L530.0 1755.5L531.1 1764.0L532.2 1767.7L533.3 1766.6L534.4 1761.8L535.5 1754.9L536.6 1747.8L537.7 1741.7L538.8 1737.5L539.9 1735.0L541.0 1733.6L542.1 1732.5L543.2 1730.9L544.3 1728.5L545.4 1725.5L546.6 1722.9L547.7 1721.8L548.8 1723.3L549.9 1727.8L551.0 1735.3L552.1 1744.6L553.2 1754.3L554.3 1762.4L555.4 1767.3L556.5 1767.8L557.6 1763.9L558.7 1756.5L559.8 1747.0L560.9 1737.5L562.1 1729.6L563.2 1724.7L564.3 1723.0L565.4 1724.1L566.5 1726.9L567.6 1730.0L568.7 1732.3L569.8 1732.9L570.9 1732.1L572.0 1730.3L573.1 1728.7L574.2 1728.3L575.3 1729.8L576.4 1733.3L577.6 1738.2L578.7 1743.5L579.8 1747.9L580.9 1750.3L582.0 1750.2L583.1 1747.7L584.2 1743.5L585.3 1738.8L586.4 1734.8L587.5 1732.6L588.6 1732.5L589.7 1734.3L590.8 1737.2L591.9 1740.0L593.1 1741.8L594.2 1741.9L595.3 1740.4L596.4 1738.0L597.5 1735.5L598.6 1734.2L599.7 1734.8L600.8 1737.5L601.9 1741.8L603.0 1746.7L604.1 1750.8L605.2 1752.9L606.3 1752.1L607.4 1748.5L608.5 1742.7L609.7 1736.1L610.8 1730.3L611.9 1726.4L613.0 1725.5L614.1 1727.4L615.2 1731.5L616.3 1736.5L617.4 1741.2L618.5 1744.5L619.6 1745.8L620.7 1745.2L621.8 1743.5L622.9 1741.5L624.0 1740.3L625.2 1740.1L626.3 1741.0L627.4 1742.3L628.5 1743.2L629.6 1742.7L630.7 1740.4L631.8 1736.5L632.9 1731.9L634.0 1728.0L635.1 1726.0L636.2 1727.1L637.3 1731.4L638.4 1738.4L639.5 1746.3L640.7 1753.1L641.8 1756.8L642.9 1756.1L644.0 1750.6L645.1 1741.3L646.2 1730.2L647.3 1720.0L648.4 1713.2L649.5 1711.5L650.6 1715.5L651.7 1724.3L652.8 1735.8L653.9 1747.3L655.0 1756.2L656.1 1760.5L657.3 1759.8L658.4 1754.6L659.5 1747.0L660.6 1739.3L661.7 1733.7L662.8 1731.6L663.9 1733.2L665.0 1737.3L666.1 1742.1L667.2 1745.2L668.3 1745.1L669.4 1740.9L670.5 1733.4L671.6 1724.5L672.8 1716.8L673.9 1712.9L675.0 1714.6L676.1 1722.4L677.2 1735.2L678.3 1750.3L679.4 1764.4L680.5 1774.3L681.6 1777.7L682.7 1773.7L683.8 1763.3L684.9 1749.0L686.0 1734.0L687.1 1721.8L688.3 1714.8L689.4 1714.4L690.5 1719.8L691.6 1729.2L692.7 1739.8L693.8 1748.6L694.9 1753.4L696.0 1753.3L697.1 1748.7L698.2 1741.2L699.3 1733.1L700.4 1726.7L701.5 1723.6L702.6 1724.3L703.8 1728.3L704.9 1734.1L706.0 1739.8L707.1 1743.7L708.2 1744.7L709.3 1742.6L710.4 1738.4L711.5 1733.5L712.6 1729.4L713.7 1727.6L714.8 1728.5L715.9 1731.9L717.0 1736.8L718.1 1741.9L719.2 1745.8L720.4 1747.5L721.5 1747.1L722.6 1744.9L723.7 1742.2L724.8 1740.3L725.9 1740.1L727.0 1742.2L728.1 1746.1L729.2 1750.9L730.3 1755.1L731.4 1757.3L732.5 1756.5L733.6 1752.3L734.7 1745.4L735.9 1736.7L737.0 1728.0L738.1 1720.7L739.2 1715.9L740.3 1714.1L741.4 1715.2L742.5 1718.3L743.6 1722.5L744.7 1726.9L745.8 1730.7L746.9 1733.9L748.0 1736.7L749.1 1739.8L750.2 1743.5L751.4 1748.1L752.5 1753.4L753.6 1758.6L754.7 1762.7L755.8 1764.4L756.9 1763.1L758.0 1758.5L759.1 1750.9L760.2 1741.4L761.3 1731.7L762.4 1723.3L763.5 1717.7L764.6 1715.7L765.7 1717.4L766.9 1722.2L768.0 1728.9L769.1 1736.0L770.2 1742.2L771.3 1746.5L772.4 1748.4L773.5 1748.2L774.6 1746.4L775.7 1744.0L776.8 1741.8L777.9 1740.5L779.0 1740.4L780.1 1741.4L781.2 1743.1L782.3 1744.9L783.5 1746.0L784.6 1746.0L785.7 1744.6L786.8 1741.8L787.9 1737.9L789.0 1733.3L790.1 1728.8L791.2 1724.9L792.3 1722.3L793.4 1721.4L794.5 1722.5L795.6 1725.5L796.7 1730.2L797.8 1736.0L799.0 1742.0L800.1 1747.5L801.2 1751.5L802.3 1753.4L803.4 1752.8L804.5 1749.7L805.6 1744.8L806.7 1738.9L807.8 1733.1L808.9 1728.5L810.0 1726.1L811.1 1726.3L812.2 1729.0L813.3 1733.7L814.5 1739.4L815.6 1744.9L816.7 1749.3L817.8 1752.0L818.9 1752.7L820.0 1751.7L821.1 1749.8L822.2 1747.6L823.3 1745.7L824.4 1744.6L825.5 1744.2L826.6 1743.8L827.7 1742.9L828.8 1740.7L829.9 1736.7L831.1 1731.1L832.2 1724.4L833.3 1717.9L834.4 1712.8L835.5 1710.7L836.6 1712.4L837.7 1718.2L838.8 1727.6L839.9 1739.3L841.0 1751.3L842.1 1761.5L843.2 1768.3L844.3 1770.3L845.4 1767.2L846.6 1759.7L847.7 1749.2L848.8 1737.6L849.9 1727.1L851.0 1719.6L852.1 1716.3L853.2 1717.5L854.3 1722.8L855.4 1730.9L856.5 1740.0L857.6 1748.3L858.7 1754.3L859.8 1756.9L860.9 1755.8L862.1 1751.5L863.2 1745.1L864.3 1738.0L865.4 1731.7L866.5 1727.5L867.6 1725.9L868.7 1727.1L869.8 1730.6L870.9 1735.2L872.0 1739.8L873.1 1743.2L874.2 1744.7L875.3 1744.0L876.4 1741.4L877.5 1737.7L878.7 1734.0L879.8 1731.5L880.9 1730.7L882.0 1732.0L883.1 1735.0L884.2 1738.8L885.3 1742.2L886.4 1744.0L887.5 1743.6L888.6 1740.6L889.7 1735.7L890.8 1730.1L891.9 1725.3L893.0 1722.9L894.2 1724.1L895.3 1729.3L896.4 1738.0L897.5 1748.6L898.6 1759.3L899.7 1768.0L900.8 1772.6L901.9 1772.3L903.0 1767.0L904.1 1757.6L905.2 1745.9L906.3 1734.2L907.4 1724.5L908.5 1718.3L909.7 1716.2L910.8 1718.0L911.9 1722.3L913.0 1727.7L914.1 1732.5L915.2 1735.5L916.3 1736.3L917.4 1735.2L918.5 1733.2L919.6 1731.4L920.7 1731.2L921.8 1733.1L922.9 1737.4L924.0 1743.4L925.2 1750.0L926.3 1755.7L927.4 1759.2L928.5 1759.8L929.6 1757.3L930.7 1752.0L931.8 1745.1L932.9 1737.5L934.0 1730.7L935.1 1725.2L936.2 1721.7L937.3 1720.1L938.4 1720.0L939.5 1721.1L940.6 1723.1L941.8 1725.7L942.9 1729.1L944.0 1733.4L945.1 1738.5L946.2 1744.4L947.3 1750.5L948.4 1756.1L949.5 1760.0L950.6 1761.5L951.7 1759.9L952.8 1755.2L953.9 1748.1L955.0 1739.7L956.1 1731.4L957.3 1725.0L958.4 1721.4L959.5 1721.2L960.6 1724.2L961.7 1729.6L962.8 1736.1L963.9 1742.1L965.0 1746.6L966.1 1748.9L967.2 1749.0L968.3 1747.5L969.4 1745.0L970.5 1742.7L971.6 1741.1L972.8 1740.5L973.9 1740.5L975.0 1740.5L976.1 1739.6L977.2 1737.4L978.3 1733.7L979.4 1728.9L980.5 1724.8L981.6 1722.5L982.7 1722.8L983.8 1725.7L984.9 1730.7L986.0 1736.9L987.1 1742.8L988.3 1747.2L989.4 1749.4L990.5 1749.3L991.6 1747.3L992.7 1744.3L993.8 1741.4L994.9 1739.4L996.0 1738.8L997.1 1738.7L998.2 1738.5L999.3 1738.3L1000.4 1738.2L1001.5 1738.1L1002.6 1738.0L1003.7 1738.0L1004.9 1738.0L1006.0 1738.1L1007.1 1738.2L1008.2 1738.4L1009.3 1738.5L1010.4 1738.7L1011.5 1738.9L1012.6 1739.1L1013.7 1739.3L1014.8 1739.4L1015.9 1739.5L1017.0 1739.6L1018.1 1739.6L1019.2 1739.6L1020.4 1739.5L1021.5 1739.4L1022.6 1739.3L1023.7 1739.1L1024.8 1738.9L1025.9 1738.7L1027.0 1738.5L1028.1 1738.3L1029.2 1738.2L1030.3 1738.0L1031.4 1738.0L1032.5 1737.9L1033.6 1737.9L1034.7 1738.0L1035.9 1738.1L1037.0 1738.3L1038.1 1738.5L1039.2 1738.7L1040.3 1738.9L1041.4 1739.1L1042.5 1739.4L1043.6 1739.6L1044.7 1739.8L1045.8 1740.0L1046.9 1740.1L1048.0 1740.1L1049.1 1740.2L1050.2 1740.1L1051.3 1740.1L1052.5 1740.0L1053.6 1739.8L1054.7 1739.6L1055.8 1739.4L1056.9 1739.2L1058.0 1739.0L1059.1 1738.8L1060.2 1738.6L1061.3 1738.4L1062.4 1738.3L1063.5 1738.1L1064.6 1738.0L1065.7 1737.9L1066.8 1737.9L1068.0 1737.8L1069.1 1737.8L1070.2 1737.8L1071.3 1737.8L1072.4 1737.8L1073.5 1737.8L1074.6 1737.8L1075.7 1737.8L1076.8 1737.8L1077.9 1737.8L1079.0 1737.9L1080.1 1737.9L1081.2 1737.9L1082.3 1737.9L1083.5 1738.0L1084.6 1738.1L1085.7 1738.2L1086.8 1738.3L1087.9 1738.5L1089.0 1738.7L1090.1 1738.9L1091.2 1739.1L1092.3 1739.4L1093.4 1739.6L1094.5 1739.8L1095.6 1740.1L1096.7 1740.2L1097.8 1740.4L1099.0 1740.5L1100.1 1740.6L1101.2 1740.6L1102.3 1740.5L1103.4 1740.4L1104.5 1740.2L1105.6 1739.9L1106.7 1739.7L1107.8 1739.3L1108.9 1739.0L1110.0 1738.6L1111.1 1738.3L1112.2 1737.9L1113.3 1737.6L1114.4 1737.3L1115.6 1737.1L1116.7 1737.0L1117.8 1736.9L1118.9 1736.9L1120.0 1737.0L1121.1 1737.2L1122.2 1737.4L1123.3 1737.7L1124.4 1738.0L1125.5 1738.3L1126.6 1738.7L1127.7 1739.0L1128.8 1739.4L1129.9 1739.6L1131.1 1739.9L1132.2 1740.1L1133.3 1740.2L1134.4 1740.3L1135.5 1740.3L1136.6 1740.2L1137.7 1740.1L1138.8 1740.0L1139.9 1739.8L1141.0 1739.5L1142.1 1739.3L1143.2 1739.1L1144.3 1738.8L1145.4 1738.7L1146.6 1738.5L1147.7 1738.4L1148.8 1738.3L1149.9 1738.3L1151.0 1738.3L1152.1 1738.4L1153.2 1738.5L1154.3 1738.6L1155.4 1738.7L1156.5 1738.9L1157.6 1739.0L1158.7 1739.0L1159.8 1739.1L1160.9 1739.1L1162.0 1739.0L1163.2 1738.9L1164.3 1738.7L1165.4 1738.5L1166.5 1738.2L1167.6 1737.9L1168.7 1737.6L1169.8 1737.2L1170.9 1736.9L1172.0 1736.6L1173.1 1736.4L1174.2 1736.3L1175.3 1736.2L1176.4 1736.2L1177.5 1736.3L1178.7 1736.5L1179.8 1736.8L1180.9 1737.2L1182.0 1737.7L1183.1 1738.3L1184.2 1738.9L1185.3 1739.5L1186.4 1740.1L1187.5 1740.7L1188.6 1741.3L1189.7 1741.8L1190.8 1742.2L1191.9 1742.5L1193.0 1742.7L1194.2 1742.8L1195.3 1742.7L1196.4 1742.6L1197.5 1742.3L1198.6 1741.9L1199.7 1741.5L1200.8 1741.0L1201.9 1740.4L1203.0 1739.8L1204.1 1739.2L1205.2 1738.7L1206.3 1738.2L1207.4 1737.7L1208.5 1737.3L1209.7 1737.0L1210.8 1736.7L1211.9 1736.6L1213.0 1736.5L1214.1 1736.5L1215.2 1736.6L1216.3 1736.7L1217.4 1736.9L1218.5 1737.1L1219.6 1737.3L1220.7 1737.5L1221.8 1737.7L1222.9 1737.9L1224.0 1738.0L1225.1 1738.1L1226.3 1738.2L1227.4 1738.2L1228.5 1738.1L1229.6 1738.0L1230.7 1738.0L1231.8 1737.8L1232.9 1737.7L1234.0 1737.7L1235.1 1737.6L1236.2 1737.6L1237.3 1737.6L1238.4 1737.7L1239.5 1737.8L1240.6 1738.0L1241.8 1738.2L1242.9 1738.5L1244.0 1738.8L1245.1 1739.1L1246.2 1739.4L1247.3 1739.8L1248.4 1740.1L1249.5 1740.4L1250.6 1740.7L1251.7 1740.9L1252.8 1741.0L1253.9 1741.1L1255.0 1741.1L1256.1 1741.1L1257.3 1740.9L1258.4 1740.8L1259.5 1740.6L1260.6 1740.3L1261.7 1740.0L1262.8 1739.7L1263.9 1739.4L1265.0 1739.1L1266.1 1738.9L1267.2 1738.7L1268.3 1738.5L1269.4 1738.4L1270.5 1738.3L1271.6 1738.3L1272.7 1738.3L1273.9 1738.3L1275.0 1738.4L1276.1 1738.5L1277.2 1738.6L1278.3 1738.7L1279.4 1738.8L1280.5 1738.9L1281.6 1739.0L1282.7 1739.0L1283.8 1739.0L1284.9 1739.0L1286.0 1738.9L1287.1 1738.8L1288.2 1738.6L1289.4 1738.5L1290.5 1738.3L1291.6 1738.1L1292.7 1737.8L1293.8 1737.6L1294.9 1737.4L1296.0 1737.3L1297.1 1737.1L1298.2 1737.0L1299.3 1736.9L1300.4 1736.9L1301.5 1736.9L1302.6 1736.9L1303.7 1737.0L1304.9 1737.1L1306.0 1737.2L1307.1 1737.4L1308.2 1737.5L1309.3 1737.7L1310.4 1737.8L1311.5 1738.0L1312.6 1738.2L1313.7 1738.4L1314.8 1738.5L1315.9 1738.7L1317.0 1738.8L1318.1 1738.8L1319.2 1738.6L1320.3 1738.0L1321.5 1736.8L1322.6 1734.9L1323.7 1732.4L1324.8 1729.8L1325.9 1727.8L1327.0 1727.3L1328.1 1728.4L1329.2 1730.8L1330.3 1733.9L1331.4 1736.8" fill="none" stroke="#000000" stroke-width="6.0" stroke-linejoin="round" stroke-dasharray="36 9.6 6.4 9.6"/>
<rect x="156.0" y="1286.0" width="1217.8" height="910.5" fill="none" stroke="#0a0a0a" stroke-width="5.6"/>
<path d="M211.3 2196.5v-27.8M211.3 1286.0v27.8M432.8 2196.5v-27.8M432.8 1286.0v27.8M654.1 2196.5v-27.8M654.1 1286.0v27.8M875.5 2196.5v-27.8M875.5 1286.0v27.8M1097.0 2196.5v-27.8M1097.0 1286.0v27.8M1318.3 2196.5v-27.8M1318.3 1286.0v27.8M156.0 2044.7h27.8M1373.8 2044.7h-27.8M156.0 1893.0h27.8M1373.8 1893.0h-27.8M156.0 1741.2h27.8M1373.8 1741.2h-27.8M156.0 1589.5h27.8M1373.8 1589.5h-27.8M156.0 1437.7h27.8M1373.8 1437.7h-27.8" stroke="#0a0a0a" stroke-width="4.6" fill="none"/>

<rect x="1086.8" y="1333.3" width="236.1" height="123.6" rx="6" ry="6" fill="#fff" stroke="#dedede" stroke-width="5.0"/>
<path d="M1107.0 1357.8H1161.3" stroke="#0000ff" stroke-width="8.0"/>
<path d="M1108.5 1396.5H1161.3" stroke="#ff0000" stroke-width="6.5" stroke-dasharray="23 7"/>
<path d="M1108.5 1433.0H1161.3" stroke="#000000" stroke-width="7.5" stroke-dasharray="35 10 7.5 10"/>
</g>
<g id="panel-d" filter="url(#soft)">
<path d="M1579.3 1738.8L1580.4 1738.8L1581.5 1738.8L1582.6 1738.8L1583.7 1738.8L1584.8 1738.8L1585.9 1738.8L1587.0 1738.8L1588.1 1738.8L1589.2 1738.8L1590.3 1738.8L1591.5 1738.8L1592.6 1738.8L1593.7 1738.8L1594.8 1738.8L1595.9 1738.8L1597.0 1738.8L1598.1 1738.8L1599.2 1738.8L1600.3 1738.8L1601.4 1738.8L1602.5 1738.8L1603.6 1738.8L1604.7 1738.8L1605.8 1738.8L1606.9 1738.8L1608.0 1738.8L1609.1 1738.8L1610.2 1738.8L1611.3 1738.8L1612.5 1738.8L1613.6 1738.8L1614.7 1738.8L1615.8 1738.8L1616.9 1738.8L1618.0 1738.8L1619.1 1738.8L1620.2 1738.8L1621.3 1738.8L1622.4 1738.8L1623.5 1738.8L1624.6 1738.8L1625.7 1738.8L1626.8 1738.8L1627.9 1738.8L1629.0 1738.8L1630.1 1738.8L1631.2 1738.8L1632.3 1738.8L1633.4 1738.8L1634.5 1738.8L1635.7 1738.8L1636.8 1738.8L1637.9 1738.8L1639.0 1738.8L1640.1 1738.8L1641.2 1738.8L1642.3 1738.8L1643.4 1738.8L1644.5 1738.8L1645.6 1738.8L1646.7 1738.8L1647.8 1738.8L1648.9 1738.8L1650.0 1738.8L1651.1 1738.8L1652.2 1738.8L1653.3 1738.8L1654.4 1738.8L1655.5 1738.8L1656.6 1738.8L1657.8 1738.8L1658.9 1738.8L1660.0 1738.8L1661.1 1738.8L1662.2 1738.8L1663.3 1738.8L1664.4 1738.8L1665.5 1738.8L1666.6 1738.8L1667.7 1738.8L1668.8 1738.8L1669.9 1738.8L1671.0 1738.8L1672.1 1738.8L1673.2 1738.8L1674.3 1738.8L1675.4 1738.8L1676.5 1738.8L1677.6 1738.8L1678.8 1738.8L1679.9 1738.8L1681.0 1738.8L1682.1 1738.8L1683.2 1738.8L1684.3 1738.8L1685.4 1738.8L1686.5 1738.8L1687.6 1738.8L1688.7 1738.8L1689.8 1738.8L1690.9 1738.8L1692.0 1738.8L1693.1 1738.8L1694.2 1738.8L1695.3 1738.8L1696.4 1738.8L1697.5 1738.8L1698.6 1738.8L1699.7 1738.8L1700.8 1738.8L1702.0 1738.8L1703.1 1738.8L1704.2 1738.8L1705.3 1738.8L1706.4 1738.8L1707.5 1738.8L1708.6 1738.8L1709.7 1738.8L1710.8 1738.8L1711.9 1738.8L1713.0 1738.8L1714.1 1738.8L1715.2 1738.8L1716.3 1738.8L1717.4 1738.8L1718.5 1738.8L1719.6 1738.8L1720.7 1738.8L1721.8 1738.8L1723.0 1738.8L1724.1 1738.8L1725.2 1738.8L1726.3 1738.8L1727.4 1738.8L1728.5 1738.8L1729.6 1738.8L1730.7 1738.8L1731.8 1738.8L1732.9 1738.8L1734.0 1738.8L1735.1 1738.8L1736.2 1738.8L1737.3 1738.8L1738.4 1738.8L1739.5 1738.8L1740.6 1738.8L1741.7 1738.8L1742.8 1738.8L1743.9 1738.8L1745.0 1738.8L1746.2 1738.8L1747.3 1738.7L1748.4 1738.7L1749.5 1738.6L1750.6 1738.4L1751.7 1738.2L1752.8 1738.0L1753.9 1737.8L1755.0 1737.5L1756.1 1737.4L1757.2 1737.3L1758.3 1737.2L1759.4 1737.1L1760.5 1736.5L1761.6 1735.4L1762.7 1734.1L1763.8 1732.8L1764.9 1731.8L1766.0 1731.2L1767.2 1731.4L1768.3 1733.4L1769.4 1737.1L1770.5 1742.6L1771.6 1749.3L1772.7 1757.2L1773.8 1765.7L1774.9 1774.4L1776.0 1783.0L1777.1 1790.9L1778.2 1797.9L1779.3 1803.5L1780.4 1807.5L1781.5 1809.7L1782.6 1809.6L1783.7 1801.4L1784.8 1784.2L1785.9 1759.4L1787.0 1729.1L1788.1 1696.1L1789.2 1663.1L1790.4 1633.1L1791.5 1608.5L1792.6 1591.7L1793.7 1583.9L1794.8 1585.9L1795.9 1597.7L1797.0 1618.5L1798.1 1647.0L1799.2 1681.4L1800.3 1719.4L1801.4 1758.6L1802.5 1796.7L1803.6 1831.0L1804.7 1859.4L1805.8 1880.2L1806.9 1891.9L1808.0 1893.8L1809.1 1884.5L1810.2 1864.6L1811.3 1836.7L1812.5 1804.1L1813.6 1771.0L1814.7 1741.5L1815.8 1719.2L1816.9 1706.9L1818.0 1705.0L1819.1 1704.3L1820.2 1703.1L1821.3 1702.2L1822.4 1701.8L1823.5 1697.8L1824.6 1688.5L1825.7 1675.8L1826.8 1662.2L1827.9 1650.3L1829.0 1642.4L1830.1 1640.0L1831.2 1649.1L1832.3 1672.2L1833.5 1706.5L1834.6 1747.8L1835.7 1790.9L1836.8 1830.4L1837.9 1861.4L1839.0 1880.1L1840.1 1884.0L1841.2 1870.0L1842.3 1839.1L1843.4 1797.0L1844.5 1750.9L1845.6 1709.0L1846.7 1678.6L1847.8 1665.0L1848.9 1666.3L1850.0 1673.3L1851.1 1684.6L1852.2 1699.0L1853.3 1714.7L1854.4 1729.6L1855.5 1742.0L1856.7 1750.2L1857.8 1753.4L1858.9 1750.1L1860.0 1740.0L1861.1 1725.9L1862.2 1711.4L1863.3 1700.5L1864.4 1696.0L1865.5 1698.6L1866.6 1707.7L1867.7 1722.1L1868.8 1740.3L1869.9 1760.4L1871.0 1780.3L1872.1 1797.7L1873.2 1810.9L1874.3 1818.5L1875.4 1819.6L1876.5 1814.3L1877.7 1803.2L1878.8 1787.1L1879.9 1767.5L1881.0 1746.1L1882.1 1724.8L1883.2 1705.3L1884.3 1689.5L1885.4 1678.5L1886.5 1673.5L1887.6 1675.1L1888.7 1683.8L1889.8 1698.1L1890.9 1715.1L1892.0 1731.5L1893.1 1744.3L1894.2 1750.9L1895.3 1751.0L1896.4 1748.4L1897.5 1744.2L1898.6 1739.8L1899.8 1736.4L1900.9 1735.1L1902.0 1736.2L1903.1 1739.8L1904.2 1745.2L1905.3 1751.9L1906.4 1758.8L1907.5 1765.1L1908.6 1769.9L1909.7 1772.6L1910.8 1772.3L1911.9 1766.3L1913.0 1754.8L1914.1 1739.4L1915.2 1722.4L1916.3 1706.3L1917.4 1693.5L1918.5 1685.8L1919.6 1684.5L1920.7 1691.0L1921.8 1704.9L1923.0 1724.2L1924.1 1745.9L1925.2 1767.0L1926.3 1784.3L1927.4 1795.3L1928.5 1798.4L1929.6 1795.2L1930.7 1787.5L1931.8 1776.2L1932.9 1762.7L1934.0 1748.7L1935.1 1735.9L1936.2 1725.9L1937.3 1720.0L1938.4 1718.7L1939.5 1719.2L1940.6 1720.2L1941.7 1721.7L1942.8 1723.3L1944.0 1724.8L1945.1 1726.0L1946.2 1726.7L1947.3 1726.8L1948.4 1726.8L1949.5 1727.0L1950.6 1727.1L1951.7 1727.2L1952.8 1727.3L1953.9 1728.1L1955.0 1729.9L1956.1 1732.0L1957.2 1733.8L1958.3 1734.6L1959.4 1734.4L1960.5 1733.7L1961.6 1732.9L1962.7 1732.4L1963.8 1733.1L1964.9 1737.9L1966.0 1746.0L1967.2 1756.1L1968.3 1766.0L1969.4 1773.9L1970.5 1778.3L1971.6 1778.4L1972.7 1774.7L1973.8 1767.9L1974.9 1758.6L1976.0 1747.9L1977.1 1737.2L1978.2 1727.5L1979.3 1720.0L1980.4 1715.7L1981.5 1714.8L1982.6 1715.5L1983.7 1717.0L1984.8 1718.9L1985.9 1720.6L1987.0 1721.8L1988.2 1722.1L1989.3 1722.2L1990.4 1722.5L1991.5 1722.9L1992.6 1723.2L1993.7 1723.3L1994.8 1724.8L1995.9 1729.2L1997.0 1736.2L1998.1 1744.7L1999.2 1753.8L2000.3 1762.3L2001.4 1769.2L2002.5 1773.6L2003.6 1774.9L2004.7 1773.6L2005.8 1770.1L2006.9 1764.7L2008.0 1757.7L2009.1 1749.6L2010.2 1740.8L2011.4 1732.0L2012.5 1723.6L2013.6 1716.3L2014.7 1710.5L2015.8 1706.5L2016.9 1704.7L2018.0 1705.1L2019.1 1708.1L2020.2 1713.1L2021.3 1719.0L2022.4 1724.8L2023.5 1729.3L2024.6 1731.6L2025.7 1731.6L2026.8 1730.5L2027.9 1728.4L2029.0 1725.9L2030.1 1723.4L2031.2 1721.4L2032.3 1720.3L2033.5 1721.3L2034.6 1730.0L2035.7 1746.4L2036.8 1768.7L2037.9 1794.7L2039.0 1821.5L2040.1 1846.3L2041.2 1866.3L2042.3 1879.6L2043.4 1884.6L2044.5 1877.2L2045.6 1853.3L2046.7 1814.9L2047.8 1765.1L2048.9 1707.9L2050.0 1647.9L2051.1 1590.1L2052.2 1539.1L2053.3 1499.0L2054.4 1473.2L2055.6 1463.7L2056.7 1475.7L2057.8 1513.5L2058.9 1573.1L2060.0 1648.0L2061.1 1730.3L2062.2 1811.3L2063.3 1882.2L2064.4 1935.4L2065.5 1965.4L2066.6 1969.4L2067.7 1953.3L2068.8 1920.7L2069.9 1875.6L2071.0 1823.7L2072.1 1771.4L2073.2 1725.2L2074.3 1690.9L2075.4 1672.7L2076.6 1671.0L2077.7 1675.1L2078.8 1680.9L2079.9 1685.6L2081.0 1686.8L2082.1 1687.3L2083.2 1688.0L2084.3 1689.1L2085.4 1699.5L2086.5 1718.6L2087.6 1741.9L2088.7 1764.0L2089.8 1779.5L2090.9 1784.7L2092.0 1780.9L2093.1 1770.5L2094.2 1754.8L2095.3 1735.7L2096.4 1715.7L2097.5 1697.3L2098.7 1682.6L2099.8 1673.6L2100.9 1671.4L2102.0 1677.7L2103.1 1692.8L2104.2 1715.4L2105.3 1743.7L2106.4 1775.6L2107.5 1808.4L2108.6 1839.6L2109.7 1866.7L2110.8 1887.4L2111.9 1900.3L2113.0 1904.1L2114.1 1887.4L2115.2 1844.0L2116.3 1779.4L2117.4 1701.5L2118.5 1620.1L2119.6 1545.2L2120.8 1486.3L2121.9 1450.6L2123.0 1442.4L2124.1 1458.4L2125.2 1495.5L2126.3 1550.8L2127.4 1620.2L2128.5 1698.3L2129.6 1779.1L2130.7 1856.6L2131.8 1924.8L2132.9 1978.4L2134.0 2013.5L2135.1 2027.4L2136.2 2018.8L2137.3 1988.5L2138.4 1939.8L2139.5 1877.8L2140.6 1809.2L2141.7 1741.2L2142.8 1681.3L2144.0 1635.7L2145.1 1609.3L2146.2 1604.6L2147.3 1616.9L2148.4 1642.3L2149.5 1676.2L2150.6 1712.8L2151.7 1745.7L2152.8 1769.0L2153.9 1778.7L2155.0 1773.7L2156.1 1756.9L2157.2 1734.1L2158.3 1712.8L2159.4 1700.5L2160.5 1700.1L2161.6 1707.5L2162.7 1720.7L2163.8 1737.6L2164.9 1755.5L2166.1 1771.5L2167.2 1783.1L2168.3 1788.4L2169.4 1788.1L2170.5 1786.0L2171.6 1782.3L2172.7 1777.0L2173.8 1770.4L2174.9 1762.6L2176.0 1754.0L2177.1 1744.7L2178.2 1735.1L2179.3 1725.5L2180.4 1716.1L2181.5 1707.3L2182.6 1699.3L2183.7 1692.4L2184.8 1686.9L2185.9 1682.8L2187.1 1680.3L2188.2 1679.5L2189.3 1685.1L2190.4 1700.7L2191.5 1724.7L2192.6 1754.4L2193.7 1786.7L2194.8 1818.2L2195.9 1845.4L2197.0 1865.5L2198.1 1876.4L2199.2 1877.0L2200.3 1868.5L2201.4 1851.9L2202.5 1828.6L2203.6 1800.6L2204.7 1770.5L2205.8 1740.7L2206.9 1713.8L2208.0 1692.3L2209.2 1677.9L2210.3 1671.9L2211.4 1671.4L2212.5 1670.4L2213.6 1669.8L2214.7 1667.2L2215.8 1660.0L2216.9 1650.8L2218.0 1642.6L2219.1 1638.2L2220.2 1643.6L2221.3 1671.2L2222.4 1716.8L2223.5 1771.6L2224.6 1824.9L2225.7 1866.5L2226.8 1888.4L2227.9 1887.8L2229.0 1871.6L2230.1 1842.5L2231.2 1804.2L2232.4 1761.3L2233.5 1719.4L2234.6 1683.4L2235.7 1658.1L2236.8 1646.4L2237.9 1654.0L2239.0 1689.2L2240.1 1740.4L2241.2 1790.5L2242.3 1822.3L2243.4 1826.5L2244.5 1812.6L2245.6 1786.0L2246.7 1752.0L2247.8 1717.0L2248.9 1687.9L2250.0 1670.2L2251.1 1667.1L2252.2 1676.2L2253.3 1694.9L2254.5 1720.3L2255.6 1748.2L2256.7 1774.3L2257.8 1794.3L2258.9 1805.0L2260.0 1805.0L2261.1 1795.9L2262.2 1779.2L2263.3 1757.3L2264.4 1733.6L2265.5 1711.4L2266.6 1694.0L2267.7 1684.0L2268.8 1682.8L2269.9 1689.5L2271.0 1702.6L2272.1 1719.6L2273.2 1737.2L2274.3 1752.0L2275.4 1761.1L2276.6 1763.1L2277.7 1760.8L2278.8 1755.8L2279.9 1748.8L2281.0 1740.6L2282.1 1732.2L2283.2 1724.8L2284.3 1719.1L2285.4 1716.0L2286.5 1716.0L2287.6 1721.2L2288.7 1731.1L2289.8 1744.3L2290.9 1758.5L2292.0 1771.6L2293.1 1781.3L2294.2 1786.3L2295.3 1785.2L2296.4 1777.3L2297.6 1763.4L2298.7 1745.6L2299.8 1726.6L2300.9 1709.1L2302.0 1695.7L2303.1 1688.3L2304.2 1687.8L2305.3 1692.0L2306.4 1699.9L2307.5 1710.6L2308.6 1722.8L2309.7 1734.9L2310.8 1745.5L2311.9 1753.1L2313.0 1757.0L2314.1 1756.6L2315.2 1753.0L2316.3 1747.5L2317.4 1741.8L2318.5 1737.9L2319.7 1737.1L2320.8 1738.7L2321.9 1741.9L2323.0 1746.2L2324.1 1751.1L2325.2 1755.6L2326.3 1759.1L2327.4 1761.0L2328.5 1760.9L2329.6 1758.3L2330.7 1753.4L2331.8 1746.8L2332.9 1739.2L2334.0 1731.5L2335.1 1724.6L2336.2 1719.3L2337.3 1716.2L2338.4 1715.6L2339.5 1717.7L2340.6 1722.2L2341.8 1728.4L2342.9 1735.6L2344.0 1742.8L2345.1 1749.0L2346.2 1753.3L2347.3 1755.3L2348.4 1755.0L2349.5 1753.4L2350.6 1750.8L2351.7 1747.3L2352.8 1743.2L2353.9 1739.0L2355.0 1734.9L2356.1 1731.3L2357.2 1728.6L2358.3 1726.9L2359.4 1726.5L2360.5 1726.8L2361.6 1727.7L2362.7 1729.0L2363.8 1730.7L2365.0 1732.8L2366.1 1735.2L2367.2 1737.7L2368.3 1740.3L2369.4 1742.8L2370.5 1745.1L2371.6 1747.2L2372.7 1749.0L2373.8 1750.3L2374.9 1751.1L2376.0 1751.4L2377.1 1750.9L2378.2 1749.3L2379.3 1746.5L2380.4 1743.0L2381.5 1738.8L2382.6 1734.4L2383.7 1730.1L2384.8 1726.2L2385.9 1722.9L2387.1 1720.7L2388.2 1719.5L2389.3 1719.7L2390.4 1721.9L2391.5 1725.8L2392.6 1731.0L2393.7 1736.8L2394.8 1742.5L2395.9 1747.4L2397.0 1750.9L2398.1 1752.5L2399.2 1752.5L2400.3 1751.8L2401.4 1750.7L2402.5 1749.2L2403.6 1747.3L2404.7 1745.2L2405.8 1742.9L2406.9 1740.7L2408.1 1738.6L2409.2 1736.7L2410.3 1735.1L2411.4 1733.9L2412.5 1733.3L2413.6 1733.1L2414.7 1732.9L2415.8 1732.4L2416.9 1731.8L2418.0 1731.3L2419.1 1731.1L2420.2 1731.3L2421.3 1732.0L2422.4 1732.9L2423.5 1733.8L2424.6 1734.3L2425.7 1734.4L2426.8 1735.0L2427.9 1736.2L2429.0 1737.8L2430.2 1739.8L2431.3 1742.1L2432.4 1744.4L2433.5 1746.6L2434.6 1748.7L2435.7 1750.4L2436.8 1751.7L2437.9 1752.4L2439.0 1752.6L2440.1 1751.6L2441.2 1749.3L2442.3 1745.9L2443.4 1741.8L2444.5 1737.3L2445.6 1733.0L2446.7 1729.1L2447.8 1726.2L2448.9 1724.5L2450.0 1724.2L2451.1 1724.9L2452.2 1726.5L2453.4 1728.9L2454.5 1731.8L2455.6 1734.9L2456.7 1737.8L2457.8 1740.4L2458.9 1742.3L2460.0 1743.4L2461.1 1743.6L2462.2 1743.4L2463.3 1743.0L2464.4 1742.4L2465.5 1741.8L2466.6 1741.3L2467.7 1740.8L2468.8 1740.5L2469.9 1740.4L2471.0 1740.4L2472.1 1740.3L2473.2 1740.1L2474.3 1740.0L2475.5 1739.9L2476.6 1739.8L2477.7 1739.8L2478.8 1739.8L2479.9 1739.8L2481.0 1739.7L2482.1 1739.7L2483.2 1739.7L2484.3 1739.7L2485.4 1739.7L2486.5 1739.7L2487.6 1739.6L2488.7 1739.6L2489.8 1739.5L2490.9 1739.3L2492.0 1739.1L2493.1 1738.8L2494.2 1738.6L2495.3 1738.4L2496.4 1738.3L2497.6 1738.2L2498.7 1738.0L2499.8 1737.6L2500.9 1737.1L2502.0 1736.6L2503.1 1736.1L2504.2 1735.9L2505.3 1735.9L2506.4 1736.1L2507.5 1736.6L2508.6 1737.2L2509.7 1738.0L2510.8 1738.9L2511.9 1739.8L2513.0 1740.6L2514.1 1741.2L2515.2 1741.7L2516.3 1742.0L2517.4 1742.0L2518.6 1741.5L2519.7 1740.6L2520.8 1739.3L2521.9 1737.8L2523.0 1736.4L2524.1 1735.3L2525.2 1734.5L2526.3 1734.3L2527.4 1734.6L2528.5 1735.2L2529.6 1736.2L2530.7 1737.3L2531.8 1738.6L2532.9 1739.8L2534.0 1740.8L2535.1 1741.6L2536.2 1742.0L2537.3 1742.0L2538.4 1741.7L2539.5 1741.0L2540.7 1740.0L2541.8 1739.0L2542.9 1737.8L2544.0 1736.8L2545.1 1735.9L2546.2 1735.3L2547.3 1735.1L2548.4 1735.2L2549.5 1735.6L2550.6 1736.2L2551.7 1737.0L2552.8 1737.8L2553.9 1738.7L2555.0 1739.5L2556.1 1740.1L2557.2 1740.4L2558.3 1740.5L2559.4 1740.5L2560.5 1740.2L2561.6 1739.9L2562.8 1739.5L2563.9 1739.1L2565.0 1738.6L2566.1 1738.1L2567.2 1737.6L2568.3 1737.2L2569.4 1736.9L2570.5 1736.7L2571.6 1736.6L2572.7 1736.6L2573.8 1736.8L2574.9 1737.0L2576.0 1737.3L2577.1 1737.7L2578.2 1738.1L2579.3 1738.5L2580.4 1739.0L2581.5 1739.4L2582.6 1739.8L2583.7 1740.1L2584.8 1740.3L2586.0 1740.5L2587.1 1740.5L2588.2 1740.5L2589.3 1740.4L2590.4 1740.2L2591.5 1739.9L2592.6 1739.6L2593.7 1739.2L2594.8 1738.7L2595.9 1738.2L2597.0 1737.8L2598.1 1737.2L2599.2 1736.7L2600.3 1736.3L2601.4 1735.8L2602.5 1735.4L2603.6 1735.0L2604.7 1734.8L2605.8 1734.5L2606.9 1734.4L2608.1 1734.3L2609.2 1734.4L2610.3 1734.7L2611.4 1735.3L2612.5 1736.1L2613.6 1737.0L2614.7 1737.9L2615.8 1738.8L2616.9 1739.6L2618.0 1740.2L2619.1 1740.5L2620.2 1740.5L2621.3 1740.4L2622.4 1740.0L2623.5 1739.5L2624.6 1739.0L2625.7 1738.5L2626.8 1738.0L2627.9 1737.6L2629.1 1737.4L2630.2 1737.4L2631.3 1737.5L2632.4 1737.7L2633.5 1737.9L2634.6 1738.3L2635.7 1738.6L2636.8 1739.0L2637.9 1739.4L2639.0 1739.8L2640.1 1740.1L2641.2 1740.3L2642.3 1740.5L2643.4 1740.5L2644.5 1740.5L2645.6 1740.2L2646.7 1739.8L2647.8 1739.4L2648.9 1738.8L2650.0 1738.3L2651.1 1737.9L2652.3 1737.6L2653.4 1737.4L2654.5 1737.4L2655.6 1737.6L2656.7 1738.0L2657.8 1738.5L2658.9 1739.1L2660.0 1739.7L2661.1 1740.1L2662.2 1740.4L2663.3 1740.5L2664.4 1740.4L2665.5 1740.1L2666.6 1739.6L2667.7 1739.0L2668.8 1738.4L2669.9 1737.9L2671.0 1737.5L2672.1 1737.4L2673.2 1737.4L2674.4 1737.5L2675.5 1737.6L2676.6 1737.8L2677.7 1737.9L2678.8 1738.1L2679.9 1738.2L2681.0 1738.2L2682.1 1738.3L2683.2 1738.2L2684.3 1738.2L2685.4 1738.2L2686.5 1738.2L2687.6 1738.1L2688.7 1738.1L2689.8 1737.9L2690.9 1737.1L2692.0 1736.0L2693.1 1735.3L2694.2 1735.2L2695.3 1735.2" fill="none" stroke="#0000ff" stroke-width="6.5" stroke-linejoin="round"/>
<path d="M1579.3 1738.2L1580.4 1738.3L1581.5 1738.4L1582.6 1738.4L1583.7 1738.5L1584.8 1738.6L1585.9 1738.6L1587.0 1738.7L1588.1 1738.7L1589.2 1738.8L1590.3 1738.8L1591.5 1738.8L1592.6 1738.9L1593.7 1738.9L1594.8 1738.9L1595.9 1738.8L1597.0 1738.8L1598.1 1738.8L1599.2 1738.7L1600.3 1738.7L1601.4 1738.6L1602.5 1738.5L1603.6 1738.4L1604.7 1738.4L1605.8 1738.3L1606.9 1738.1L1608.0 1738.0L1609.1 1737.9L1610.2 1737.8L1611.3 1737.7L1612.5 1737.6L1613.6 1737.4L1614.7 1737.3L1615.8 1737.2L1616.9 1737.1L1618.0 1737.0L1619.1 1736.9L1620.2 1736.9L1621.3 1736.8L1622.4 1736.7L1623.5 1736.7L1624.6 1736.7L1625.7 1736.7L1626.8 1736.7L1627.9 1736.7L1629.0 1736.7L1630.1 1736.8L1631.2 1736.9L1632.3 1736.9L1633.4 1737.0L1634.5 1737.1L1635.7 1737.2L1636.8 1737.4L1637.9 1737.5L1639.0 1737.6L1640.1 1737.7L1641.2 1737.9L1642.3 1738.0L1643.4 1738.1L1644.5 1738.2L1645.6 1738.4L1646.7 1738.5L1647.8 1738.6L1648.9 1738.6L1650.0 1738.7L1651.1 1738.8L1652.2 1738.8L1653.3 1738.9L1654.4 1738.9L1655.5 1738.9L1656.6 1738.9L1657.8 1738.8L1658.9 1738.8L1660.0 1738.7L1661.1 1738.7L1662.2 1738.6L1663.3 1738.5L1664.4 1738.4L1665.5 1738.3L1666.6 1738.2L1667.7 1738.1L1668.8 1738.0L1669.9 1737.9L1671.0 1737.8L1672.1 1737.7L1673.2 1737.6L1674.3 1737.5L1675.4 1737.4L1676.5 1737.3L1677.6 1737.3L1678.8 1737.2L1679.9 1737.2L1681.0 1737.2L1682.1 1737.1L1683.2 1737.1L1684.3 1737.2L1685.4 1737.2L1686.5 1737.2L1687.6 1737.3L1688.7 1737.3L1689.8 1737.4L1690.9 1737.4L1692.0 1737.5L1693.1 1737.6L1694.2 1737.7L1695.3 1737.7L1696.4 1737.8L1697.5 1737.9L1698.6 1737.9L1699.7 1738.0L1700.8 1738.1L1702.0 1738.1L1703.1 1738.2L1704.2 1738.2L1705.3 1738.2L1706.4 1738.3L1707.5 1738.3L1708.6 1738.3L1709.7 1738.3L1710.8 1738.2L1711.9 1738.2L1713.0 1738.2L1714.1 1738.2L1715.2 1738.1L1716.3 1738.1L1717.4 1738.0L1718.5 1738.0L1719.6 1737.9L1720.7 1737.9L1721.8 1737.8L1723.0 1737.8L1724.1 1737.7L1725.2 1737.7L1726.3 1737.6L1727.4 1737.6L1728.5 1737.6L1729.6 1737.6L1730.7 1737.5L1731.8 1737.5L1732.9 1737.5L1734.0 1737.5L1735.1 1737.5L1736.2 1737.5L1737.3 1737.6L1738.4 1737.6L1739.5 1737.6L1740.6 1737.6L1741.7 1737.7L1742.8 1737.7L1743.9 1737.7L1745.0 1737.8L1746.2 1737.8L1747.3 1737.9L1748.4 1737.8L1749.5 1737.8L1750.6 1737.6L1751.7 1737.4L1752.8 1737.2L1753.9 1737.0L1755.0 1736.8L1756.1 1736.7L1757.2 1736.6L1758.3 1736.5L1759.4 1736.4L1760.5 1735.8L1761.6 1734.7L1762.7 1733.4L1763.8 1732.1L1764.9 1731.1L1766.0 1730.5L1767.2 1730.7L1768.3 1732.6L1769.4 1736.4L1770.5 1741.8L1771.6 1748.6L1772.7 1756.4L1773.8 1764.9L1774.9 1773.6L1776.0 1782.1L1777.1 1790.1L1778.2 1797.0L1779.3 1802.7L1780.4 1806.7L1781.5 1808.9L1782.6 1808.8L1783.7 1800.5L1784.8 1783.2L1785.9 1758.2L1787.0 1727.5L1788.1 1693.7L1789.2 1659.4L1790.4 1627.6L1791.5 1601.1L1792.6 1582.6L1793.7 1573.9L1794.8 1576.2L1795.9 1589.2L1797.0 1611.8L1798.1 1642.1L1799.2 1678.0L1800.3 1717.1L1801.4 1757.0L1802.5 1795.3L1803.6 1829.7L1804.7 1858.2L1805.8 1878.9L1806.9 1890.7L1808.0 1892.6L1809.1 1883.2L1810.2 1863.3L1811.3 1835.3L1812.5 1802.8L1813.6 1769.7L1814.7 1740.1L1815.8 1717.9L1816.9 1705.6L1818.0 1703.7L1819.1 1703.0L1820.2 1701.9L1821.3 1701.0L1822.4 1700.7L1823.5 1696.7L1824.6 1687.5L1825.7 1674.9L1826.8 1661.4L1827.9 1649.5L1829.0 1641.6L1830.1 1639.3L1831.2 1648.5L1832.3 1671.7L1833.5 1706.1L1834.6 1747.4L1835.7 1790.6L1836.8 1830.1L1837.9 1861.2L1839.0 1879.9L1840.1 1883.8L1841.2 1869.8L1842.3 1838.9L1843.4 1796.8L1844.5 1750.7L1845.6 1708.7L1846.7 1678.3L1847.8 1664.7L1848.9 1665.9L1850.0 1672.8L1851.1 1684.1L1852.2 1698.4L1853.3 1714.0L1854.4 1728.8L1855.5 1741.1L1856.7 1749.3L1857.8 1752.3L1858.9 1748.9L1860.0 1738.8L1861.1 1724.6L1862.2 1710.0L1863.3 1699.0L1864.4 1694.5L1865.5 1697.1L1866.6 1706.1L1867.7 1720.5L1868.8 1738.7L1869.9 1758.8L1871.0 1778.6L1872.1 1796.1L1873.2 1809.4L1874.3 1816.9L1875.4 1818.1L1876.5 1812.8L1877.7 1801.8L1878.8 1785.8L1879.9 1766.3L1881.0 1745.0L1882.1 1723.7L1883.2 1704.3L1884.3 1688.5L1885.4 1677.6L1886.5 1672.7L1887.6 1674.4L1888.7 1683.2L1889.8 1697.5L1890.9 1714.5L1892.0 1731.0L1893.1 1743.8L1894.2 1750.4L1895.3 1750.5L1896.4 1747.9L1897.5 1743.8L1898.6 1739.4L1899.8 1736.0L1900.9 1734.6L1902.0 1735.7L1903.1 1739.2L1904.2 1744.6L1905.3 1751.2L1906.4 1758.1L1907.5 1764.3L1908.6 1769.1L1909.7 1771.7L1910.8 1771.4L1911.9 1765.4L1913.0 1753.8L1914.1 1738.3L1915.2 1721.3L1916.3 1705.2L1917.4 1692.4L1918.5 1684.7L1919.6 1683.4L1920.7 1689.9L1921.8 1703.8L1923.0 1723.1L1924.1 1744.8L1925.2 1765.9L1926.3 1783.3L1927.4 1794.3L1928.5 1797.5L1929.6 1794.4L1930.7 1786.7L1931.8 1775.4L1932.9 1762.0L1934.0 1748.0L1935.1 1735.2L1936.2 1725.3L1937.3 1719.4L1938.4 1718.1L1939.5 1718.6L1940.6 1719.7L1941.7 1721.1L1942.8 1722.8L1944.0 1724.3L1945.1 1725.4L1946.2 1726.1L1947.3 1726.1L1948.4 1726.2L1949.5 1726.2L1950.6 1726.3L1951.7 1726.4L1952.8 1726.3L1953.9 1727.1L1955.0 1728.8L1956.1 1730.9L1957.2 1732.6L1958.3 1733.3L1959.4 1733.1L1960.5 1732.3L1961.6 1731.5L1962.7 1730.9L1963.8 1731.6L1964.9 1736.3L1966.0 1744.5L1967.2 1754.5L1968.3 1764.4L1969.4 1772.3L1970.5 1776.7L1971.6 1776.9L1972.7 1773.3L1973.8 1766.5L1974.9 1757.2L1976.0 1746.6L1977.1 1735.9L1978.2 1726.3L1979.3 1718.9L1980.4 1714.6L1981.5 1713.8L1982.6 1714.6L1983.7 1716.2L1984.8 1718.2L1985.9 1720.0L1987.0 1721.2L1988.2 1721.5L1989.3 1721.8L1990.4 1722.1L1991.5 1722.6L1992.6 1722.9L1993.7 1723.0L1994.8 1724.5L1995.9 1729.0L1997.0 1735.9L1998.1 1744.5L1999.2 1753.6L2000.3 1762.1L2001.4 1768.9L2002.5 1773.3L2003.6 1774.6L2004.7 1773.2L2005.8 1769.7L2006.9 1764.3L2008.0 1757.2L2009.1 1749.0L2010.2 1740.2L2011.4 1731.3L2012.5 1722.9L2013.6 1715.5L2014.7 1709.7L2015.8 1705.6L2016.9 1703.8L2018.0 1704.2L2019.1 1707.1L2020.2 1712.0L2021.3 1717.9L2022.4 1723.6L2023.5 1728.1L2024.6 1730.4L2025.7 1730.4L2026.8 1729.2L2027.9 1727.1L2029.0 1724.6L2030.1 1722.1L2031.2 1720.1L2032.3 1718.9L2033.5 1719.9L2034.6 1728.5L2035.7 1744.9L2036.8 1767.3L2037.9 1793.2L2039.0 1820.0L2040.1 1844.7L2041.2 1864.8L2042.3 1878.0L2043.4 1883.0L2044.5 1875.7L2045.6 1851.8L2046.7 1813.4L2047.8 1763.6L2048.9 1706.4L2050.0 1646.5L2051.1 1588.7L2052.2 1537.7L2053.3 1497.8L2054.4 1472.0L2055.6 1462.5L2056.7 1474.6L2057.8 1512.5L2058.9 1572.1L2060.0 1647.2L2061.1 1729.6L2062.2 1810.6L2063.3 1881.6L2064.4 1935.0L2065.5 1965.0L2066.6 1969.2L2067.7 1953.1L2068.8 1920.6L2069.9 1875.6L2071.0 1823.7L2072.1 1771.5L2073.2 1725.4L2074.3 1691.1L2075.4 1673.0L2076.6 1671.3L2077.7 1675.3L2078.8 1681.2L2079.9 1685.8L2081.0 1687.0L2082.1 1687.5L2083.2 1688.0L2084.3 1689.1L2085.4 1699.4L2086.5 1718.4L2087.6 1741.6L2088.7 1763.5L2089.8 1778.8L2090.9 1783.9L2092.0 1780.0L2093.1 1769.4L2094.2 1753.5L2095.3 1734.4L2096.4 1714.2L2097.5 1695.6L2098.7 1680.8L2099.8 1671.7L2100.9 1669.4L2102.0 1675.6L2103.1 1690.5L2104.2 1713.1L2105.3 1741.4L2106.4 1773.2L2107.5 1806.1L2108.6 1837.2L2109.7 1864.3L2110.8 1885.1L2111.9 1898.0L2113.0 1901.8L2114.1 1885.1L2115.2 1841.5L2116.3 1776.4L2117.4 1697.6L2118.5 1614.8L2119.6 1538.3L2120.8 1477.6L2121.9 1440.8L2123.0 1432.4L2124.1 1449.3L2125.2 1488.2L2126.3 1545.6L2127.4 1616.9L2128.5 1696.4L2129.6 1778.3L2130.7 1856.3L2131.8 1924.8L2132.9 1978.7L2134.0 2013.9L2135.1 2027.8L2136.2 2019.2L2137.3 1988.9L2138.4 1940.2L2139.5 1878.2L2140.6 1809.5L2141.7 1741.6L2142.8 1681.6L2144.0 1635.9L2145.1 1609.4L2146.2 1604.6L2147.3 1616.8L2148.4 1642.0L2149.5 1675.9L2150.6 1712.4L2151.7 1745.1L2152.8 1768.3L2153.9 1777.8L2155.0 1772.7L2156.1 1755.8L2157.2 1732.8L2158.3 1711.5L2159.4 1699.0L2160.5 1698.6L2161.6 1705.9L2162.7 1719.0L2163.8 1735.9L2164.9 1753.7L2166.1 1769.7L2167.2 1781.3L2168.3 1786.6L2169.4 1786.3L2170.5 1784.2L2171.6 1780.5L2172.7 1775.3L2173.8 1768.7L2174.9 1761.0L2176.0 1752.4L2177.1 1743.2L2178.2 1733.6L2179.3 1724.1L2180.4 1714.8L2181.5 1706.0L2182.6 1698.1L2183.7 1691.3L2184.8 1685.8L2185.9 1681.8L2187.1 1679.3L2188.2 1678.6L2189.3 1684.3L2190.4 1699.9L2191.5 1723.9L2192.6 1753.7L2193.7 1786.0L2194.8 1817.5L2195.9 1844.8L2197.0 1864.9L2198.1 1875.8L2199.2 1876.4L2200.3 1868.0L2201.4 1851.4L2202.5 1828.1L2203.6 1800.1L2204.7 1770.0L2205.8 1740.2L2206.9 1713.4L2208.0 1691.8L2209.2 1677.4L2210.3 1671.4L2211.4 1670.9L2212.5 1669.9L2213.6 1669.3L2214.7 1666.6L2215.8 1659.5L2216.9 1650.2L2218.0 1642.0L2219.1 1637.6L2220.2 1642.9L2221.3 1670.5L2222.4 1716.1L2223.5 1770.8L2224.6 1824.1L2225.7 1865.7L2226.8 1887.5L2227.9 1886.9L2229.0 1870.7L2230.1 1841.5L2231.2 1803.1L2232.4 1760.2L2233.5 1718.2L2234.6 1682.2L2235.7 1656.8L2236.8 1645.1L2237.9 1652.7L2239.0 1687.8L2240.1 1739.1L2241.2 1789.1L2242.3 1820.9L2243.4 1825.0L2244.5 1811.1L2245.6 1784.6L2246.7 1750.6L2247.8 1715.6L2248.9 1686.5L2250.0 1668.8L2251.1 1665.8L2252.2 1675.0L2253.3 1693.7L2254.5 1719.2L2255.6 1747.2L2256.7 1773.3L2257.8 1793.3L2258.9 1804.1L2260.0 1804.2L2261.1 1795.2L2262.2 1778.5L2263.3 1756.8L2264.4 1733.1L2265.5 1710.9L2266.6 1693.6L2267.7 1683.6L2268.8 1682.4L2269.9 1689.1L2271.0 1702.3L2272.1 1719.3L2273.2 1736.9L2274.3 1751.7L2275.4 1760.8L2276.6 1762.7L2277.7 1760.3L2278.8 1755.3L2279.9 1748.2L2281.0 1739.9L2282.1 1731.5L2283.2 1724.0L2284.3 1718.2L2285.4 1715.0L2286.5 1715.0L2287.6 1720.0L2288.7 1729.9L2289.8 1743.0L2290.9 1757.1L2292.0 1770.1L2293.1 1779.8L2294.2 1784.7L2295.3 1783.6L2296.4 1775.6L2297.6 1761.7L2298.7 1744.0L2299.8 1724.9L2300.9 1707.5L2302.0 1694.1L2303.1 1686.8L2304.2 1686.3L2305.3 1690.6L2306.4 1698.6L2307.5 1709.4L2308.6 1721.7L2309.7 1733.9L2310.8 1744.6L2311.9 1752.3L2313.0 1756.3L2314.1 1756.0L2315.2 1752.5L2316.3 1747.0L2317.4 1741.4L2318.5 1737.6L2319.7 1736.9L2320.8 1738.5L2321.9 1741.8L2323.0 1746.2L2324.1 1751.0L2325.2 1755.5L2326.3 1759.0L2327.4 1760.9L2328.5 1760.8L2329.6 1758.2L2330.7 1753.2L2331.8 1746.5L2332.9 1738.9L2334.0 1731.1L2335.1 1724.1L2336.2 1718.7L2337.3 1715.4L2338.4 1714.8L2339.5 1716.7L2340.6 1721.1L2341.8 1727.2L2342.9 1734.4L2344.0 1741.4L2345.1 1747.5L2346.2 1751.8L2347.3 1753.7L2348.4 1753.3L2349.5 1751.7L2350.6 1749.0L2351.7 1745.5L2352.8 1741.4L2353.9 1737.2L2355.0 1733.1L2356.1 1729.6L2357.2 1726.9L2358.3 1725.3L2359.4 1724.9L2360.5 1725.3L2361.6 1726.2L2362.7 1727.6L2363.8 1729.5L2365.0 1731.7L2366.1 1734.1L2367.2 1736.7L2368.3 1739.4L2369.4 1742.0L2370.5 1744.4L2371.6 1746.6L2372.7 1748.4L2373.8 1749.7L2374.9 1750.6L2376.0 1751.0L2377.1 1750.5L2378.2 1748.9L2379.3 1746.2L2380.4 1742.6L2381.5 1738.5L2382.6 1734.1L2383.7 1729.7L2384.8 1725.8L2385.9 1722.6L2387.1 1720.3L2388.2 1719.1L2389.3 1719.3L2390.4 1721.4L2391.5 1725.3L2392.6 1730.4L2393.7 1736.2L2394.8 1741.8L2395.9 1746.7L2397.0 1750.1L2398.1 1751.7L2399.2 1751.7L2400.3 1751.0L2401.4 1749.9L2402.5 1748.3L2403.6 1746.4L2404.7 1744.3L2405.8 1742.0L2406.9 1739.7L2408.1 1737.6L2409.2 1735.7L2410.3 1734.1L2411.4 1732.9L2412.5 1732.3L2413.6 1732.1L2414.7 1731.8L2415.8 1731.3L2416.9 1730.7L2418.0 1730.2L2419.1 1730.0L2420.2 1730.2L2421.3 1730.9L2422.4 1731.8L2423.5 1732.6L2424.6 1733.1L2425.7 1733.2L2426.8 1733.8L2427.9 1735.0L2429.0 1736.6L2430.2 1738.6L2431.3 1740.8L2432.4 1743.1L2433.5 1745.3L2434.6 1747.4L2435.7 1749.1L2436.8 1750.3L2437.9 1751.1L2439.0 1751.3L2440.1 1750.3L2441.2 1748.0L2442.3 1744.7L2443.4 1740.6L2444.5 1736.2L2445.6 1731.8L2446.7 1728.1L2447.8 1725.2L2448.9 1723.5L2450.0 1723.3L2451.1 1724.1L2452.2 1725.8L2453.4 1728.2L2454.5 1731.1L2455.6 1734.3L2456.7 1737.3L2457.8 1739.9L2458.9 1741.9L2460.0 1743.0L2461.1 1743.2L2462.2 1743.1L2463.3 1742.7L2464.4 1742.2L2465.5 1741.6L2466.6 1741.0L2467.7 1740.5L2468.8 1740.2L2469.9 1740.1L2471.0 1740.0L2472.1 1739.9L2473.2 1739.7L2474.3 1739.5L2475.5 1739.3L2476.6 1739.1L2477.7 1739.1L2478.8 1739.0L2479.9 1738.9L2481.0 1738.8L2482.1 1738.7L2483.2 1738.6L2484.3 1738.6L2485.4 1738.5L2486.5 1738.4L2487.6 1738.4L2488.7 1738.3L2489.8 1738.2L2490.9 1738.0L2492.0 1737.7L2493.1 1737.5L2494.2 1737.2L2495.3 1737.0L2496.4 1736.9L2497.6 1736.9L2498.7 1736.7L2499.8 1736.4L2500.9 1735.9L2502.0 1735.4L2503.1 1735.0L2504.2 1734.8L2505.3 1734.8L2506.4 1735.1L2507.5 1735.6L2508.6 1736.3L2509.7 1737.1L2510.8 1738.0L2511.9 1738.9L2513.0 1739.8L2514.1 1740.4L2515.2 1741.0L2516.3 1741.2L2517.4 1741.2L2518.6 1740.7L2519.7 1739.7L2520.8 1738.4L2521.9 1736.9L2523.0 1735.5L2524.1 1734.3L2525.2 1733.6L2526.3 1733.3L2527.4 1733.6L2528.5 1734.2L2529.6 1735.1L2530.7 1736.2L2531.8 1737.4L2532.9 1738.6L2534.0 1739.7L2535.1 1740.4L2536.2 1740.9L2537.3 1740.9L2538.4 1740.5L2539.5 1739.9L2540.7 1739.0L2541.8 1737.9L2542.9 1736.9L2544.0 1735.9L2545.1 1735.1L2546.2 1734.5L2547.3 1734.4L2548.4 1734.5L2549.5 1735.0L2550.6 1735.7L2551.7 1736.5L2552.8 1737.5L2553.9 1738.4L2555.0 1739.2L2556.1 1739.9L2557.2 1740.3L2558.3 1740.4L2559.4 1740.3L2560.5 1740.1L2561.6 1739.8L2562.8 1739.4L2563.9 1738.9L2565.0 1738.3L2566.1 1737.8L2567.2 1737.3L2568.3 1736.8L2569.4 1736.4L2570.5 1736.1L2571.6 1735.9L2572.7 1735.8L2573.8 1735.8L2574.9 1735.9L2576.0 1736.1L2577.1 1736.4L2578.2 1736.7L2579.3 1737.0L2580.4 1737.3L2581.5 1737.7L2582.6 1738.0L2583.7 1738.2L2584.8 1738.4L2586.0 1738.5L2587.1 1738.5L2588.2 1738.4L2589.3 1738.3L2590.4 1738.1L2591.5 1737.9L2592.6 1737.6L2593.7 1737.2L2594.8 1736.9L2595.9 1736.5L2597.0 1736.1L2598.1 1735.7L2599.2 1735.3L2600.3 1734.9L2601.4 1734.6L2602.5 1734.3L2603.6 1734.1L2604.7 1733.9L2605.8 1733.8L2606.9 1733.8L2608.1 1733.9L2609.2 1734.1L2610.3 1734.5L2611.4 1735.2L2612.5 1736.1L2613.6 1737.0L2614.7 1738.0L2615.8 1739.0L2616.9 1739.8L2618.0 1740.4L2619.1 1740.7L2620.2 1740.7L2621.3 1740.5L2622.4 1740.2L2623.5 1739.7L2624.6 1739.1L2625.7 1738.5L2626.8 1737.9L2627.9 1737.4L2629.1 1737.2L2630.2 1737.0L2631.3 1737.0L2632.4 1737.1L2633.5 1737.3L2634.6 1737.5L2635.7 1737.8L2636.8 1738.1L2637.9 1738.4L2639.0 1738.7L2640.1 1738.9L2641.2 1739.1L2642.3 1739.2L2643.4 1739.1L2644.5 1739.0L2645.6 1738.7L2646.7 1738.3L2647.8 1737.8L2648.9 1737.2L2650.0 1736.7L2651.1 1736.3L2652.3 1735.9L2653.4 1735.7L2654.5 1735.7L2655.6 1735.9L2656.7 1736.3L2657.8 1736.9L2658.9 1737.5L2660.0 1738.1L2661.1 1738.6L2662.2 1738.9L2663.3 1739.0L2664.4 1738.9L2665.5 1738.6L2666.6 1738.2L2667.7 1737.6L2668.8 1737.1L2669.9 1736.6L2671.0 1736.3L2672.1 1736.2L2673.2 1736.3L2674.4 1736.4L2675.5 1736.6L2676.6 1736.9L2677.7 1737.1L2678.8 1737.3L2679.9 1737.5L2681.0 1737.6L2682.1 1737.7L2683.2 1737.8L2684.3 1737.8L2685.4 1737.8L2686.5 1737.9L2687.6 1737.9L2688.7 1738.0L2689.8 1737.8L2690.9 1737.0L2692.0 1736.0L2693.1 1735.3L2694.2 1735.2L2695.3 1735.2" fill="none" stroke="#ff0000" stroke-width="6.5" stroke-linejoin="round" stroke-dasharray="21.5 9.5"/>
<rect x="1524.2" y="1282.0" width="1214.0" height="908.0" fill="none" stroke="#0a0a0a" stroke-width="5.6"/>
<path d="M1579.3 2190.0v-27.8M1579.3 1282.0v27.8M1800.3 2190.0v-27.8M1800.3 1282.0v27.8M2021.3 2190.0v-27.8M2021.3 1282.0v27.8M2242.3 2190.0v-27.8M2242.3 1282.0v27.8M2463.3 2190.0v-27.8M2463.3 1282.0v27.8M2684.3 2190.0v-27.8M2684.3 1282.0v27.8M1524.2 2038.7h27.8M2738.2 2038.7h-27.8M1524.2 1887.3h27.8M2738.2 1887.3h-27.8M1524.2 1736.0h27.8M2738.2 1736.0h-27.8M1524.2 1584.7h27.8M2738.2 1584.7h-27.8M1524.2 1433.3h27.8M2738.2 1433.3h-27.8" stroke="#0a0a0a" stroke-width="4.6" fill="none"/>

<rect x="2451.1" y="1328.9" width="236.1" height="123.4" rx="6" ry="6" fill="#fff" stroke="#dedede" stroke-width="5.0"/>
<path d="M2473.0 1354.6H2527.2" stroke="#0000ff" stroke-width="6.5"/>
<path d="M2474.5 1392.3H2527.2" stroke="#ff0000" stroke-width="5.2" stroke-dasharray="23 7"/>
<path d="M2474.5 1429.6H2527.2" stroke="#000000" stroke-width="6.5" stroke-dasharray="35 10 7.5 10"/>
</g>
<g id="axis-labels"><text filter="url(#softt)" class="tx" x="207.0" y="1006.0" text-anchor="middle">0</text>
<text filter="url(#softt)" class="tx" x="429.2" y="1006.0" text-anchor="middle">0.2</text>
<text filter="url(#softt)" class="tx" x="651.3" y="1006.0" text-anchor="middle">0.4</text>
<text filter="url(#softt)" class="tx" x="873.5" y="1006.0" text-anchor="middle">0.6</text>
<text filter="url(#softt)" class="tx" x="1095.6" y="1006.0" text-anchor="middle">0.8</text>
<text filter="url(#softt)" class="tx" x="1317.8" y="1006.0" text-anchor="middle">1.0</text>
<text filter="url(#softt)" class="tk" x="144.0" y="54.2" text-anchor="end">15</text>
<text filter="url(#softt)" class="tk" x="148.0" y="202.5" text-anchor="end">10</text>
<text filter="url(#softt)" class="tk" x="134.5" y="354.8" text-anchor="end">5</text>
<text filter="url(#softt)" class="tk" x="136.5" y="507.0" text-anchor="end">0</text>
<text filter="url(#softt)" class="tk" x="140.0" y="659.2" text-anchor="end">-5</text>
<text filter="url(#softt)" class="tk" x="148.0" y="811.5" text-anchor="end">-10</text>
<text filter="url(#softt)" class="tk" x="144.0" y="962.2" text-anchor="end">-15</text>
<text filter="url(#softt)" class="ax" x="625.3" y="1092.2">Time(s)</text>
<text filter="url(#softt)" class="am" transform="translate(53.5 460.0) rotate(-90)" text-anchor="middle">Amplitude</text>
<text filter="url(#softt)" class="tx" x="1579.8" y="1009.7" text-anchor="middle">0</text>
<text filter="url(#softt)" class="tx" x="1801.4" y="1009.7" text-anchor="middle">0.2</text>
<text filter="url(#softt)" class="tx" x="2023.0" y="1009.7" text-anchor="middle">0.4</text>
<text filter="url(#softt)" class="tx" x="2244.6" y="1009.7" text-anchor="middle">0.6</text>
<text filter="url(#softt)" class="tx" x="2466.2" y="1009.7" text-anchor="middle">0.8</text>
<text filter="url(#softt)" class="tx" x="2687.8" y="1009.7" text-anchor="middle">1.0</text>
<text filter="url(#softt)" class="tk" x="1517.0" y="58.1" text-anchor="end">15</text>
<text filter="url(#softt)" class="tk" x="1521.0" y="206.1" text-anchor="end">10</text>
<text filter="url(#softt)" class="tk" x="1507.5" y="358.1" text-anchor="end">5</text>
<text filter="url(#softt)" class="tk" x="1509.5" y="510.1" text-anchor="end">0</text>
<text filter="url(#softt)" class="tk" x="1513.0" y="662.1" text-anchor="end">-5</text>
<text filter="url(#softt)" class="tk" x="1521.0" y="814.1" text-anchor="end">-10</text>
<text filter="url(#softt)" class="tk" x="1517.0" y="964.6" text-anchor="end">-15</text>
<text filter="url(#softt)" class="ax" x="1995.6" y="1094.2">Time(s)</text>
<text filter="url(#softt)" class="am" transform="translate(1427.5 464.0) rotate(-90)" text-anchor="middle">Amplitude</text>
<text filter="url(#softt)" class="tx" x="211.2" y="2260.0" text-anchor="middle">0</text>
<text filter="url(#softt)" class="tx" x="432.6" y="2260.0" text-anchor="middle">0.2</text>
<text filter="url(#softt)" class="tx" x="653.9" y="2260.0" text-anchor="middle">0.4</text>
<text filter="url(#softt)" class="tx" x="875.3" y="2260.0" text-anchor="middle">0.6</text>
<text filter="url(#softt)" class="tx" x="1096.8" y="2260.0" text-anchor="middle">0.8</text>
<text filter="url(#softt)" class="tx" x="1318.1" y="2260.0" text-anchor="middle">1.0</text>
<text filter="url(#softt)" class="tk" x="148.5" y="1311.0" text-anchor="end">15</text>
<text filter="url(#softt)" class="tk" x="152.5" y="1458.7" text-anchor="end">10</text>
<text filter="url(#softt)" class="tk" x="139.0" y="1610.5" text-anchor="end">5</text>
<text filter="url(#softt)" class="tk" x="141.0" y="1762.2" text-anchor="end">0</text>
<text filter="url(#softt)" class="tk" x="144.5" y="1914.0" text-anchor="end">-5</text>
<text filter="url(#softt)" class="tk" x="152.5" y="2065.7" text-anchor="end">-10</text>
<text filter="url(#softt)" class="tk" x="148.5" y="2215.9" text-anchor="end">-15</text>
<text filter="url(#softt)" class="ax" x="627.8" y="2345.0">Time(s)</text>
<text filter="url(#softt)" class="am" transform="translate(59.5 1714.5) rotate(-90)" text-anchor="middle">Amplitude</text>
<text filter="url(#softt)" class="tx" x="1579.1" y="2254.5" text-anchor="middle">0</text>
<text filter="url(#softt)" class="tx" x="1800.1" y="2254.5" text-anchor="middle">0.2</text>
<text filter="url(#softt)" class="tx" x="2021.1" y="2254.5" text-anchor="middle">0.4</text>
<text filter="url(#softt)" class="tx" x="2242.1" y="2254.5" text-anchor="middle">0.6</text>
<text filter="url(#softt)" class="tx" x="2463.1" y="2254.5" text-anchor="middle">0.8</text>
<text filter="url(#softt)" class="tx" x="2684.1" y="2254.5" text-anchor="middle">1.0</text>
<text filter="url(#softt)" class="tk" x="1516.7" y="1307.0" text-anchor="end">15</text>
<text filter="url(#softt)" class="tk" x="1520.7" y="1454.3" text-anchor="end">10</text>
<text filter="url(#softt)" class="tk" x="1507.2" y="1605.7" text-anchor="end">5</text>
<text filter="url(#softt)" class="tk" x="1509.2" y="1757.0" text-anchor="end">0</text>
<text filter="url(#softt)" class="tk" x="1512.7" y="1908.3" text-anchor="end">-5</text>
<text filter="url(#softt)" class="tk" x="1520.7" y="2059.7" text-anchor="end">-10</text>
<text filter="url(#softt)" class="tk" x="1516.7" y="2209.6" text-anchor="end">-15</text>
<text filter="url(#softt)" class="ax" x="1993.8" y="2338.7">Time(s)</text>
<text filter="url(#softt)" class="am" transform="translate(1428.5 1711.0) rotate(-90)" text-anchor="middle">Amplitude</text></g>
<g id="legend-labels"><text class="lg" filter="url(#softt)" x="1182.5" y="111.2">Original</text><text class="lg" filter="url(#softt)" x="1182.5" y="148.9">F-K</text><text class="lg" filter="url(#softt)" x="1182.5" y="186.6">Residual</text><text class="lg" filter="url(#softt)" x="2550.0" y="116.9">Original</text><text class="lg" filter="url(#softt)" x="2550.0" y="153.2">Curvelet</text><text class="lg" filter="url(#softt)" x="2550.0" y="191.4">Residual</text><text class="lg" filter="url(#softt)" x="1183.5" y="1367.2">Original</text><text class="lg" filter="url(#softt)" x="1183.5" y="1405.9">GAN+L2</text><text class="lg" filter="url(#softt)" x="1183.5" y="1442.4">Residual</text><text class="lg" filter="url(#softt)" x="2547.8" y="1364.0">Original</text><text class="lg" filter="url(#softt)" x="2547.8" y="1401.7">GAN+MR</text><text class="lg" filter="url(#softt)" x="2547.8" y="1439.0">Residual</text></g>
<g id="captions"><text class="sub" x="668.7" y="1245.0" text-anchor="middle">(a)</text><text class="sub" x="2079.0" y="1246.4" text-anchor="middle">(b)</text><text class="sub" x="674.6" y="2493.8" text-anchor="middle">(c)</text><text class="sub" x="2072.4" y="2493.8" text-anchor="middle">(d)</text></g>
</svg></body></html>
